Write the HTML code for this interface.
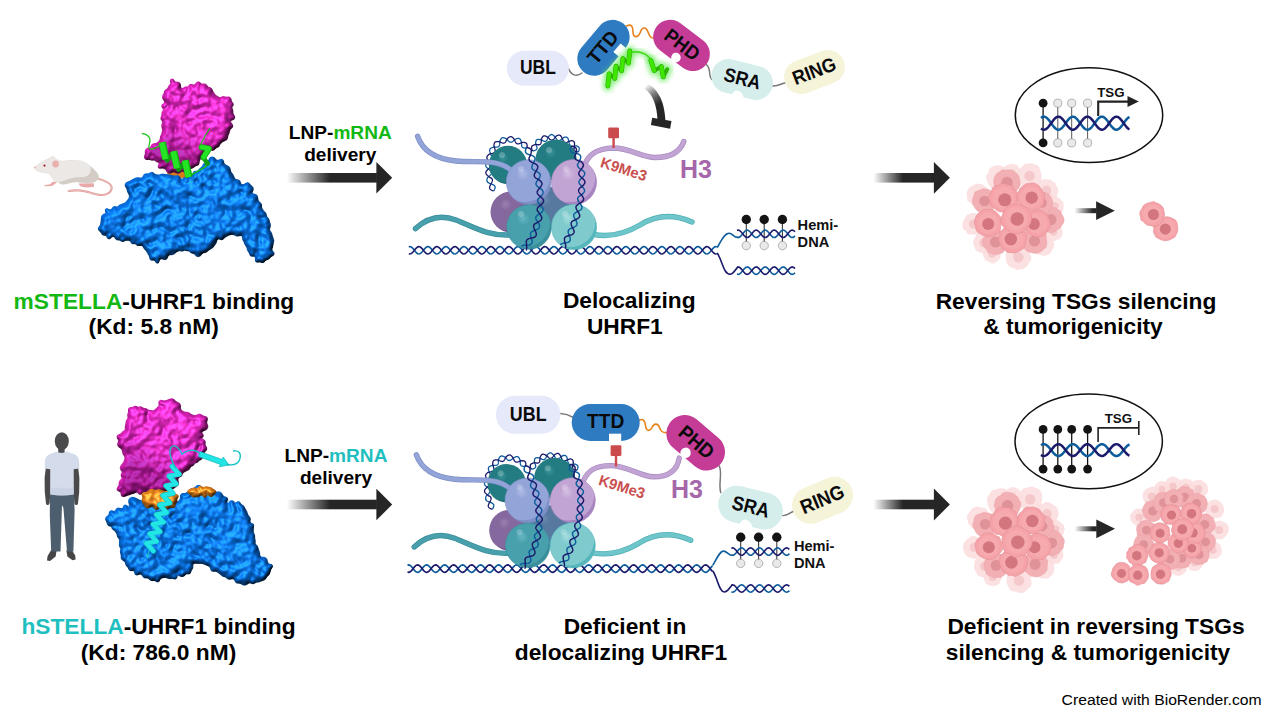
<!DOCTYPE html>
<html lang="en"><head><meta charset="utf-8"><title>STELLA-UHRF1 graphical abstract</title>
<style>
html,body{margin:0;padding:0;background:#fff;}
body{width:1269px;height:714px;overflow:hidden;}
svg{display:block;font-family:'Liberation Sans', Arial, sans-serif;}
</style></head><body>
<svg width="1269" height="714" viewBox="0 0 1269 714">
<defs>
<linearGradient id="ga1" gradientUnits="userSpaceOnUse" x1="286.8" y1="0" x2="330" y2="0"><stop offset="0" stop-color="#262626" stop-opacity="0"/><stop offset="0.35" stop-color="#262626" stop-opacity="0.35"/><stop offset="1" stop-color="#262626" stop-opacity="1"/></linearGradient>
<linearGradient id="ga2" gradientUnits="userSpaceOnUse" x1="873.4" y1="0" x2="903" y2="0"><stop offset="0" stop-color="#262626" stop-opacity="0"/><stop offset="0.35" stop-color="#262626" stop-opacity="0.35"/><stop offset="1" stop-color="#262626" stop-opacity="1"/></linearGradient>
<linearGradient id="ga3" gradientUnits="userSpaceOnUse" x1="286.8" y1="0" x2="330" y2="0"><stop offset="0" stop-color="#262626" stop-opacity="0"/><stop offset="0.35" stop-color="#262626" stop-opacity="0.35"/><stop offset="1" stop-color="#262626" stop-opacity="1"/></linearGradient>
<linearGradient id="ga4" gradientUnits="userSpaceOnUse" x1="873.4" y1="0" x2="903" y2="0"><stop offset="0" stop-color="#262626" stop-opacity="0"/><stop offset="0.35" stop-color="#262626" stop-opacity="0.35"/><stop offset="1" stop-color="#262626" stop-opacity="1"/></linearGradient>
<radialGradient id="sDT" cx="0.42" cy="0.4" r="0.66" fx="0.36" fy="0.3"><stop offset="0" stop-color="#3a9499"/><stop offset="0.22" stop-color="#237c82"/><stop offset="0.84" stop-color="#237c82"/><stop offset="0.86" stop-color="#1d6b73"/><stop offset="1" stop-color="#1d6b73"/></radialGradient>
<radialGradient id="sPW" cx="0.42" cy="0.4" r="0.66" fx="0.36" fy="0.3"><stop offset="0" stop-color="#aebbe6"/><stop offset="0.22" stop-color="#93a4d8"/><stop offset="0.84" stop-color="#93a4d8"/><stop offset="0.86" stop-color="#7f90c8"/><stop offset="1" stop-color="#7f90c8"/></radialGradient>
<radialGradient id="sLI" cx="0.42" cy="0.4" r="0.66" fx="0.36" fy="0.3"><stop offset="0" stop-color="#d6c0e3"/><stop offset="0.22" stop-color="#c1a4d3"/><stop offset="0.84" stop-color="#c1a4d3"/><stop offset="0.86" stop-color="#a884c0"/><stop offset="1" stop-color="#a884c0"/></radialGradient>
<radialGradient id="sPU" cx="0.42" cy="0.4" r="0.66" fx="0.36" fy="0.3"><stop offset="0" stop-color="#9a80b0"/><stop offset="0.22" stop-color="#85689e"/><stop offset="0.84" stop-color="#85689e"/><stop offset="0.86" stop-color="#75588f"/><stop offset="1" stop-color="#75588f"/></radialGradient>
<radialGradient id="sSL" cx="0.42" cy="0.4" r="0.66" fx="0.36" fy="0.3"><stop offset="0" stop-color="#6a8ab0"/><stop offset="0.22" stop-color="#57789f"/><stop offset="0.84" stop-color="#57789f"/><stop offset="0.86" stop-color="#4a6a92"/><stop offset="1" stop-color="#4a6a92"/></radialGradient>
<radialGradient id="sTE" cx="0.42" cy="0.4" r="0.66" fx="0.36" fy="0.3"><stop offset="0" stop-color="#66b6c0"/><stop offset="0.22" stop-color="#48a0ad"/><stop offset="0.84" stop-color="#48a0ad"/><stop offset="0.86" stop-color="#3b8e9c"/><stop offset="1" stop-color="#3b8e9c"/></radialGradient>
<radialGradient id="sLT" cx="0.42" cy="0.4" r="0.66" fx="0.36" fy="0.3"><stop offset="0" stop-color="#a6dfe0"/><stop offset="0.22" stop-color="#7fcacd"/><stop offset="0.84" stop-color="#7fcacd"/><stop offset="0.86" stop-color="#55b6bc"/><stop offset="1" stop-color="#55b6bc"/></radialGradient>
<filter id="glow" x="-40%" y="-40%" width="180%" height="180%"><feGaussianBlur stdDeviation="2.4"/></filter>
<linearGradient id="inh" gradientUnits="userSpaceOnUse" x1="646" y1="85" x2="659" y2="104"><stop offset="0" stop-color="#262626" stop-opacity="0"/><stop offset="0.5" stop-color="#262626" stop-opacity="0.6"/><stop offset="1" stop-color="#262626"/></linearGradient>
<linearGradient id="sa1" gradientUnits="userSpaceOnUse" x1="1074.4" y1="0" x2="1093" y2="0"><stop offset="0" stop-color="#262626" stop-opacity="0"/><stop offset="0.35" stop-color="#262626" stop-opacity="0.35"/><stop offset="1" stop-color="#262626" stop-opacity="1"/></linearGradient>
<linearGradient id="sa2" gradientUnits="userSpaceOnUse" x1="1074.6" y1="0" x2="1093" y2="0"><stop offset="0" stop-color="#262626" stop-opacity="0"/><stop offset="0.35" stop-color="#262626" stop-opacity="0.35"/><stop offset="1" stop-color="#262626" stop-opacity="1"/></linearGradient>
<filter id="bBlue" x="-5%" y="-5%" width="110%" height="110%" color-interpolation-filters="sRGB"><feGaussianBlur in="SourceAlpha" stdDeviation="1.0" result="h"/><feDiffuseLighting in="h" surfaceScale="5.5" diffuseConstant="1.0" lighting-color="#0876ee" result="d"><feDistantLight azimuth="235" elevation="64"/></feDiffuseLighting><feSpecularLighting in="h" surfaceScale="5.5" specularConstant="0.36" specularExponent="26" lighting-color="#58b4ff" result="s"><feDistantLight azimuth="235" elevation="64"/></feSpecularLighting><feComposite in="d" in2="s" operator="arithmetic" k1="0" k2="1" k3="1" k4="0" result="lit"/><feComponentTransfer in="h" result="mask"><feFuncA type="linear" slope="9" intercept="-1.25"/></feComponentTransfer><feComposite in="lit" in2="mask" operator="in"/></filter>
<filter id="bMag" x="-5%" y="-5%" width="110%" height="110%" color-interpolation-filters="sRGB"><feGaussianBlur in="SourceAlpha" stdDeviation="1.0" result="h"/><feDiffuseLighting in="h" surfaceScale="5.5" diffuseConstant="1.0" lighting-color="#ee26c8" result="d"><feDistantLight azimuth="235" elevation="64"/></feDiffuseLighting><feSpecularLighting in="h" surfaceScale="5.5" specularConstant="0.36" specularExponent="26" lighting-color="#ff8ce8" result="s"><feDistantLight azimuth="235" elevation="64"/></feSpecularLighting><feComposite in="d" in2="s" operator="arithmetic" k1="0" k2="1" k3="1" k4="0" result="lit"/><feComponentTransfer in="h" result="mask"><feFuncA type="linear" slope="9" intercept="-1.25"/></feComponentTransfer><feComposite in="lit" in2="mask" operator="in"/></filter>
<filter id="bOr" x="-5%" y="-5%" width="110%" height="110%" color-interpolation-filters="sRGB"><feGaussianBlur in="SourceAlpha" stdDeviation="1.0" result="h"/><feDiffuseLighting in="h" surfaceScale="4.5" diffuseConstant="1.0" lighting-color="#f0881c" result="d"><feDistantLight azimuth="235" elevation="64"/></feDiffuseLighting><feSpecularLighting in="h" surfaceScale="4.5" specularConstant="0.5" specularExponent="26" lighting-color="#ffd08a" result="s"><feDistantLight azimuth="235" elevation="64"/></feSpecularLighting><feComposite in="d" in2="s" operator="arithmetic" k1="0" k2="1" k3="1" k4="0" result="lit"/><feComponentTransfer in="h" result="mask"><feFuncA type="linear" slope="9" intercept="-1.25"/></feComponentTransfer><feComposite in="lit" in2="mask" operator="in"/></filter>
<radialGradient id="hh"><stop offset="0" stop-color="#fff" stop-opacity="0.5"/><stop offset="0.55" stop-color="#fff" stop-opacity="0.32"/><stop offset="1" stop-color="#fff" stop-opacity="0"/></radialGradient>
<radialGradient id="hf"><stop offset="0" stop-color="#fff" stop-opacity="0.2"/><stop offset="0.6" stop-color="#fff" stop-opacity="0.15"/><stop offset="1" stop-color="#fff" stop-opacity="0"/></radialGradient>
<linearGradient id="bOrL" x1="0" y1="0" x2="0" y2="1"><stop offset="0" stop-color="#f09a38"/><stop offset="0.5" stop-color="#dd7f1c"/><stop offset="1" stop-color="#b86410"/></linearGradient>
<linearGradient id="shMag" x1="0.7" y1="0.25" x2="0.3" y2="1"><stop offset="0" stop-color="#4a0045" stop-opacity="0"/><stop offset="0.45" stop-color="#4a0045" stop-opacity="0.05"/><stop offset="0.75" stop-color="#4a0045" stop-opacity="0.36"/><stop offset="1" stop-color="#4a0045" stop-opacity="0.42"/></linearGradient>
<filter id="soft2" x="-10%" y="-10%" width="120%" height="120%"><feGaussianBlur stdDeviation="1.6"/></filter>
<filter id="soft" x="-3%" y="-3%" width="106%" height="106%"><feGaussianBlur stdDeviation="0.35"/></filter>
</defs>
<rect width="1269" height="714" fill="#fff"/>
<text x="153.9" y="308.5" font-size="22.75" font-weight="bold" text-anchor="middle" fill="#000" ><tspan fill="#14b814">mSTELLA</tspan>-UHRF1 binding</text>
<text x="153.7" y="334.2" font-size="22.75" font-weight="bold" text-anchor="middle" fill="#000" >(Kd: 5.8 nM)</text>
<text x="629.3" y="308.2" font-size="22.75" font-weight="bold" text-anchor="middle" fill="#000" >Delocalizing</text>
<text x="624.8" y="333.8" font-size="22.75" font-weight="bold" text-anchor="middle" fill="#000" >UHRF1</text>
<text x="1076" y="308.5" font-size="22.75" font-weight="bold" text-anchor="middle" fill="#000" >Reversing TSGs silencing</text>
<text x="1073" y="334.2" font-size="22.75" font-weight="bold" text-anchor="middle" fill="#000" >&amp; tumorigenicity</text>
<text x="158.5" y="633.5" font-size="22.75" font-weight="bold" text-anchor="middle" fill="#000" ><tspan fill="#1fbfbf">hSTELLA</tspan>-UHRF1 binding</text>
<text x="158.5" y="659.5" font-size="22.75" font-weight="bold" text-anchor="middle" fill="#000" >(Kd: 786.0 nM)</text>
<text x="625" y="633.5" font-size="22.75" font-weight="bold" text-anchor="middle" fill="#000" >Deficient in</text>
<text x="621" y="659.5" font-size="22.75" font-weight="bold" text-anchor="middle" fill="#000" >delocalizing UHRF1</text>
<text x="1096" y="633.5" font-size="22.75" font-weight="bold" text-anchor="middle" fill="#000" >Deficient in reversing TSGs</text>
<text x="1088" y="659.5" font-size="22.75" font-weight="bold" text-anchor="middle" fill="#000" >silencing &amp; tumorigenicity</text>
<text x="340.3" y="138.7" font-size="19.1" font-weight="bold" text-anchor="middle" fill="#000" >LNP-<tspan fill="#14b814">mRNA</tspan></text>
<text x="340.3" y="160.7" font-size="19.1" font-weight="bold" text-anchor="middle" fill="#000" >delivery</text>
<text x="336" y="461.5" font-size="19.1" font-weight="bold" text-anchor="middle" fill="#000" >LNP-<tspan fill="#1fbfbf">mRNA</tspan></text>
<text x="336" y="483.5" font-size="19.1" font-weight="bold" text-anchor="middle" fill="#000" >delivery</text>
<text x="1261.6" y="704.7" font-size="15.2" font-weight="normal" text-anchor="end" fill="#000" textLength="200" lengthAdjust="spacingAndGlyphs">Created with BioRender.com</text>
<rect x="286.8" y="173" width="90.1" height="9.6" fill="url(#ga1)"/>
<polygon points="376.4,162 392.2,177.8 376.4,193.6" fill="#262626"/>
<rect x="873.4" y="173" width="61" height="9.6" fill="url(#ga2)"/>
<polygon points="933.9,161.9 949.9,177.8 933.9,193.7" fill="#262626"/>
<rect x="286.8" y="499.7" width="90.1" height="9.6" fill="url(#ga3)"/>
<polygon points="376.4,488.7 392.2,504.5 376.4,520.3" fill="#262626"/>
<rect x="873.4" y="499.7" width="61" height="9.6" fill="url(#ga4)"/>
<polygon points="933.9,488.6 949.9,504.5 933.9,520.4" fill="#262626"/>
<path d="M408.8,246.87 L409.8,246.6 L410.8,246.78 L411.8,247.39 L412.8,248.34 L413.8,249.54 L414.8,250.82 L415.8,252.04 L416.8,253.05 L417.8,253.73 L418.8,254 L419.8,253.82 L420.8,253.21 L421.8,252.26 L422.8,251.06 L423.8,249.78 L424.8,248.56 L425.8,247.55 L426.8,246.87 L427.8,246.6 L428.8,246.78 L429.8,247.39 L430.8,248.34 L431.8,249.54 L432.8,250.82 L433.8,252.04 L434.8,253.05 L435.8,253.73 L436.8,254 L437.8,253.82 L438.8,253.21 L439.8,252.26 L440.8,251.06 L441.8,249.78 L442.8,248.56 L443.8,247.55 L444.8,246.87 L445.8,246.6 L446.8,246.78 L447.8,247.39 L448.8,248.34 L449.8,249.54 L450.8,250.82 L451.8,252.04 L452.8,253.05 L453.8,253.73 L454.8,254 L455.8,253.82 L456.8,253.21 L457.8,252.26 L458.8,251.06 L459.8,249.78 L460.8,248.56 L461.8,247.55 L462.8,246.87 L463.8,246.6 L464.8,246.78 L465.8,247.39 L466.8,248.34 L467.8,249.54 L468.8,250.82 L469.8,252.04 L470.8,253.05 L471.8,253.73 L472.8,254 L473.8,253.82 L474.8,253.21 L475.8,252.26 L476.8,251.06 L477.8,249.78 L478.8,248.56 L479.8,247.55 L480.8,246.87 L481.8,246.6 L482.8,246.78 L483.8,247.39 L484.8,248.34 L485.8,249.54 L486.8,250.82 L487.8,252.04 L488.8,253.05 L489.8,253.73 L490.8,254 L491.8,253.82 L492.8,253.21 L493.8,252.26 L494.8,251.06 L495.8,249.78 L496.8,248.56 L497.8,247.55 L498.8,246.87 L499.8,246.6 L500.8,246.78 L501.8,247.39 L502.8,248.34 L503.8,249.54 L504.8,250.82 L505.8,252.04 L506.8,253.05 L507.8,253.73 L508.8,254 L509.8,253.82 L510.8,253.21 L511.8,252.26 L512.8,251.06 L513.8,249.78 L514.8,248.56 L515.8,247.55 L516.8,246.87 L517.8,246.6 L518.8,246.78 L519.8,247.39 L520.8,248.34 L521.8,249.54 L522.8,250.82 L523.8,252.04 L524.8,253.05 L525.8,253.73 L526.8,254 L527.8,253.82 L528.8,253.21 L529.8,252.26 L530.8,251.06 L531.8,249.78 L532.8,248.56 L533.8,247.55 L534.8,246.87 L535.8,246.6 L536.8,246.78 L537.8,247.39 L538.8,248.34 L539.8,249.54 L540.8,250.82 L541.8,252.04 L542.8,253.05 L543.8,253.73 L544.8,254 L545.8,253.82 L546.8,253.21 L547.8,252.26 L548.8,251.06 L549.8,249.78 L550.8,248.56 L551.8,247.55 L552.8,246.87 L553.8,246.6 L554.8,246.78 L555.8,247.39 L556.8,248.34 L557.8,249.54 L558.8,250.82 L559.8,252.04 L560.8,253.05 L561.8,253.73 L562.8,254 L563.8,253.82 L564.8,253.21 L565.8,252.26 L566.8,251.06 L567.8,249.78 L568.8,248.56 L569.8,247.55 L570.8,246.87 L571.8,246.6 L572.8,246.78 L573.8,247.39 L574.8,248.34 L575.8,249.54 L576.8,250.82 L577.8,252.04 L578.8,253.05 L579.8,253.73 L580.8,254 L581.8,253.82 L582.8,253.21 L583.8,252.26 L584.8,251.06 L585.8,249.78 L586.8,248.56 L587.8,247.55 L588.8,246.87 L589.8,246.6 L590.8,246.78 L591.8,247.39 L592.8,248.34 L593.8,249.54 L594.8,250.82 L595.8,252.04 L596.8,253.05 L597.8,253.73 L598.8,254 L599.8,253.82 L600.8,253.21 L601.8,252.26 L602.8,251.06 L603.8,249.78 L604.8,248.56 L605.8,247.55 L606.8,246.87 L607.8,246.6 L608.8,246.78 L609.8,247.39 L610.8,248.34 L611.8,249.54 L612.8,250.82 L613.8,252.04 L614.8,253.05 L615.8,253.73 L616.8,254 L617.8,253.82 L618.8,253.21 L619.8,252.26 L620.8,251.06 L621.8,249.78 L622.8,248.56 L623.8,247.55 L624.8,246.87 L625.8,246.6 L626.8,246.78 L627.8,247.39 L628.8,248.34 L629.8,249.54 L630.8,250.82 L631.8,252.04 L632.8,253.05 L633.8,253.73 L634.8,254 L635.8,253.82 L636.8,253.21 L637.8,252.26 L638.8,251.06 L639.8,249.78 L640.8,248.56 L641.8,247.55 L642.8,246.87 L643.8,246.6 L644.8,246.78 L645.8,247.39 L646.8,248.34 L647.8,249.54 L648.8,250.82 L649.8,252.04 L650.8,253.05 L651.8,253.73 L652.8,254 L653.8,253.82 L654.8,253.21 L655.8,252.26 L656.8,251.06 L657.8,249.78 L658.8,248.56 L659.8,247.55 L660.8,246.87 L661.8,246.6 L662.8,246.78 L663.8,247.39 L664.8,248.34 L665.8,249.54 L666.8,250.82 L667.8,252.04 L668.8,253.05 L669.8,253.73 L670.8,254 L671.8,253.82 L672.8,253.21 L673.8,252.26 L674.8,251.06 L675.8,249.78 L676.8,248.56 L677.8,247.55 L678.8,246.87 L679.8,246.6 L680.8,246.78 L681.8,247.39 L682.8,248.34 L683.8,249.54 L684.8,250.82 L685.8,252.04 L686.8,253.05 L687.8,253.73 L688.8,254 L689.8,253.82 L690.8,253.21 L691.8,252.26 L692.8,251.06 L693.8,249.78 L694.8,248.56 L695.8,247.55 L696.8,246.87 L697.8,246.6 L698.8,246.78 L699.8,247.39 L700.8,248.34 L701.8,249.54 L702.8,250.82 L703.8,252.04 L704.8,253.05 L705.8,253.73 L706.8,254 L707.8,253.82 L708.8,253.21 L709.8,252.26 L710.8,251.06 L711.8,249.78 L712.8,248.56 L713.8,247.55 L714.8,246.87 L715.8,246.6 L716.8,246.78" fill="none" stroke="#0d5c9c" stroke-width="1.65"/>
<path d="M408.8,253.73 L409.8,254 L410.8,253.82 L411.8,253.21 L412.8,252.26 L413.8,251.06 L414.8,249.78 L415.8,248.56 L416.8,247.55 L417.8,246.87 L418.8,246.6 L419.8,246.78 L420.8,247.39 L421.8,248.34 L422.8,249.54 L423.8,250.82 L424.8,252.04 L425.8,253.05 L426.8,253.73 L427.8,254 L428.8,253.82 L429.8,253.21 L430.8,252.26 L431.8,251.06 L432.8,249.78 L433.8,248.56 L434.8,247.55 L435.8,246.87 L436.8,246.6 L437.8,246.78 L438.8,247.39 L439.8,248.34 L440.8,249.54 L441.8,250.82 L442.8,252.04 L443.8,253.05 L444.8,253.73 L445.8,254 L446.8,253.82 L447.8,253.21 L448.8,252.26 L449.8,251.06 L450.8,249.78 L451.8,248.56 L452.8,247.55 L453.8,246.87 L454.8,246.6 L455.8,246.78 L456.8,247.39 L457.8,248.34 L458.8,249.54 L459.8,250.82 L460.8,252.04 L461.8,253.05 L462.8,253.73 L463.8,254 L464.8,253.82 L465.8,253.21 L466.8,252.26 L467.8,251.06 L468.8,249.78 L469.8,248.56 L470.8,247.55 L471.8,246.87 L472.8,246.6 L473.8,246.78 L474.8,247.39 L475.8,248.34 L476.8,249.54 L477.8,250.82 L478.8,252.04 L479.8,253.05 L480.8,253.73 L481.8,254 L482.8,253.82 L483.8,253.21 L484.8,252.26 L485.8,251.06 L486.8,249.78 L487.8,248.56 L488.8,247.55 L489.8,246.87 L490.8,246.6 L491.8,246.78 L492.8,247.39 L493.8,248.34 L494.8,249.54 L495.8,250.82 L496.8,252.04 L497.8,253.05 L498.8,253.73 L499.8,254 L500.8,253.82 L501.8,253.21 L502.8,252.26 L503.8,251.06 L504.8,249.78 L505.8,248.56 L506.8,247.55 L507.8,246.87 L508.8,246.6 L509.8,246.78 L510.8,247.39 L511.8,248.34 L512.8,249.54 L513.8,250.82 L514.8,252.04 L515.8,253.05 L516.8,253.73 L517.8,254 L518.8,253.82 L519.8,253.21 L520.8,252.26 L521.8,251.06 L522.8,249.78 L523.8,248.56 L524.8,247.55 L525.8,246.87 L526.8,246.6 L527.8,246.78 L528.8,247.39 L529.8,248.34 L530.8,249.54 L531.8,250.82 L532.8,252.04 L533.8,253.05 L534.8,253.73 L535.8,254 L536.8,253.82 L537.8,253.21 L538.8,252.26 L539.8,251.06 L540.8,249.78 L541.8,248.56 L542.8,247.55 L543.8,246.87 L544.8,246.6 L545.8,246.78 L546.8,247.39 L547.8,248.34 L548.8,249.54 L549.8,250.82 L550.8,252.04 L551.8,253.05 L552.8,253.73 L553.8,254 L554.8,253.82 L555.8,253.21 L556.8,252.26 L557.8,251.06 L558.8,249.78 L559.8,248.56 L560.8,247.55 L561.8,246.87 L562.8,246.6 L563.8,246.78 L564.8,247.39 L565.8,248.34 L566.8,249.54 L567.8,250.82 L568.8,252.04 L569.8,253.05 L570.8,253.73 L571.8,254 L572.8,253.82 L573.8,253.21 L574.8,252.26 L575.8,251.06 L576.8,249.78 L577.8,248.56 L578.8,247.55 L579.8,246.87 L580.8,246.6 L581.8,246.78 L582.8,247.39 L583.8,248.34 L584.8,249.54 L585.8,250.82 L586.8,252.04 L587.8,253.05 L588.8,253.73 L589.8,254 L590.8,253.82 L591.8,253.21 L592.8,252.26 L593.8,251.06 L594.8,249.78 L595.8,248.56 L596.8,247.55 L597.8,246.87 L598.8,246.6 L599.8,246.78 L600.8,247.39 L601.8,248.34 L602.8,249.54 L603.8,250.82 L604.8,252.04 L605.8,253.05 L606.8,253.73 L607.8,254 L608.8,253.82 L609.8,253.21 L610.8,252.26 L611.8,251.06 L612.8,249.78 L613.8,248.56 L614.8,247.55 L615.8,246.87 L616.8,246.6 L617.8,246.78 L618.8,247.39 L619.8,248.34 L620.8,249.54 L621.8,250.82 L622.8,252.04 L623.8,253.05 L624.8,253.73 L625.8,254 L626.8,253.82 L627.8,253.21 L628.8,252.26 L629.8,251.06 L630.8,249.78 L631.8,248.56 L632.8,247.55 L633.8,246.87 L634.8,246.6 L635.8,246.78 L636.8,247.39 L637.8,248.34 L638.8,249.54 L639.8,250.82 L640.8,252.04 L641.8,253.05 L642.8,253.73 L643.8,254 L644.8,253.82 L645.8,253.21 L646.8,252.26 L647.8,251.06 L648.8,249.78 L649.8,248.56 L650.8,247.55 L651.8,246.87 L652.8,246.6 L653.8,246.78 L654.8,247.39 L655.8,248.34 L656.8,249.54 L657.8,250.82 L658.8,252.04 L659.8,253.05 L660.8,253.73 L661.8,254 L662.8,253.82 L663.8,253.21 L664.8,252.26 L665.8,251.06 L666.8,249.78 L667.8,248.56 L668.8,247.55 L669.8,246.87 L670.8,246.6 L671.8,246.78 L672.8,247.39 L673.8,248.34 L674.8,249.54 L675.8,250.82 L676.8,252.04 L677.8,253.05 L678.8,253.73 L679.8,254 L680.8,253.82 L681.8,253.21 L682.8,252.26 L683.8,251.06 L684.8,249.78 L685.8,248.56 L686.8,247.55 L687.8,246.87 L688.8,246.6 L689.8,246.78 L690.8,247.39 L691.8,248.34 L692.8,249.54 L693.8,250.82 L694.8,252.04 L695.8,253.05 L696.8,253.73 L697.8,254 L698.8,253.82 L699.8,253.21 L700.8,252.26 L701.8,251.06 L702.8,249.78 L703.8,248.56 L704.8,247.55 L705.8,246.87 L706.8,246.6 L707.8,246.78 L708.8,247.39 L709.8,248.34 L710.8,249.54 L711.8,250.82 L712.8,252.04 L713.8,253.05 L714.8,253.73 L715.8,254 L716.8,253.82" fill="none" stroke="#1b1a6b" stroke-width="1.65"/>
<g transform="translate(0,0)">
<path d="M493.7,191 L494,190.44 L494.29,189.88 L494.55,189.33 L494.78,188.79 L494.95,188.28 L495.06,187.78 L495.11,187.31 L495.08,186.87 L494.98,186.46 L494.8,186.08 L494.54,185.73 L494.21,185.4 L493.81,185.1 L493.35,184.82 L492.84,184.57 L492.29,184.32 L491.7,184.09 L491.11,183.87 L490.51,183.64 L489.92,183.42 L489.35,183.18 L488.82,182.93 L488.34,182.66 L487.92,182.37 L487.56,182.05 L487.28,181.71 L487.07,181.34 L486.94,180.93 L486.88,180.5 L486.9,180.05 L487,179.56 L487.15,179.05 L487.26,178.03 L487.67,177.6 L488.12,177.16 L488.58,176.72 L489.05,176.29 L489.51,175.85 L489.95,175.41 L490.35,174.98 L490.7,174.54 L490.99,174.11 L491.21,173.68 L491.36,173.26 L491.42,172.83 L491.4,172.41 L491.3,171.99 L491.12,171.58 L490.86,171.16 L490.54,170.75 L490.16,170.34 L489.72,169.94 L489.26,169.53 L488.77,169.12 L488.27,168.72 L487.78,168.31 L487.31,167.91 L486.88,167.5 L486.49,167.09 L486.16,166.68 L485.89,166.27 L485.77,165.38 L485.74,164.95 L485.79,164.53 L485.92,164.12 L486.13,163.73 L486.42,163.34 L486.78,162.97 L487.2,162.6 L487.66,162.24 L488.17,161.89 L488.69,161.54 L489.23,161.19 L489.77,160.85 L490.28,160.49 L490.77,160.14 L491.21,159.78 L491.59,159.41 L491.91,159.03 L492.16,158.64 L492.33,158.24 L492.42,157.82 L492.42,157.4 L492.35,156.96 L492.19,156.51 L491.97,156.05 L491.68,155.59 L491.23,155.56 L491.04,154.98 L490.82,154.39 L490.6,153.79 L490.37,153.19 L490.16,152.6 L489.98,152.02 L489.83,151.47 L489.73,150.93 L489.68,150.43 L489.7,149.97 L489.79,149.54 L489.96,149.14 L490.19,148.79 L490.5,148.48 L490.88,148.2 L491.32,147.96 L491.82,147.75 L492.36,147.56 L492.94,147.4 L493.55,147.24 L494.18,147.1 L494.8,146.95 L495.23,147.05 L495.84,147.1 L496.42,147.11 L496.97,147.09 L497.47,147.02 L497.93,146.89 L498.34,146.71 L498.69,146.47 L498.98,146.17 L499.22,145.8 L499.41,145.38 L499.54,144.9 L499.63,144.38 L499.69,143.81 L499.71,143.21 L499.71,142.58 L499.7,141.95 L499.69,141.31 L500.05,140.62 L500.31,140.06 L500.58,139.54 L500.87,139.06 L501.18,138.65 L501.51,138.3 L501.86,138.02 L502.24,137.82 L502.64,137.7 L503.07,137.66 L503.53,137.69 L504.01,137.8 L504.51,137.97 L505.02,138.19 L505.55,138.46 L506.1,138.76 L506.65,139.08 L507.2,139.41 L507.46,139.86 L507.84,140.35 L508.22,140.8 L508.61,141.21 L509,141.55 L509.4,141.83 L509.8,142.04 L510.21,142.16 L510.63,142.21 L511.06,142.17 L511.49,142.04 L511.94,141.85 L512.38,141.58 L512.84,141.26 L513.29,140.88 L513.75,140.47 L514.22,140.04 L514.68,139.59 L515.33,139.23 L515.9,138.97 L516.45,138.74 L516.99,138.56 L517.5,138.42 L517.99,138.35 L518.45,138.35 L518.87,138.42 L519.27,138.56 L519.63,138.78 L519.97,139.08 L520.27,139.45 L520.54,139.88 L520.8,140.37 L521.03,140.91 L521.24,141.49 L521.45,142.08 L521.65,142.69 L521.62,143.23 L521.58,143.85 L521.56,144.46 L521.57,145.03 L521.63,145.57 L521.72,146.06 L521.88,146.5 L522.08,146.88 L522.35,147.21 L522.68,147.48 L523.07,147.69 L523.51,147.85 L524,147.96 L524.54,148.02 L525.12,148.05 L525.73,148.05 L526.36,148.03 L527,148" fill="none" stroke="#0d5c9c" stroke-width="1.3" stroke-linejoin="round"/>
<path d="M493.7,191 L493.1,190.78 L492.52,190.55 L491.96,190.31 L491.44,190.05 L490.96,189.78 L490.55,189.48 L490.21,189.16 L489.94,188.81 L489.74,188.44 L489.63,188.03 L489.59,187.59 L489.62,187.13 L489.72,186.64 L489.89,186.13 L490.1,185.6 L490.36,185.05 L490.64,184.49 L490.94,183.93 L491.24,183.37 L491.54,182.81 L491.8,182.25 L492.03,181.72 L492.22,181.2 L492.34,180.7 L492.4,180.23 L492.39,179.78 L492.3,179.36 L492.14,178.97 L491.89,178.62 L491.57,178.29 L491.19,177.98 L490.74,177.7 L490.34,177.93 L489.9,177.52 L489.42,177.12 L488.93,176.71 L488.44,176.31 L487.95,175.9 L487.48,175.49 L487.06,175.09 L486.68,174.68 L486.36,174.27 L486.11,173.85 L485.93,173.44 L485.84,173.02 L485.83,172.6 L485.9,172.17 L486.06,171.74 L486.29,171.32 L486.58,170.88 L486.94,170.45 L487.34,170.01 L487.78,169.58 L488.24,169.14 L488.71,168.7 L489.17,168.27 L489.61,167.83 L490.02,167.39 L490.38,166.96 L490.68,166.53 L490.92,166.1 L491.1,166.15 L491.25,165.75 L491.32,165.33 L491.31,164.9 L491.22,164.47 L491.05,164.01 L490.82,163.55 L490.52,163.09 L490.18,162.61 L489.8,162.13 L489.39,161.64 L488.97,161.16 L488.56,160.67 L488.16,160.19 L487.8,159.71 L487.48,159.23 L487.22,158.77 L487.02,158.32 L486.89,157.87 L486.84,157.44 L486.88,157.02 L487,156.61 L487.19,156.21 L487.47,155.82 L487.81,155.45 L488.22,155.08 L488.85,154.29 L489.44,154.13 L490.05,153.98 L490.67,153.83 L491.3,153.69 L491.91,153.53 L492.49,153.37 L493.03,153.18 L493.53,152.97 L493.97,152.73 L494.35,152.45 L494.66,152.14 L494.89,151.79 L495.06,151.39 L495.15,150.96 L495.17,150.5 L495.12,150 L495.02,149.46 L494.88,148.91 L494.69,148.33 L494.48,147.74 L494.25,147.14 L494.03,146.54 L494.01,145.71 L494.03,145.1 L494.07,144.52 L494.15,143.98 L494.26,143.48 L494.43,143.04 L494.65,142.65 L494.92,142.33 L495.26,142.06 L495.64,141.86 L496.08,141.72 L496.57,141.63 L497.1,141.59 L497.67,141.59 L498.27,141.62 L498.89,141.68 L499.53,141.75 L500.16,141.83 L500.56,142.18 L501.11,142.47 L501.63,142.73 L502.15,142.94 L502.64,143.1 L503.11,143.18 L503.56,143.2 L503.98,143.13 L504.38,142.99 L504.75,142.77 L505.1,142.47 L505.42,142.1 L505.72,141.67 L506.01,141.18 L506.27,140.65 L506.53,140.09 L506.78,139.5 L507.03,138.91 L507.59,138.38 L508.05,137.97 L508.51,137.59 L508.97,137.26 L509.41,136.99 L509.86,136.79 L510.29,136.66 L510.72,136.61 L511.14,136.65 L511.55,136.76 L511.96,136.96 L512.35,137.23 L512.75,137.58 L513.13,137.98 L513.52,138.43 L513.9,138.92 L514.27,139.43 L514.65,139.94 L514.82,140.44 L515.04,141.02 L515.26,141.58 L515.5,142.09 L515.77,142.55 L516.05,142.95 L516.37,143.28 L516.72,143.54 L517.1,143.72 L517.52,143.82 L517.96,143.85 L518.44,143.81 L518.94,143.7 L519.47,143.54 L520.01,143.33 L520.57,143.08 L521.14,142.81 L521.72,142.53 L522.44,142.44 L523.07,142.42 L523.67,142.43 L524.24,142.46 L524.77,142.54 L525.26,142.65 L525.69,142.82 L526.07,143.04 L526.39,143.32 L526.64,143.66 L526.84,144.06 L526.98,144.51 L527.07,145 L527.12,145.55 L527.12,146.13 L527.1,146.73 L527.05,147.36 L527,148" fill="none" stroke="#1b1a6b" stroke-width="1.3" stroke-linejoin="round"/>
<path d="M532.8,151 L533.24,150.88 L533.67,150.77 L534.1,150.64 L534.51,150.51 L534.9,150.37 L535.26,150.22 L535.6,150.06 L535.91,149.89 L536.18,149.69 L536.42,149.49 L536.62,149.26 L536.78,149.02 L536.9,148.75 L536.98,148.47 L537.02,148.18 L537.02,147.86 L536.99,147.53 L536.92,147.18 L536.82,146.82 L536.69,146.44 L536.54,146.06 L536.37,145.66 L536.19,145.26 L536,144.85 L535.8,144.45 L535.6,144.04 L535.64,143.4 L535.66,142.96 L535.69,142.53 L535.74,142.12 L535.8,141.73 L535.88,141.36 L535.98,141.02 L536.1,140.71 L536.25,140.43 L536.42,140.18 L536.62,139.97 L536.85,139.79 L537.1,139.65 L537.38,139.54 L537.69,139.47 L538.02,139.42 L538.38,139.41 L538.75,139.42 L539.15,139.46 L539.56,139.52 L539.98,139.59 L540.41,139.68 L540.85,139.77 L541.3,139.87 L541.74,139.97 L542.18,140.07 L542.29,140.36 L542.65,140.58 L543.01,140.79 L543.37,140.97 L543.71,141.11 L544.05,141.23 L544.37,141.31 L544.68,141.35 L544.98,141.36 L545.27,141.32 L545.55,141.23 L545.81,141.11 L546.07,140.94 L546.31,140.74 L546.53,140.49 L546.75,140.21 L546.96,139.9 L547.16,139.56 L547.35,139.19 L547.54,138.81 L547.72,138.41 L547.9,137.99 L548.07,137.57 L548.25,137.16 L548.43,136.74 L548.61,136.34 L549.19,135.95 L549.48,135.65 L549.76,135.38 L550.05,135.14 L550.34,134.94 L550.63,134.77 L550.92,134.64 L551.21,134.55 L551.49,134.51 L551.78,134.51 L552.07,134.55 L552.36,134.64 L552.65,134.77 L552.93,134.94 L553.22,135.14 L553.51,135.38 L553.8,135.65 L554.09,135.95 L554.38,136.27 L554.66,136.6 L554.95,136.95 L555.24,137.3 L555.53,137.65 L555.82,138 L556.1,138.33 L556.39,138.65 L556.31,138.95 L556.53,139.27 L556.76,139.57 L557,139.84 L557.24,140.07 L557.49,140.26 L557.76,140.4 L558.03,140.51 L558.31,140.58 L558.6,140.6 L558.9,140.57 L559.21,140.51 L559.53,140.41 L559.85,140.27 L560.19,140.1 L560.53,139.9 L560.88,139.68 L561.23,139.43 L561.58,139.17 L561.94,138.89 L562.3,138.61 L562.66,138.34 L563.01,138.06 L563.37,137.8 L563.72,137.55 L564.07,137.33 L564.41,137.13 L565.25,137.22 L565.6,137.17 L565.94,137.16 L566.25,137.18 L566.55,137.23 L566.82,137.33 L567.08,137.47 L567.31,137.64 L567.52,137.85 L567.72,138.1 L567.89,138.38 L568.05,138.7 L568.2,139.05 L568.32,139.42 L568.44,139.82 L568.55,140.24 L568.64,140.67 L568.74,141.11 L568.83,141.55 L568.92,142 L569.01,142.44 L569.11,142.87 L569.22,143.28 L569.33,143.68 L569.46,144.05 L569.6,144.4 L569.76,144.72 L569.35,144.63 L569.47,144.92 L569.62,145.18 L569.79,145.41 L570,145.61 L570.24,145.78 L570.51,145.92 L570.81,146.02 L571.13,146.1 L571.48,146.15 L571.86,146.17 L572.25,146.18 L572.67,146.16 L573.1,146.13 L573.54,146.09 L573.98,146.04 L574.43,145.98 L574.88,145.93 L575.33,145.88 L575.77,145.83 L576.2,145.8 L576.61,145.79 L577.3,146.29 L577.65,146.42 L577.97,146.57 L578.26,146.74 L578.51,146.93 L578.73,147.14 L578.91,147.37 L579.05,147.62 L579.15,147.89 L579.22,148.18 L579.24,148.5 L579.24,148.83 L579.2,149.19 L579.13,149.55 L579.03,149.94 L578.91,150.34 L578.78,150.74 L578.63,151.16 L578.47,151.58 L578.3,152" fill="none" stroke="#0d5c9c" stroke-width="1.3" stroke-linejoin="round"/>
<path d="M532.8,151 L532.6,150.59 L532.41,150.19 L532.22,149.79 L532.05,149.39 L531.9,149.01 L531.78,148.63 L531.68,148.27 L531.61,147.92 L531.57,147.59 L531.58,147.27 L531.62,146.97 L531.7,146.69 L531.82,146.43 L531.98,146.19 L532.18,145.96 L532.41,145.75 L532.69,145.56 L532.99,145.38 L533.33,145.22 L533.7,145.07 L534.09,144.93 L534.5,144.8 L534.92,144.68 L535.36,144.56 L535.8,144.45 L536.23,144.33 L536.5,144.5 L536.93,144.58 L537.35,144.66 L537.76,144.71 L538.16,144.75 L538.53,144.76 L538.88,144.75 L539.22,144.71 L539.52,144.63 L539.8,144.52 L540.06,144.38 L540.29,144.2 L540.49,143.99 L540.66,143.74 L540.81,143.46 L540.93,143.15 L541.03,142.81 L541.11,142.45 L541.17,142.06 L541.22,141.64 L541.25,141.22 L541.27,140.78 L541.28,140.33 L541.3,139.87 L541.31,139.42 L541.32,138.97 L541.7,138.38 L541.89,138 L542.08,137.63 L542.28,137.29 L542.49,136.98 L542.71,136.7 L542.93,136.45 L543.17,136.25 L543.42,136.08 L543.69,135.96 L543.97,135.88 L544.25,135.84 L544.56,135.84 L544.87,135.88 L545.19,135.96 L545.53,136.08 L545.87,136.23 L546.23,136.4 L546.59,136.61 L546.95,136.83 L547.32,137.07 L547.7,137.32 L548.07,137.57 L548.45,137.83 L548.82,138.08 L549.2,138.32 L549.19,138.65 L549.48,138.95 L549.76,139.22 L550.05,139.46 L550.34,139.66 L550.63,139.83 L550.92,139.96 L551.21,140.05 L551.49,140.09 L551.78,140.09 L552.07,140.05 L552.36,139.96 L552.65,139.83 L552.93,139.66 L553.22,139.46 L553.51,139.22 L553.8,138.95 L554.09,138.65 L554.38,138.33 L554.66,138 L554.95,137.65 L555.24,137.3 L555.53,136.95 L555.82,136.6 L556.1,136.27 L556.39,135.95 L557.04,135.74 L557.38,135.53 L557.72,135.36 L558.04,135.23 L558.36,135.12 L558.67,135.06 L558.97,135.04 L559.26,135.06 L559.54,135.12 L559.81,135.23 L560.08,135.38 L560.33,135.57 L560.57,135.8 L560.81,136.06 L561.04,136.36 L561.26,136.69 L561.47,137.04 L561.68,137.42 L561.89,137.81 L562.1,138.21 L562.3,138.61 L562.5,139.02 L562.71,139.42 L562.91,139.81 L563.12,140.18 L563.34,140.54 L563.56,140.87 L563.23,141.04 L563.39,141.35 L563.57,141.64 L563.76,141.89 L563.98,142.1 L564.21,142.27 L564.46,142.41 L564.74,142.5 L565.04,142.56 L565.35,142.58 L565.68,142.56 L566.04,142.52 L566.4,142.44 L566.79,142.33 L567.18,142.21 L567.58,142.06 L567.99,141.9 L568.41,141.73 L568.83,141.55 L569.25,141.38 L569.66,141.21 L570.07,141.04 L570.48,140.9 L570.87,140.77 L571.25,140.67 L571.62,140.59 L571.97,140.54 L572.85,140.96 L573.15,141.07 L573.42,141.2 L573.66,141.37 L573.86,141.57 L574.04,141.8 L574.19,142.06 L574.31,142.36 L574.4,142.68 L574.47,143.03 L574.51,143.4 L574.53,143.8 L574.53,144.21 L574.52,144.64 L574.5,145.08 L574.47,145.53 L574.43,145.98 L574.4,146.43 L574.37,146.88 L574.35,147.32 L574.34,147.75 L574.34,148.17 L573.95,148.16 L573.88,148.53 L573.84,148.88 L573.84,149.21 L573.86,149.53 L573.93,149.82 L574.03,150.1 L574.17,150.35 L574.35,150.58 L574.57,150.79 L574.82,150.97 L575.11,151.14 L575.43,151.29 L575.78,151.43 L576.16,151.55 L576.56,151.65 L576.98,151.75 L577.41,151.84 L577.85,151.92 L578.3,152" fill="none" stroke="#1b1a6b" stroke-width="1.3" stroke-linejoin="round"/>
<circle cx="508" cy="165" r="19.2" fill="url(#sDT)"/>
<circle cx="556" cy="160" r="20.6" fill="url(#sDT)"/>
<circle cx="511" cy="212" r="20.5" fill="url(#sPU)"/>
<circle cx="551" cy="208" r="21" fill="url(#sSL)"/>
<path d="M417.6,136.4 C423,152 436,159 456,161 C478,163 498,158 512,171" fill="none" stroke="#7d8ec8" stroke-width="5.4" stroke-linecap="round"/>
<path d="M417.6,136.4 C423,152 436,159 456,161 C478,163 498,158 512,171" fill="none" stroke="#93a4d8" stroke-width="4.0" stroke-linecap="round"/>
<path d="M415.5,228.6 C426,219 440,214 456,220 C474,227 488,236 510,235" fill="none" stroke="#3a8c9a" stroke-width="5.4" stroke-linecap="round"/>
<path d="M415.5,228.6 C426,219 440,214 456,220 C474,227 488,236 510,235" fill="none" stroke="#48a0ad" stroke-width="4.0" stroke-linecap="round"/>
<path d="M594,234.5 C612,238 628,232 640,225 C656,215 674,214 692,222" fill="none" stroke="#4fb0b6" stroke-width="5.4" stroke-linecap="round"/>
<path d="M594,234.5 C612,238 628,232 640,225 C656,215 674,214 692,222" fill="none" stroke="#6fc6ca" stroke-width="4.0" stroke-linecap="round"/>
<path d="M585,164 C590,152 600,148.5 613,148 C630,148 642,157.5 655,157.5 C670,157.5 680,152 683.8,141.5" fill="none" stroke="#a98bc2" stroke-width="5.4" stroke-linecap="round"/>
<path d="M585,164 C590,152 600,148.5 613,148 C630,148 642,157.5 655,157.5 C670,157.5 680,152 683.8,141.5" fill="none" stroke="#c1a4d3" stroke-width="4.0" stroke-linecap="round"/>
<circle cx="528.6" cy="182" r="22.3" fill="url(#sPW)" stroke="#7f90c8" stroke-width="0.6"/>
<circle cx="574" cy="182" r="22.6" fill="url(#sLI)" stroke="#a884c0" stroke-width="0.6"/>
<circle cx="529" cy="227" r="22.3" fill="url(#sTE)" stroke="#3b8e9c" stroke-width="0.6"/>
<circle cx="574" cy="227" r="22.6" fill="url(#sLT)" stroke="#55b6bc" stroke-width="0.6"/>
<circle cx="521" cy="169" r="3" fill="#fff" opacity="0.22"/>
<circle cx="566" cy="169" r="3" fill="#fff" opacity="0.22"/>
<circle cx="521" cy="214" r="3" fill="#fff" opacity="0.22"/>
<circle cx="565" cy="214" r="3" fill="#fff" opacity="0.22"/>
<circle cx="502" cy="155" r="3" fill="#fff" opacity="0.22"/>
<circle cx="549" cy="150" r="3" fill="#fff" opacity="0.22"/>
<path d="M526.4,147.3 L526.13,148.05 L525.89,148.79 L525.68,149.51 L525.53,150.2 L525.45,150.85 L525.46,151.45 L525.56,152.01 L525.76,152.51 L526.06,152.96 L526.47,153.36 L526.96,153.7 L527.54,154 L528.2,154.27 L528.91,154.5 L529.66,154.71 L530.43,154.92 L531.2,155.12 L531.95,155.33 L532.7,155.82 L533.31,156.18 L533.84,156.57 L534.27,156.99 L534.61,157.44 L534.84,157.93 L534.96,158.46 L534.98,159.02 L534.89,159.62 L534.72,160.25 L534.46,160.91 L534.15,161.59 L533.79,162.28 L533.42,162.98 L533.04,163.68 L532.68,164.38 L532.37,165.05 L532.12,165.71 L531.94,166.34 L531.85,166.94 L531.82,167.37 L531.92,167.91 L532.12,168.41 L532.44,168.88 L532.86,169.32 L533.36,169.73 L533.95,170.12 L534.6,170.49 L535.29,170.85 L536.01,171.2 L536.72,171.55 L537.41,171.91 L538.06,172.28 L538.65,172.67 L539.16,173.08 L539.57,173.52 L539.89,173.99 L540.1,174.49 L540.19,175.02 L540.18,175.58 L540.07,176.18 L539.86,176.8 L539.57,177.45 L539.21,178.25 L538.74,178.88 L538.25,179.51 L537.76,180.13 L537.3,180.76 L536.87,181.37 L536.51,181.98 L536.23,182.57 L536.05,183.15 L535.97,183.71 L536,184.25 L536.15,184.77 L536.4,185.27 L536.76,185.76 L537.22,186.23 L537.76,186.68 L538.36,187.13 L539,187.57 L539.67,188 L540.33,188.44 L540.98,188.88 L541.58,189.32 L542.13,190.01 L542.53,190.53 L542.83,191.05 L543.03,191.58 L543.12,192.12 L543.09,192.66 L542.95,193.2 L542.7,193.76 L542.36,194.32 L541.94,194.88 L541.45,195.44 L540.91,196.01 L540.36,196.58 L539.8,197.15 L539.27,197.72 L538.78,198.28 L538.36,198.85 L538.01,199.41 L537.77,199.96 L537.63,200.51 L537.6,201.05 L537.64,201.26 L537.78,201.81 L538.03,202.36 L538.37,202.92 L538.8,203.48 L539.28,204.05 L539.82,204.61 L540.37,205.18 L540.93,205.75 L541.46,206.32 L541.95,206.89 L542.37,207.45 L542.72,208.01 L542.96,208.56 L543.1,209.11 L543.13,209.65 L543.05,210.18 L542.85,210.71 L542.54,211.23 L542.14,211.75 L541.6,212.51 L540.98,212.93 L540.32,213.34 L539.64,213.75 L538.95,214.16 L538.29,214.57 L537.67,214.99 L537.12,215.43 L536.64,215.88 L536.26,216.35 L535.99,216.84 L535.82,217.36 L535.77,217.9 L535.82,218.46 L535.99,219.04 L536.24,219.64 L536.58,220.26 L536.97,220.9 L537.41,221.54 L537.88,222.19 L538.34,222.83 L538.78,223.47 L539.18,224.11 L539.35,225.07 L539.5,225.71 L539.55,226.32 L539.51,226.88 L539.36,227.4 L539.1,227.88 L538.74,228.31 L538.28,228.71 L537.74,229.07 L537.11,229.4 L536.43,229.7 L535.71,229.99 L534.96,230.27 L534.22,230.55 L533.49,230.83 L532.81,231.14 L532.19,231.47 L531.64,231.83 L531.18,232.22 L530.82,232.66 L530.56,233.13 L530.41,233.65 L530.37,234.22 L530.56,234.49 L530.61,235.15 L530.73,235.84 L530.91,236.57 L531.13,237.31 L531.36,238.07 L531.6,238.83 L531.81,239.58 L531.99,240.31 L532.11,241 L532.17,241.65 L532.14,242.26 L532.01,242.81 L531.79,243.31 L531.47,243.74 L531.05,244.12 L530.21,244.83 L529.58,244.98 L528.88,245.08 L528.14,245.14 L527.36,245.17 L526.56,245.18 L525.77,245.19 L524.99,245.22 L524.24,245.28 L523.55,245.38 L522.91,245.54 L522.34,245.75 L521.86,246.04 L521.46,246.41" fill="none" stroke="#0d5c9c" stroke-width="1.45" stroke-linejoin="round"/>
<path d="M526.4,147.3 L527.17,147.5 L527.92,147.72 L528.63,147.95 L529.28,148.21 L529.86,148.51 L530.36,148.86 L530.76,149.26 L531.07,149.71 L531.27,150.21 L531.37,150.76 L531.37,151.37 L531.3,152.02 L531.15,152.71 L530.94,153.43 L530.69,154.17 L530.43,154.92 L530.16,155.67 L529.92,156.4 L529.55,156.91 L529.3,157.57 L529.12,158.2 L529.04,158.8 L529.05,159.37 L529.17,159.89 L529.4,160.38 L529.74,160.84 L530.18,161.25 L530.71,161.64 L531.31,162 L531.98,162.34 L532.69,162.67 L533.42,162.98 L534.15,163.3 L534.85,163.62 L535.52,163.96 L536.13,164.32 L536.65,164.71 L537.09,165.13 L537.47,165.72 L537.67,166.22 L537.77,166.75 L537.76,167.32 L537.64,167.91 L537.44,168.53 L537.15,169.18 L536.8,169.84 L536.42,170.52 L536.01,171.2 L535.6,171.88 L535.21,172.55 L534.86,173.22 L534.58,173.86 L534.37,174.48 L534.26,175.08 L534.24,175.64 L534.34,176.17 L534.55,176.68 L534.86,177.14 L535.28,177.58 L535.79,177.99 L536.38,178.38 L536.94,178.63 L537.59,179.07 L538.25,179.51 L538.92,179.94 L539.56,180.38 L540.16,180.82 L540.7,181.28 L541.15,181.75 L541.52,182.24 L541.77,182.74 L541.92,183.26 L541.95,183.8 L541.87,184.36 L541.69,184.94 L541.41,185.53 L541.05,186.14 L540.62,186.75 L540.16,187.38 L539.67,188 L539.18,188.63 L538.71,189.25 L538.29,189.87 L537.89,190.24 L537.55,190.8 L537.3,191.36 L537.16,191.9 L537.13,192.44 L537.22,192.98 L537.42,193.51 L537.72,194.03 L538.12,194.55 L538.61,195.06 L539.15,195.57 L539.75,196.08 L540.36,196.58 L540.97,197.09 L541.56,197.59 L542.11,198.1 L542.59,198.62 L543,199.13 L543.3,199.66 L543.5,200.18 L543.59,200.72 L543.52,201.58 L543.32,202.11 L543.01,202.63 L542.61,203.15 L542.12,203.66 L541.58,204.17 L540.99,204.68 L540.37,205.18 L539.76,205.69 L539.17,206.2 L538.62,206.71 L538.14,207.22 L537.73,207.74 L537.43,208.26 L537.23,208.79 L537.14,209.32 L537.17,209.86 L537.31,210.41 L537.56,210.96 L537.9,211.52 L538.33,211.83 L538.73,212.46 L539.17,213.1 L539.64,213.75 L540.1,214.4 L540.54,215.04 L540.94,215.67 L541.27,216.29 L541.53,216.9 L541.69,217.48 L541.75,218.04 L541.69,218.58 L541.53,219.1 L541.25,219.59 L540.87,220.06 L540.39,220.51 L539.84,220.94 L539.22,221.37 L538.56,221.78 L537.88,222.19 L537.2,222.59 L536.53,223.01 L535.92,223.43 L535.42,223.48 L534.87,223.84 L534.41,224.24 L534.05,224.67 L533.8,225.15 L533.65,225.67 L533.61,226.23 L533.66,226.83 L533.8,227.47 L534.02,228.14 L534.3,228.84 L534.62,229.55 L534.96,230.27 L535.3,230.99 L535.62,231.7 L535.9,232.39 L536.12,233.06 L536.26,233.7 L536.32,234.3 L536.27,234.86 L536.12,235.39 L535.87,235.86 L535.51,236.3 L534.87,237 L534.28,237.28 L533.62,237.51 L532.9,237.72 L532.14,237.9 L531.36,238.07 L530.59,238.24 L529.83,238.43 L529.11,238.63 L528.45,238.87 L527.85,239.15 L527.34,239.47 L526.92,239.85 L526.6,240.29 L526.38,240.79 L526.26,241.34 L526.49,241.51 L526.41,242.16 L526.39,242.87 L526.42,243.61 L526.48,244.39 L526.56,245.18 L526.64,245.97 L526.7,246.75 L526.73,247.5 L526.72,248.2 L526.64,248.85 L526.49,249.44 L526.26,249.95 L525.94,250.39" fill="none" stroke="#1b1a6b" stroke-width="1.45" stroke-linejoin="round"/>
<path d="M571,146.4 L570.84,147.17 L570.69,147.94 L570.59,148.67 L570.53,149.37 L570.54,150.02 L570.63,150.61 L570.8,151.14 L571.07,151.61 L571.42,152 L571.87,152.34 L572.41,152.6 L573.03,152.82 L573.71,152.98 L574.44,153.11 L575.21,153.21 L575.99,153.3 L576.78,153.39 L577.64,153.75 L578.32,154.04 L578.94,154.36 L579.49,154.72 L579.95,155.1 L580.31,155.53 L580.56,156 L580.71,156.52 L580.75,157.07 L580.7,157.67 L580.55,158.3 L580.33,158.97 L580.06,159.66 L579.74,160.36 L579.4,161.08 L579.06,161.79 L578.74,162.5 L578.46,163.19 L578.04,163.38 L577.75,163.97 L577.56,164.53 L577.47,165.09 L577.49,165.62 L577.63,166.14 L577.88,166.64 L578.23,167.12 L578.68,167.59 L579.21,168.05 L579.8,168.5 L580.44,168.94 L581.1,169.38 L581.76,169.82 L582.39,170.26 L582.99,170.71 L583.52,171.17 L583.96,171.64 L584.32,172.12 L584.57,172.62 L584.7,173.14 L584.74,174.06 L584.58,174.6 L584.32,175.13 L583.95,175.67 L583.51,176.21 L583,176.75 L582.45,177.3 L581.87,177.84 L581.3,178.38 L580.74,178.93 L580.24,179.47 L579.79,180.01 L579.43,180.55 L579.16,181.08 L579,181.62 L578.95,182.15 L579.02,182.68 L579.2,183.21 L579.49,183.74 L579.87,184.26 L580.33,184.64 L580.81,185.21 L581.33,185.78 L581.88,186.35 L582.42,186.92 L582.95,187.49 L583.43,188.06 L583.84,188.62 L584.18,189.18 L584.42,189.73 L584.55,190.27 L584.57,190.81 L584.48,191.33 L584.27,191.85 L583.96,192.36 L583.55,192.87 L583.06,193.37 L582.5,193.86 L581.9,194.35 L581.28,194.84 L580.66,195.33 L580.06,195.82 L579.48,196.12 L578.93,196.55 L578.47,197.01 L578.1,197.48 L577.83,197.97 L577.67,198.48 L577.63,199.01 L577.7,199.57 L577.87,200.14 L578.14,200.74 L578.49,201.34 L578.9,201.96 L579.35,202.59 L579.82,203.22 L580.3,203.86 L580.75,204.48 L581.16,205.1 L581.51,205.71 L581.78,206.3 L581.95,206.88 L581.94,207.65 L581.85,208.18 L581.66,208.68 L581.35,209.14 L580.95,209.59 L580.45,210 L579.87,210.4 L579.23,210.77 L578.54,211.14 L577.84,211.5 L577.14,211.86 L576.45,212.22 L575.81,212.6 L575.23,213 L574.74,213.41 L574.33,213.85 L574.02,214.32 L573.83,214.82 L573.74,215.35 L573.77,215.91 L573.9,216.49 L574.12,217.1 L574.42,217.74 L574.78,218.39 L575.18,218.99 L575.54,219.69 L575.91,220.4 L576.25,221.09 L576.55,221.77 L576.8,222.43 L576.96,223.05 L577.04,223.65 L577.01,224.21 L576.88,224.73 L576.64,225.21 L576.3,225.65 L575.86,226.05 L575.32,226.42 L574.71,226.76 L574.04,227.08 L573.33,227.39 L572.59,227.68 L571.86,227.98 L571.15,228.28 L570.48,228.6 L569.87,228.94 L569.33,229.31 L568.89,229.72 L568.54,230.16 L568.31,230.64 L568.28,230.85 L568.2,231.4 L568.21,232 L568.31,232.65 L568.47,233.33 L568.7,234.03 L568.97,234.76 L569.25,235.5 L569.54,236.24 L569.8,236.96 L570.03,237.67 L570.2,238.35 L570.29,238.99 L570.3,239.59 L570.22,240.15 L570.03,240.65 L569.74,241.1 L569.17,241.75 L568.65,242.04 L568.05,242.29 L567.38,242.49 L566.65,242.65 L565.89,242.79 L565.11,242.92 L564.33,243.05 L563.57,243.2 L562.84,243.36 L562.17,243.56 L561.57,243.81 L561.05,244.1 L560.62,244.46 L560.28,244.87" fill="none" stroke="#0d5c9c" stroke-width="1.45" stroke-linejoin="round"/>
<path d="M571,146.4 L571.79,146.49 L572.55,146.59 L573.29,146.72 L573.97,146.88 L574.58,147.09 L575.12,147.36 L575.57,147.69 L575.93,148.09 L576.19,148.55 L576.37,149.09 L576.45,149.68 L576.46,150.33 L576.41,151.03 L576.3,151.76 L576.15,152.52 L575.99,153.3 L575.83,154.07 L575.51,154.62 L575.23,155.31 L575.01,155.97 L574.87,156.6 L574.82,157.2 L574.86,157.76 L575.01,158.27 L575.26,158.74 L575.62,159.17 L576.08,159.56 L576.63,159.91 L577.25,160.23 L577.93,160.53 L578.65,160.81 L579.4,161.08 L580.14,161.35 L580.86,161.63 L581.54,161.92 L582.24,162.75 L582.69,163.22 L583.04,163.7 L583.29,164.2 L583.43,164.72 L583.45,165.25 L583.36,165.81 L583.17,166.37 L582.88,166.96 L582.51,167.55 L582.07,168.15 L581.6,168.76 L581.1,169.38 L580.6,169.99 L580.12,170.6 L579.69,171.21 L579.32,171.8 L579.03,172.38 L578.84,172.95 L578.75,173.5 L578.77,174.04 L578.86,174.17 L579.04,174.7 L579.33,175.23 L579.71,175.75 L580.18,176.28 L580.7,176.8 L581.28,177.32 L581.87,177.84 L582.47,178.36 L583.04,178.88 L583.57,179.4 L584.03,179.93 L584.42,180.45 L584.7,180.98 L584.88,181.51 L584.95,182.04 L584.9,182.57 L584.74,183.11 L584.48,183.65 L584.11,184.18 L583.65,184.87 L583.1,185.37 L582.5,185.86 L581.88,186.35 L581.26,186.84 L580.66,187.33 L580.1,187.82 L579.61,188.32 L579.2,188.83 L578.89,189.34 L578.68,189.86 L578.59,190.39 L578.61,190.92 L578.74,191.46 L578.98,192.01 L579.31,192.57 L579.73,193.13 L580.21,193.7 L580.73,194.27 L581.28,194.84 L581.83,195.41 L582.35,195.98 L582.76,196.74 L583.1,197.35 L583.37,197.94 L583.54,198.52 L583.61,199.07 L583.57,199.6 L583.41,200.12 L583.14,200.61 L582.77,201.08 L582.31,201.53 L581.76,201.97 L581.15,202.39 L580.5,202.81 L579.82,203.22 L579.15,203.64 L578.5,204.05 L577.89,204.48 L577.34,204.92 L576.88,205.37 L576.5,205.84 L576.26,206.1 L576.06,206.6 L575.98,207.13 L576,207.69 L576.13,208.28 L576.35,208.89 L576.65,209.52 L577.01,210.17 L577.42,210.83 L577.84,211.5 L578.27,212.17 L578.67,212.83 L579.03,213.48 L579.33,214.11 L579.55,214.72 L579.68,215.31 L579.7,215.87 L579.62,216.39 L579.42,216.89 L579.12,217.36 L578.71,217.8 L578.21,218.22 L577.63,218.61 L576.99,218.99 L576.28,219.4 L575.54,219.69 L574.81,219.99 L574.1,220.3 L573.43,220.61 L572.82,220.96 L572.28,221.33 L571.84,221.73 L571.49,222.17 L571.25,222.65 L571.12,223.17 L571.1,223.73 L571.18,224.32 L571.34,224.95 L571.58,225.61 L571.89,226.29 L572.23,226.98 L572.59,227.68 L572.96,228.38 L573.3,229.08 L573.6,229.76 L573.85,230.41 L574.01,231.04 L574.09,231.64 L574.06,232.2 L573.93,232.71 L573.55,233.48 L573.16,233.88 L572.67,234.23 L572.1,234.54 L571.46,234.82 L570.75,235.06 L570.01,235.28 L569.25,235.5 L568.49,235.71 L567.75,235.94 L567.05,236.18 L566.4,236.45 L565.83,236.76 L565.34,237.11 L564.95,237.51 L564.66,237.96 L564.48,238.47 L564.52,238.74 L564.46,239.34 L564.48,239.99 L564.58,240.68 L564.72,241.41 L564.91,242.16 L565.11,242.92 L565.31,243.69 L565.5,244.44 L565.64,245.17 L565.74,245.86 L565.76,246.51 L565.71,247.11 L565.56,247.65 L565.32,248.13" fill="none" stroke="#1b1a6b" stroke-width="1.45" stroke-linejoin="round"/>
</g>
<rect x="612.4" y="137.7" width="2.4" height="10.3" fill="#cb4a4c"/>
<rect x="608.2" y="127.4" width="10.8" height="10.8" rx="1.3" fill="#cb4a4c"/>
<text x="0" y="0" font-size="14.8" font-weight="bold" text-anchor="middle" fill="#c9504f" transform="translate(622.3,174) rotate(17.4)">K9Me3</text>
<text x="696" y="178.3" font-size="25" font-weight="bold" text-anchor="middle" fill="#a567a9" >H3</text>
<g transform="translate(0,0)">
<path d="M717.5,247.17 C721.5,240.17 724.5,233.2 729,233.3 C733,233.5 733.5,237.4 737.6,237.4" fill="none" stroke="#0d5c9c" stroke-width="1.6" stroke-linecap="round"/>
<path d="M717.5,253.43 C722.5,261.43 723.5,274 730,274.2 C733.5,274.2 734.5,270.5 737.6,267.4" fill="none" stroke="#1b1a6b" stroke-width="1.6" stroke-linecap="round"/>
<line x1="746.3" y1="221" x2="746.3" y2="243" stroke="#3a3a3a" stroke-width="1.1"/>
<line x1="764.2" y1="221" x2="764.2" y2="243" stroke="#3a3a3a" stroke-width="1.1"/>
<line x1="782.4" y1="221" x2="782.4" y2="243" stroke="#3a3a3a" stroke-width="1.1"/>
<path d="M737,237.18 L738,237.49 L739,237.36 L740,236.8 L741,235.87 L742,234.7 L743,233.42 L744,232.18 L745,231.14 L746,230.42 L747,230.11 L748,230.24 L749,230.8 L750,231.73 L751,232.9 L752,234.18 L753,235.42 L754,236.46 L755,237.18 L756,237.49 L757,237.36 L758,236.8 L759,235.87 L760,234.7 L761,233.42 L762,232.18 L763,231.14 L764,230.42 L765,230.11 L766,230.24 L767,230.8 L768,231.73 L769,232.9 L770,234.18 L771,235.42 L772,236.46 L773,237.18 L774,237.49 L775,237.36 L776,236.8 L777,235.87 L778,234.7 L779,233.42 L780,232.18 L781,231.14 L782,230.42 L783,230.11 L784,230.24 L785,230.8 L786,231.73 L787,232.9 L788,234.18 L789,235.42 L790,236.46 L791,237.18 L792,237.49 L793,237.36 L794,236.8 L795,235.87" fill="none" stroke="#0d5c9c" stroke-width="1.6"/>
<path d="M737,230.42 L738,230.11 L739,230.24 L740,230.8 L741,231.73 L742,232.9 L743,234.18 L744,235.42 L745,236.46 L746,237.18 L747,237.49 L748,237.36 L749,236.8 L750,235.87 L751,234.7 L752,233.42 L753,232.18 L754,231.14 L755,230.42 L756,230.11 L757,230.24 L758,230.8 L759,231.73 L760,232.9 L761,234.18 L762,235.42 L763,236.46 L764,237.18 L765,237.49 L766,237.36 L767,236.8 L768,235.87 L769,234.7 L770,233.42 L771,232.18 L772,231.14 L773,230.42 L774,230.11 L775,230.24 L776,230.8 L777,231.73 L778,232.9 L779,234.18 L780,235.42 L781,236.46 L782,237.18 L783,237.49 L784,237.36 L785,236.8 L786,235.87 L787,234.7 L788,233.42 L789,232.18 L790,231.14 L791,230.42 L792,230.11 L793,230.24 L794,230.8 L795,231.73" fill="none" stroke="#1b1a6b" stroke-width="1.6"/>
<path d="M737,274.08 L738,274.39 L739,274.26 L740,273.7 L741,272.77 L742,271.6 L743,270.32 L744,269.08 L745,268.04 L746,267.32 L747,267.01 L748,267.14 L749,267.7 L750,268.63 L751,269.8 L752,271.08 L753,272.32 L754,273.36 L755,274.08 L756,274.39 L757,274.26 L758,273.7 L759,272.77 L760,271.6 L761,270.32 L762,269.08 L763,268.04 L764,267.32 L765,267.01 L766,267.14 L767,267.7 L768,268.63 L769,269.8 L770,271.08 L771,272.32 L772,273.36 L773,274.08 L774,274.39 L775,274.26 L776,273.7 L777,272.77 L778,271.6 L779,270.32 L780,269.08 L781,268.04 L782,267.32 L783,267.01 L784,267.14 L785,267.7 L786,268.63 L787,269.8 L788,271.08 L789,272.32 L790,273.36 L791,274.08 L792,274.39 L793,274.26 L794,273.7 L795,272.77" fill="none" stroke="#0d5c9c" stroke-width="1.6"/>
<path d="M737,267.32 L738,267.01 L739,267.14 L740,267.7 L741,268.63 L742,269.8 L743,271.08 L744,272.32 L745,273.36 L746,274.08 L747,274.39 L748,274.26 L749,273.7 L750,272.77 L751,271.6 L752,270.32 L753,269.08 L754,268.04 L755,267.32 L756,267.01 L757,267.14 L758,267.7 L759,268.63 L760,269.8 L761,271.08 L762,272.32 L763,273.36 L764,274.08 L765,274.39 L766,274.26 L767,273.7 L768,272.77 L769,271.6 L770,270.32 L771,269.08 L772,268.04 L773,267.32 L774,267.01 L775,267.14 L776,267.7 L777,268.63 L778,269.8 L779,271.08 L780,272.32 L781,273.36 L782,274.08 L783,274.39 L784,274.26 L785,273.7 L786,272.77 L787,271.6 L788,270.32 L789,269.08 L790,268.04 L791,267.32 L792,267.01 L793,267.14 L794,267.7 L795,268.63" fill="none" stroke="#1b1a6b" stroke-width="1.6"/>
<circle cx="746.3" cy="219.5" r="4.7" fill="#141414"/>
<circle cx="746.3" cy="245.6" r="4.2" fill="#e9e9e9" stroke="#8a8a8a" stroke-width="0.6"/>
<circle cx="764.2" cy="219.5" r="4.7" fill="#141414"/>
<circle cx="764.2" cy="245.6" r="4.2" fill="#e9e9e9" stroke="#8a8a8a" stroke-width="0.6"/>
<circle cx="782.4" cy="219.5" r="4.7" fill="#141414"/>
<circle cx="782.4" cy="245.6" r="4.2" fill="#e9e9e9" stroke="#8a8a8a" stroke-width="0.6"/>
<text x="797.6" y="229.7" font-size="14.6" font-weight="bold" text-anchor="start" fill="#111" >Hemi-</text>
<text x="797.6" y="246.7" font-size="14.6" font-weight="bold" text-anchor="start" fill="#111" >DNA</text>
</g>
<path d="M407.5,565.17 L408.5,564.9 L409.5,565.08 L410.5,565.69 L411.5,566.64 L412.5,567.84 L413.5,569.12 L414.5,570.34 L415.5,571.35 L416.5,572.03 L417.5,572.3 L418.5,572.12 L419.5,571.51 L420.5,570.56 L421.5,569.36 L422.5,568.08 L423.5,566.86 L424.5,565.85 L425.5,565.17 L426.5,564.9 L427.5,565.08 L428.5,565.69 L429.5,566.64 L430.5,567.84 L431.5,569.12 L432.5,570.34 L433.5,571.35 L434.5,572.03 L435.5,572.3 L436.5,572.12 L437.5,571.51 L438.5,570.56 L439.5,569.36 L440.5,568.08 L441.5,566.86 L442.5,565.85 L443.5,565.17 L444.5,564.9 L445.5,565.08 L446.5,565.69 L447.5,566.64 L448.5,567.84 L449.5,569.12 L450.5,570.34 L451.5,571.35 L452.5,572.03 L453.5,572.3 L454.5,572.12 L455.5,571.51 L456.5,570.56 L457.5,569.36 L458.5,568.08 L459.5,566.86 L460.5,565.85 L461.5,565.17 L462.5,564.9 L463.5,565.08 L464.5,565.69 L465.5,566.64 L466.5,567.84 L467.5,569.12 L468.5,570.34 L469.5,571.35 L470.5,572.03 L471.5,572.3 L472.5,572.12 L473.5,571.51 L474.5,570.56 L475.5,569.36 L476.5,568.08 L477.5,566.86 L478.5,565.85 L479.5,565.17 L480.5,564.9 L481.5,565.08 L482.5,565.69 L483.5,566.64 L484.5,567.84 L485.5,569.12 L486.5,570.34 L487.5,571.35 L488.5,572.03 L489.5,572.3 L490.5,572.12 L491.5,571.51 L492.5,570.56 L493.5,569.36 L494.5,568.08 L495.5,566.86 L496.5,565.85 L497.5,565.17 L498.5,564.9 L499.5,565.08 L500.5,565.69 L501.5,566.64 L502.5,567.84 L503.5,569.12 L504.5,570.34 L505.5,571.35 L506.5,572.03 L507.5,572.3 L508.5,572.12 L509.5,571.51 L510.5,570.56 L511.5,569.36 L512.5,568.08 L513.5,566.86 L514.5,565.85 L515.5,565.17 L516.5,564.9 L517.5,565.08 L518.5,565.69 L519.5,566.64 L520.5,567.84 L521.5,569.12 L522.5,570.34 L523.5,571.35 L524.5,572.03 L525.5,572.3 L526.5,572.12 L527.5,571.51 L528.5,570.56 L529.5,569.36 L530.5,568.08 L531.5,566.86 L532.5,565.85 L533.5,565.17 L534.5,564.9 L535.5,565.08 L536.5,565.69 L537.5,566.64 L538.5,567.84 L539.5,569.12 L540.5,570.34 L541.5,571.35 L542.5,572.03 L543.5,572.3 L544.5,572.12 L545.5,571.51 L546.5,570.56 L547.5,569.36 L548.5,568.08 L549.5,566.86 L550.5,565.85 L551.5,565.17 L552.5,564.9 L553.5,565.08 L554.5,565.69 L555.5,566.64 L556.5,567.84 L557.5,569.12 L558.5,570.34 L559.5,571.35 L560.5,572.03 L561.5,572.3 L562.5,572.12 L563.5,571.51 L564.5,570.56 L565.5,569.36 L566.5,568.08 L567.5,566.86 L568.5,565.85 L569.5,565.17 L570.5,564.9 L571.5,565.08 L572.5,565.69 L573.5,566.64 L574.5,567.84 L575.5,569.12 L576.5,570.34 L577.5,571.35 L578.5,572.03 L579.5,572.3 L580.5,572.12 L581.5,571.51 L582.5,570.56 L583.5,569.36 L584.5,568.08 L585.5,566.86 L586.5,565.85 L587.5,565.17 L588.5,564.9 L589.5,565.08 L590.5,565.69 L591.5,566.64 L592.5,567.84 L593.5,569.12 L594.5,570.34 L595.5,571.35 L596.5,572.03 L597.5,572.3 L598.5,572.12 L599.5,571.51 L600.5,570.56 L601.5,569.36 L602.5,568.08 L603.5,566.86 L604.5,565.85 L605.5,565.17 L606.5,564.9 L607.5,565.08 L608.5,565.69 L609.5,566.64 L610.5,567.84 L611.5,569.12 L612.5,570.34 L613.5,571.35 L614.5,572.03 L615.5,572.3 L616.5,572.12 L617.5,571.51 L618.5,570.56 L619.5,569.36 L620.5,568.08 L621.5,566.86 L622.5,565.85 L623.5,565.17 L624.5,564.9 L625.5,565.08 L626.5,565.69 L627.5,566.64 L628.5,567.84 L629.5,569.12 L630.5,570.34 L631.5,571.35 L632.5,572.03 L633.5,572.3 L634.5,572.12 L635.5,571.51 L636.5,570.56 L637.5,569.36 L638.5,568.08 L639.5,566.86 L640.5,565.85 L641.5,565.17 L642.5,564.9 L643.5,565.08 L644.5,565.69 L645.5,566.64 L646.5,567.84 L647.5,569.12 L648.5,570.34 L649.5,571.35 L650.5,572.03 L651.5,572.3 L652.5,572.12 L653.5,571.51 L654.5,570.56 L655.5,569.36 L656.5,568.08 L657.5,566.86 L658.5,565.85 L659.5,565.17 L660.5,564.9 L661.5,565.08 L662.5,565.69 L663.5,566.64 L664.5,567.84 L665.5,569.12 L666.5,570.34 L667.5,571.35 L668.5,572.03 L669.5,572.3 L670.5,572.12 L671.5,571.51 L672.5,570.56 L673.5,569.36 L674.5,568.08 L675.5,566.86 L676.5,565.85 L677.5,565.17 L678.5,564.9 L679.5,565.08 L680.5,565.69 L681.5,566.64 L682.5,567.84 L683.5,569.12 L684.5,570.34 L685.5,571.35 L686.5,572.03 L687.5,572.3 L688.5,572.12 L689.5,571.51 L690.5,570.56 L691.5,569.36 L692.5,568.08 L693.5,566.86 L694.5,565.85 L695.5,565.17 L696.5,564.9 L697.5,565.08 L698.5,565.69 L699.5,566.64 L700.5,567.84 L701.5,569.12 L702.5,570.34 L703.5,571.35 L704.5,572.03 L705.5,572.3 L706.5,572.12 L707.5,571.51 L708.5,570.56 L709.5,569.36 L710.5,568.08 L711.5,566.86 L712.5,565.85" fill="none" stroke="#0d5c9c" stroke-width="1.65"/>
<path d="M407.5,572.03 L408.5,572.3 L409.5,572.12 L410.5,571.51 L411.5,570.56 L412.5,569.36 L413.5,568.08 L414.5,566.86 L415.5,565.85 L416.5,565.17 L417.5,564.9 L418.5,565.08 L419.5,565.69 L420.5,566.64 L421.5,567.84 L422.5,569.12 L423.5,570.34 L424.5,571.35 L425.5,572.03 L426.5,572.3 L427.5,572.12 L428.5,571.51 L429.5,570.56 L430.5,569.36 L431.5,568.08 L432.5,566.86 L433.5,565.85 L434.5,565.17 L435.5,564.9 L436.5,565.08 L437.5,565.69 L438.5,566.64 L439.5,567.84 L440.5,569.12 L441.5,570.34 L442.5,571.35 L443.5,572.03 L444.5,572.3 L445.5,572.12 L446.5,571.51 L447.5,570.56 L448.5,569.36 L449.5,568.08 L450.5,566.86 L451.5,565.85 L452.5,565.17 L453.5,564.9 L454.5,565.08 L455.5,565.69 L456.5,566.64 L457.5,567.84 L458.5,569.12 L459.5,570.34 L460.5,571.35 L461.5,572.03 L462.5,572.3 L463.5,572.12 L464.5,571.51 L465.5,570.56 L466.5,569.36 L467.5,568.08 L468.5,566.86 L469.5,565.85 L470.5,565.17 L471.5,564.9 L472.5,565.08 L473.5,565.69 L474.5,566.64 L475.5,567.84 L476.5,569.12 L477.5,570.34 L478.5,571.35 L479.5,572.03 L480.5,572.3 L481.5,572.12 L482.5,571.51 L483.5,570.56 L484.5,569.36 L485.5,568.08 L486.5,566.86 L487.5,565.85 L488.5,565.17 L489.5,564.9 L490.5,565.08 L491.5,565.69 L492.5,566.64 L493.5,567.84 L494.5,569.12 L495.5,570.34 L496.5,571.35 L497.5,572.03 L498.5,572.3 L499.5,572.12 L500.5,571.51 L501.5,570.56 L502.5,569.36 L503.5,568.08 L504.5,566.86 L505.5,565.85 L506.5,565.17 L507.5,564.9 L508.5,565.08 L509.5,565.69 L510.5,566.64 L511.5,567.84 L512.5,569.12 L513.5,570.34 L514.5,571.35 L515.5,572.03 L516.5,572.3 L517.5,572.12 L518.5,571.51 L519.5,570.56 L520.5,569.36 L521.5,568.08 L522.5,566.86 L523.5,565.85 L524.5,565.17 L525.5,564.9 L526.5,565.08 L527.5,565.69 L528.5,566.64 L529.5,567.84 L530.5,569.12 L531.5,570.34 L532.5,571.35 L533.5,572.03 L534.5,572.3 L535.5,572.12 L536.5,571.51 L537.5,570.56 L538.5,569.36 L539.5,568.08 L540.5,566.86 L541.5,565.85 L542.5,565.17 L543.5,564.9 L544.5,565.08 L545.5,565.69 L546.5,566.64 L547.5,567.84 L548.5,569.12 L549.5,570.34 L550.5,571.35 L551.5,572.03 L552.5,572.3 L553.5,572.12 L554.5,571.51 L555.5,570.56 L556.5,569.36 L557.5,568.08 L558.5,566.86 L559.5,565.85 L560.5,565.17 L561.5,564.9 L562.5,565.08 L563.5,565.69 L564.5,566.64 L565.5,567.84 L566.5,569.12 L567.5,570.34 L568.5,571.35 L569.5,572.03 L570.5,572.3 L571.5,572.12 L572.5,571.51 L573.5,570.56 L574.5,569.36 L575.5,568.08 L576.5,566.86 L577.5,565.85 L578.5,565.17 L579.5,564.9 L580.5,565.08 L581.5,565.69 L582.5,566.64 L583.5,567.84 L584.5,569.12 L585.5,570.34 L586.5,571.35 L587.5,572.03 L588.5,572.3 L589.5,572.12 L590.5,571.51 L591.5,570.56 L592.5,569.36 L593.5,568.08 L594.5,566.86 L595.5,565.85 L596.5,565.17 L597.5,564.9 L598.5,565.08 L599.5,565.69 L600.5,566.64 L601.5,567.84 L602.5,569.12 L603.5,570.34 L604.5,571.35 L605.5,572.03 L606.5,572.3 L607.5,572.12 L608.5,571.51 L609.5,570.56 L610.5,569.36 L611.5,568.08 L612.5,566.86 L613.5,565.85 L614.5,565.17 L615.5,564.9 L616.5,565.08 L617.5,565.69 L618.5,566.64 L619.5,567.84 L620.5,569.12 L621.5,570.34 L622.5,571.35 L623.5,572.03 L624.5,572.3 L625.5,572.12 L626.5,571.51 L627.5,570.56 L628.5,569.36 L629.5,568.08 L630.5,566.86 L631.5,565.85 L632.5,565.17 L633.5,564.9 L634.5,565.08 L635.5,565.69 L636.5,566.64 L637.5,567.84 L638.5,569.12 L639.5,570.34 L640.5,571.35 L641.5,572.03 L642.5,572.3 L643.5,572.12 L644.5,571.51 L645.5,570.56 L646.5,569.36 L647.5,568.08 L648.5,566.86 L649.5,565.85 L650.5,565.17 L651.5,564.9 L652.5,565.08 L653.5,565.69 L654.5,566.64 L655.5,567.84 L656.5,569.12 L657.5,570.34 L658.5,571.35 L659.5,572.03 L660.5,572.3 L661.5,572.12 L662.5,571.51 L663.5,570.56 L664.5,569.36 L665.5,568.08 L666.5,566.86 L667.5,565.85 L668.5,565.17 L669.5,564.9 L670.5,565.08 L671.5,565.69 L672.5,566.64 L673.5,567.84 L674.5,569.12 L675.5,570.34 L676.5,571.35 L677.5,572.03 L678.5,572.3 L679.5,572.12 L680.5,571.51 L681.5,570.56 L682.5,569.36 L683.5,568.08 L684.5,566.86 L685.5,565.85 L686.5,565.17 L687.5,564.9 L688.5,565.08 L689.5,565.69 L690.5,566.64 L691.5,567.84 L692.5,569.12 L693.5,570.34 L694.5,571.35 L695.5,572.03 L696.5,572.3 L697.5,572.12 L698.5,571.51 L699.5,570.56 L700.5,569.36 L701.5,568.08 L702.5,566.86 L703.5,565.85 L704.5,565.17 L705.5,564.9 L706.5,565.08 L707.5,565.69 L708.5,566.64 L709.5,567.84 L710.5,569.12 L711.5,570.34 L712.5,571.35" fill="none" stroke="#1b1a6b" stroke-width="1.65"/>
<g transform="translate(-1.3,318.3)">
<path d="M493.7,191 L494,190.44 L494.29,189.88 L494.55,189.33 L494.78,188.79 L494.95,188.28 L495.06,187.78 L495.11,187.31 L495.08,186.87 L494.98,186.46 L494.8,186.08 L494.54,185.73 L494.21,185.4 L493.81,185.1 L493.35,184.82 L492.84,184.57 L492.29,184.32 L491.7,184.09 L491.11,183.87 L490.51,183.64 L489.92,183.42 L489.35,183.18 L488.82,182.93 L488.34,182.66 L487.92,182.37 L487.56,182.05 L487.28,181.71 L487.07,181.34 L486.94,180.93 L486.88,180.5 L486.9,180.05 L487,179.56 L487.15,179.05 L487.26,178.03 L487.67,177.6 L488.12,177.16 L488.58,176.72 L489.05,176.29 L489.51,175.85 L489.95,175.41 L490.35,174.98 L490.7,174.54 L490.99,174.11 L491.21,173.68 L491.36,173.26 L491.42,172.83 L491.4,172.41 L491.3,171.99 L491.12,171.58 L490.86,171.16 L490.54,170.75 L490.16,170.34 L489.72,169.94 L489.26,169.53 L488.77,169.12 L488.27,168.72 L487.78,168.31 L487.31,167.91 L486.88,167.5 L486.49,167.09 L486.16,166.68 L485.89,166.27 L485.77,165.38 L485.74,164.95 L485.79,164.53 L485.92,164.12 L486.13,163.73 L486.42,163.34 L486.78,162.97 L487.2,162.6 L487.66,162.24 L488.17,161.89 L488.69,161.54 L489.23,161.19 L489.77,160.85 L490.28,160.49 L490.77,160.14 L491.21,159.78 L491.59,159.41 L491.91,159.03 L492.16,158.64 L492.33,158.24 L492.42,157.82 L492.42,157.4 L492.35,156.96 L492.19,156.51 L491.97,156.05 L491.68,155.59 L491.23,155.56 L491.04,154.98 L490.82,154.39 L490.6,153.79 L490.37,153.19 L490.16,152.6 L489.98,152.02 L489.83,151.47 L489.73,150.93 L489.68,150.43 L489.7,149.97 L489.79,149.54 L489.96,149.14 L490.19,148.79 L490.5,148.48 L490.88,148.2 L491.32,147.96 L491.82,147.75 L492.36,147.56 L492.94,147.4 L493.55,147.24 L494.18,147.1 L494.8,146.95 L495.23,147.05 L495.84,147.1 L496.42,147.11 L496.97,147.09 L497.47,147.02 L497.93,146.89 L498.34,146.71 L498.69,146.47 L498.98,146.17 L499.22,145.8 L499.41,145.38 L499.54,144.9 L499.63,144.38 L499.69,143.81 L499.71,143.21 L499.71,142.58 L499.7,141.95 L499.69,141.31 L500.05,140.62 L500.31,140.06 L500.58,139.54 L500.87,139.06 L501.18,138.65 L501.51,138.3 L501.86,138.02 L502.24,137.82 L502.64,137.7 L503.07,137.66 L503.53,137.69 L504.01,137.8 L504.51,137.97 L505.02,138.19 L505.55,138.46 L506.1,138.76 L506.65,139.08 L507.2,139.41 L507.46,139.86 L507.84,140.35 L508.22,140.8 L508.61,141.21 L509,141.55 L509.4,141.83 L509.8,142.04 L510.21,142.16 L510.63,142.21 L511.06,142.17 L511.49,142.04 L511.94,141.85 L512.38,141.58 L512.84,141.26 L513.29,140.88 L513.75,140.47 L514.22,140.04 L514.68,139.59 L515.33,139.23 L515.9,138.97 L516.45,138.74 L516.99,138.56 L517.5,138.42 L517.99,138.35 L518.45,138.35 L518.87,138.42 L519.27,138.56 L519.63,138.78 L519.97,139.08 L520.27,139.45 L520.54,139.88 L520.8,140.37 L521.03,140.91 L521.24,141.49 L521.45,142.08 L521.65,142.69 L521.62,143.23 L521.58,143.85 L521.56,144.46 L521.57,145.03 L521.63,145.57 L521.72,146.06 L521.88,146.5 L522.08,146.88 L522.35,147.21 L522.68,147.48 L523.07,147.69 L523.51,147.85 L524,147.96 L524.54,148.02 L525.12,148.05 L525.73,148.05 L526.36,148.03 L527,148" fill="none" stroke="#0d5c9c" stroke-width="1.3" stroke-linejoin="round"/>
<path d="M493.7,191 L493.1,190.78 L492.52,190.55 L491.96,190.31 L491.44,190.05 L490.96,189.78 L490.55,189.48 L490.21,189.16 L489.94,188.81 L489.74,188.44 L489.63,188.03 L489.59,187.59 L489.62,187.13 L489.72,186.64 L489.89,186.13 L490.1,185.6 L490.36,185.05 L490.64,184.49 L490.94,183.93 L491.24,183.37 L491.54,182.81 L491.8,182.25 L492.03,181.72 L492.22,181.2 L492.34,180.7 L492.4,180.23 L492.39,179.78 L492.3,179.36 L492.14,178.97 L491.89,178.62 L491.57,178.29 L491.19,177.98 L490.74,177.7 L490.34,177.93 L489.9,177.52 L489.42,177.12 L488.93,176.71 L488.44,176.31 L487.95,175.9 L487.48,175.49 L487.06,175.09 L486.68,174.68 L486.36,174.27 L486.11,173.85 L485.93,173.44 L485.84,173.02 L485.83,172.6 L485.9,172.17 L486.06,171.74 L486.29,171.32 L486.58,170.88 L486.94,170.45 L487.34,170.01 L487.78,169.58 L488.24,169.14 L488.71,168.7 L489.17,168.27 L489.61,167.83 L490.02,167.39 L490.38,166.96 L490.68,166.53 L490.92,166.1 L491.1,166.15 L491.25,165.75 L491.32,165.33 L491.31,164.9 L491.22,164.47 L491.05,164.01 L490.82,163.55 L490.52,163.09 L490.18,162.61 L489.8,162.13 L489.39,161.64 L488.97,161.16 L488.56,160.67 L488.16,160.19 L487.8,159.71 L487.48,159.23 L487.22,158.77 L487.02,158.32 L486.89,157.87 L486.84,157.44 L486.88,157.02 L487,156.61 L487.19,156.21 L487.47,155.82 L487.81,155.45 L488.22,155.08 L488.85,154.29 L489.44,154.13 L490.05,153.98 L490.67,153.83 L491.3,153.69 L491.91,153.53 L492.49,153.37 L493.03,153.18 L493.53,152.97 L493.97,152.73 L494.35,152.45 L494.66,152.14 L494.89,151.79 L495.06,151.39 L495.15,150.96 L495.17,150.5 L495.12,150 L495.02,149.46 L494.88,148.91 L494.69,148.33 L494.48,147.74 L494.25,147.14 L494.03,146.54 L494.01,145.71 L494.03,145.1 L494.07,144.52 L494.15,143.98 L494.26,143.48 L494.43,143.04 L494.65,142.65 L494.92,142.33 L495.26,142.06 L495.64,141.86 L496.08,141.72 L496.57,141.63 L497.1,141.59 L497.67,141.59 L498.27,141.62 L498.89,141.68 L499.53,141.75 L500.16,141.83 L500.56,142.18 L501.11,142.47 L501.63,142.73 L502.15,142.94 L502.64,143.1 L503.11,143.18 L503.56,143.2 L503.98,143.13 L504.38,142.99 L504.75,142.77 L505.1,142.47 L505.42,142.1 L505.72,141.67 L506.01,141.18 L506.27,140.65 L506.53,140.09 L506.78,139.5 L507.03,138.91 L507.59,138.38 L508.05,137.97 L508.51,137.59 L508.97,137.26 L509.41,136.99 L509.86,136.79 L510.29,136.66 L510.72,136.61 L511.14,136.65 L511.55,136.76 L511.96,136.96 L512.35,137.23 L512.75,137.58 L513.13,137.98 L513.52,138.43 L513.9,138.92 L514.27,139.43 L514.65,139.94 L514.82,140.44 L515.04,141.02 L515.26,141.58 L515.5,142.09 L515.77,142.55 L516.05,142.95 L516.37,143.28 L516.72,143.54 L517.1,143.72 L517.52,143.82 L517.96,143.85 L518.44,143.81 L518.94,143.7 L519.47,143.54 L520.01,143.33 L520.57,143.08 L521.14,142.81 L521.72,142.53 L522.44,142.44 L523.07,142.42 L523.67,142.43 L524.24,142.46 L524.77,142.54 L525.26,142.65 L525.69,142.82 L526.07,143.04 L526.39,143.32 L526.64,143.66 L526.84,144.06 L526.98,144.51 L527.07,145 L527.12,145.55 L527.12,146.13 L527.1,146.73 L527.05,147.36 L527,148" fill="none" stroke="#1b1a6b" stroke-width="1.3" stroke-linejoin="round"/>
<path d="M532.8,151 L533.24,150.88 L533.67,150.77 L534.1,150.64 L534.51,150.51 L534.9,150.37 L535.26,150.22 L535.6,150.06 L535.91,149.89 L536.18,149.69 L536.42,149.49 L536.62,149.26 L536.78,149.02 L536.9,148.75 L536.98,148.47 L537.02,148.18 L537.02,147.86 L536.99,147.53 L536.92,147.18 L536.82,146.82 L536.69,146.44 L536.54,146.06 L536.37,145.66 L536.19,145.26 L536,144.85 L535.8,144.45 L535.6,144.04 L535.64,143.4 L535.66,142.96 L535.69,142.53 L535.74,142.12 L535.8,141.73 L535.88,141.36 L535.98,141.02 L536.1,140.71 L536.25,140.43 L536.42,140.18 L536.62,139.97 L536.85,139.79 L537.1,139.65 L537.38,139.54 L537.69,139.47 L538.02,139.42 L538.38,139.41 L538.75,139.42 L539.15,139.46 L539.56,139.52 L539.98,139.59 L540.41,139.68 L540.85,139.77 L541.3,139.87 L541.74,139.97 L542.18,140.07 L542.29,140.36 L542.65,140.58 L543.01,140.79 L543.37,140.97 L543.71,141.11 L544.05,141.23 L544.37,141.31 L544.68,141.35 L544.98,141.36 L545.27,141.32 L545.55,141.23 L545.81,141.11 L546.07,140.94 L546.31,140.74 L546.53,140.49 L546.75,140.21 L546.96,139.9 L547.16,139.56 L547.35,139.19 L547.54,138.81 L547.72,138.41 L547.9,137.99 L548.07,137.57 L548.25,137.16 L548.43,136.74 L548.61,136.34 L549.19,135.95 L549.48,135.65 L549.76,135.38 L550.05,135.14 L550.34,134.94 L550.63,134.77 L550.92,134.64 L551.21,134.55 L551.49,134.51 L551.78,134.51 L552.07,134.55 L552.36,134.64 L552.65,134.77 L552.93,134.94 L553.22,135.14 L553.51,135.38 L553.8,135.65 L554.09,135.95 L554.38,136.27 L554.66,136.6 L554.95,136.95 L555.24,137.3 L555.53,137.65 L555.82,138 L556.1,138.33 L556.39,138.65 L556.31,138.95 L556.53,139.27 L556.76,139.57 L557,139.84 L557.24,140.07 L557.49,140.26 L557.76,140.4 L558.03,140.51 L558.31,140.58 L558.6,140.6 L558.9,140.57 L559.21,140.51 L559.53,140.41 L559.85,140.27 L560.19,140.1 L560.53,139.9 L560.88,139.68 L561.23,139.43 L561.58,139.17 L561.94,138.89 L562.3,138.61 L562.66,138.34 L563.01,138.06 L563.37,137.8 L563.72,137.55 L564.07,137.33 L564.41,137.13 L565.25,137.22 L565.6,137.17 L565.94,137.16 L566.25,137.18 L566.55,137.23 L566.82,137.33 L567.08,137.47 L567.31,137.64 L567.52,137.85 L567.72,138.1 L567.89,138.38 L568.05,138.7 L568.2,139.05 L568.32,139.42 L568.44,139.82 L568.55,140.24 L568.64,140.67 L568.74,141.11 L568.83,141.55 L568.92,142 L569.01,142.44 L569.11,142.87 L569.22,143.28 L569.33,143.68 L569.46,144.05 L569.6,144.4 L569.76,144.72 L569.35,144.63 L569.47,144.92 L569.62,145.18 L569.79,145.41 L570,145.61 L570.24,145.78 L570.51,145.92 L570.81,146.02 L571.13,146.1 L571.48,146.15 L571.86,146.17 L572.25,146.18 L572.67,146.16 L573.1,146.13 L573.54,146.09 L573.98,146.04 L574.43,145.98 L574.88,145.93 L575.33,145.88 L575.77,145.83 L576.2,145.8 L576.61,145.79 L577.3,146.29 L577.65,146.42 L577.97,146.57 L578.26,146.74 L578.51,146.93 L578.73,147.14 L578.91,147.37 L579.05,147.62 L579.15,147.89 L579.22,148.18 L579.24,148.5 L579.24,148.83 L579.2,149.19 L579.13,149.55 L579.03,149.94 L578.91,150.34 L578.78,150.74 L578.63,151.16 L578.47,151.58 L578.3,152" fill="none" stroke="#0d5c9c" stroke-width="1.3" stroke-linejoin="round"/>
<path d="M532.8,151 L532.6,150.59 L532.41,150.19 L532.22,149.79 L532.05,149.39 L531.9,149.01 L531.78,148.63 L531.68,148.27 L531.61,147.92 L531.57,147.59 L531.58,147.27 L531.62,146.97 L531.7,146.69 L531.82,146.43 L531.98,146.19 L532.18,145.96 L532.41,145.75 L532.69,145.56 L532.99,145.38 L533.33,145.22 L533.7,145.07 L534.09,144.93 L534.5,144.8 L534.92,144.68 L535.36,144.56 L535.8,144.45 L536.23,144.33 L536.5,144.5 L536.93,144.58 L537.35,144.66 L537.76,144.71 L538.16,144.75 L538.53,144.76 L538.88,144.75 L539.22,144.71 L539.52,144.63 L539.8,144.52 L540.06,144.38 L540.29,144.2 L540.49,143.99 L540.66,143.74 L540.81,143.46 L540.93,143.15 L541.03,142.81 L541.11,142.45 L541.17,142.06 L541.22,141.64 L541.25,141.22 L541.27,140.78 L541.28,140.33 L541.3,139.87 L541.31,139.42 L541.32,138.97 L541.7,138.38 L541.89,138 L542.08,137.63 L542.28,137.29 L542.49,136.98 L542.71,136.7 L542.93,136.45 L543.17,136.25 L543.42,136.08 L543.69,135.96 L543.97,135.88 L544.25,135.84 L544.56,135.84 L544.87,135.88 L545.19,135.96 L545.53,136.08 L545.87,136.23 L546.23,136.4 L546.59,136.61 L546.95,136.83 L547.32,137.07 L547.7,137.32 L548.07,137.57 L548.45,137.83 L548.82,138.08 L549.2,138.32 L549.19,138.65 L549.48,138.95 L549.76,139.22 L550.05,139.46 L550.34,139.66 L550.63,139.83 L550.92,139.96 L551.21,140.05 L551.49,140.09 L551.78,140.09 L552.07,140.05 L552.36,139.96 L552.65,139.83 L552.93,139.66 L553.22,139.46 L553.51,139.22 L553.8,138.95 L554.09,138.65 L554.38,138.33 L554.66,138 L554.95,137.65 L555.24,137.3 L555.53,136.95 L555.82,136.6 L556.1,136.27 L556.39,135.95 L557.04,135.74 L557.38,135.53 L557.72,135.36 L558.04,135.23 L558.36,135.12 L558.67,135.06 L558.97,135.04 L559.26,135.06 L559.54,135.12 L559.81,135.23 L560.08,135.38 L560.33,135.57 L560.57,135.8 L560.81,136.06 L561.04,136.36 L561.26,136.69 L561.47,137.04 L561.68,137.42 L561.89,137.81 L562.1,138.21 L562.3,138.61 L562.5,139.02 L562.71,139.42 L562.91,139.81 L563.12,140.18 L563.34,140.54 L563.56,140.87 L563.23,141.04 L563.39,141.35 L563.57,141.64 L563.76,141.89 L563.98,142.1 L564.21,142.27 L564.46,142.41 L564.74,142.5 L565.04,142.56 L565.35,142.58 L565.68,142.56 L566.04,142.52 L566.4,142.44 L566.79,142.33 L567.18,142.21 L567.58,142.06 L567.99,141.9 L568.41,141.73 L568.83,141.55 L569.25,141.38 L569.66,141.21 L570.07,141.04 L570.48,140.9 L570.87,140.77 L571.25,140.67 L571.62,140.59 L571.97,140.54 L572.85,140.96 L573.15,141.07 L573.42,141.2 L573.66,141.37 L573.86,141.57 L574.04,141.8 L574.19,142.06 L574.31,142.36 L574.4,142.68 L574.47,143.03 L574.51,143.4 L574.53,143.8 L574.53,144.21 L574.52,144.64 L574.5,145.08 L574.47,145.53 L574.43,145.98 L574.4,146.43 L574.37,146.88 L574.35,147.32 L574.34,147.75 L574.34,148.17 L573.95,148.16 L573.88,148.53 L573.84,148.88 L573.84,149.21 L573.86,149.53 L573.93,149.82 L574.03,150.1 L574.17,150.35 L574.35,150.58 L574.57,150.79 L574.82,150.97 L575.11,151.14 L575.43,151.29 L575.78,151.43 L576.16,151.55 L576.56,151.65 L576.98,151.75 L577.41,151.84 L577.85,151.92 L578.3,152" fill="none" stroke="#1b1a6b" stroke-width="1.3" stroke-linejoin="round"/>
<circle cx="508" cy="165" r="19.2" fill="url(#sDT)"/>
<circle cx="556" cy="160" r="20.6" fill="url(#sDT)"/>
<circle cx="511" cy="212" r="20.5" fill="url(#sPU)"/>
<circle cx="551" cy="208" r="21" fill="url(#sSL)"/>
<path d="M417.6,136.4 C423,152 436,159 456,161 C478,163 498,158 512,171" fill="none" stroke="#7d8ec8" stroke-width="5.4" stroke-linecap="round"/>
<path d="M417.6,136.4 C423,152 436,159 456,161 C478,163 498,158 512,171" fill="none" stroke="#93a4d8" stroke-width="4.0" stroke-linecap="round"/>
<path d="M415.5,228.6 C426,219 440,214 456,220 C474,227 488,236 510,235" fill="none" stroke="#3a8c9a" stroke-width="5.4" stroke-linecap="round"/>
<path d="M415.5,228.6 C426,219 440,214 456,220 C474,227 488,236 510,235" fill="none" stroke="#48a0ad" stroke-width="4.0" stroke-linecap="round"/>
<path d="M594,234.5 C612,238 628,232 640,225 C656,215 674,214 692,222" fill="none" stroke="#4fb0b6" stroke-width="5.4" stroke-linecap="round"/>
<path d="M594,234.5 C612,238 628,232 640,225 C656,215 674,214 692,222" fill="none" stroke="#6fc6ca" stroke-width="4.0" stroke-linecap="round"/>
<path d="M585,162 C590,150 600,147 613,147.3 C630,148 642,158.5 655,158.5 C670,158.5 678.5,152 680.5,139.8" fill="none" stroke="#a98bc2" stroke-width="5.4" stroke-linecap="round"/>
<path d="M585,162 C590,150 600,147 613,147.3 C630,148 642,158.5 655,158.5 C670,158.5 678.5,152 680.5,139.8" fill="none" stroke="#c1a4d3" stroke-width="4.0" stroke-linecap="round"/>
<circle cx="528.6" cy="182" r="22.3" fill="url(#sPW)" stroke="#7f90c8" stroke-width="0.6"/>
<circle cx="574" cy="182" r="22.6" fill="url(#sLI)" stroke="#a884c0" stroke-width="0.6"/>
<circle cx="529" cy="227" r="22.3" fill="url(#sTE)" stroke="#3b8e9c" stroke-width="0.6"/>
<circle cx="574" cy="227" r="22.6" fill="url(#sLT)" stroke="#55b6bc" stroke-width="0.6"/>
<circle cx="521" cy="169" r="3" fill="#fff" opacity="0.22"/>
<circle cx="566" cy="169" r="3" fill="#fff" opacity="0.22"/>
<circle cx="521" cy="214" r="3" fill="#fff" opacity="0.22"/>
<circle cx="565" cy="214" r="3" fill="#fff" opacity="0.22"/>
<circle cx="502" cy="155" r="3" fill="#fff" opacity="0.22"/>
<circle cx="549" cy="150" r="3" fill="#fff" opacity="0.22"/>
<path d="M526.4,147.3 L526.13,148.05 L525.89,148.79 L525.68,149.51 L525.53,150.2 L525.45,150.85 L525.46,151.45 L525.56,152.01 L525.76,152.51 L526.06,152.96 L526.47,153.36 L526.96,153.7 L527.54,154 L528.2,154.27 L528.91,154.5 L529.66,154.71 L530.43,154.92 L531.2,155.12 L531.95,155.33 L532.7,155.82 L533.31,156.18 L533.84,156.57 L534.27,156.99 L534.61,157.44 L534.84,157.93 L534.96,158.46 L534.98,159.02 L534.89,159.62 L534.72,160.25 L534.46,160.91 L534.15,161.59 L533.79,162.28 L533.42,162.98 L533.04,163.68 L532.68,164.38 L532.37,165.05 L532.12,165.71 L531.94,166.34 L531.85,166.94 L531.82,167.37 L531.92,167.91 L532.12,168.41 L532.44,168.88 L532.86,169.32 L533.36,169.73 L533.95,170.12 L534.6,170.49 L535.29,170.85 L536.01,171.2 L536.72,171.55 L537.41,171.91 L538.06,172.28 L538.65,172.67 L539.16,173.08 L539.57,173.52 L539.89,173.99 L540.1,174.49 L540.19,175.02 L540.18,175.58 L540.07,176.18 L539.86,176.8 L539.57,177.45 L539.21,178.25 L538.74,178.88 L538.25,179.51 L537.76,180.13 L537.3,180.76 L536.87,181.37 L536.51,181.98 L536.23,182.57 L536.05,183.15 L535.97,183.71 L536,184.25 L536.15,184.77 L536.4,185.27 L536.76,185.76 L537.22,186.23 L537.76,186.68 L538.36,187.13 L539,187.57 L539.67,188 L540.33,188.44 L540.98,188.88 L541.58,189.32 L542.13,190.01 L542.53,190.53 L542.83,191.05 L543.03,191.58 L543.12,192.12 L543.09,192.66 L542.95,193.2 L542.7,193.76 L542.36,194.32 L541.94,194.88 L541.45,195.44 L540.91,196.01 L540.36,196.58 L539.8,197.15 L539.27,197.72 L538.78,198.28 L538.36,198.85 L538.01,199.41 L537.77,199.96 L537.63,200.51 L537.6,201.05 L537.64,201.26 L537.78,201.81 L538.03,202.36 L538.37,202.92 L538.8,203.48 L539.28,204.05 L539.82,204.61 L540.37,205.18 L540.93,205.75 L541.46,206.32 L541.95,206.89 L542.37,207.45 L542.72,208.01 L542.96,208.56 L543.1,209.11 L543.13,209.65 L543.05,210.18 L542.85,210.71 L542.54,211.23 L542.14,211.75 L541.6,212.51 L540.98,212.93 L540.32,213.34 L539.64,213.75 L538.95,214.16 L538.29,214.57 L537.67,214.99 L537.12,215.43 L536.64,215.88 L536.26,216.35 L535.99,216.84 L535.82,217.36 L535.77,217.9 L535.82,218.46 L535.99,219.04 L536.24,219.64 L536.58,220.26 L536.97,220.9 L537.41,221.54 L537.88,222.19 L538.34,222.83 L538.78,223.47 L539.18,224.11 L539.35,225.07 L539.5,225.71 L539.55,226.32 L539.51,226.88 L539.36,227.4 L539.1,227.88 L538.74,228.31 L538.28,228.71 L537.74,229.07 L537.11,229.4 L536.43,229.7 L535.71,229.99 L534.96,230.27 L534.22,230.55 L533.49,230.83 L532.81,231.14 L532.19,231.47 L531.64,231.83 L531.18,232.22 L530.82,232.66 L530.56,233.13 L530.41,233.65 L530.37,234.22 L530.56,234.49 L530.61,235.15 L530.73,235.84 L530.91,236.57 L531.13,237.31 L531.36,238.07 L531.6,238.83 L531.81,239.58 L531.99,240.31 L532.11,241 L532.17,241.65 L532.14,242.26 L532.01,242.81 L531.79,243.31 L531.47,243.74 L531.05,244.12 L530.21,244.83 L529.58,244.98 L528.88,245.08 L528.14,245.14 L527.36,245.17 L526.56,245.18 L525.77,245.19 L524.99,245.22 L524.24,245.28 L523.55,245.38 L522.91,245.54 L522.34,245.75 L521.86,246.04 L521.46,246.41" fill="none" stroke="#0d5c9c" stroke-width="1.45" stroke-linejoin="round"/>
<path d="M526.4,147.3 L527.17,147.5 L527.92,147.72 L528.63,147.95 L529.28,148.21 L529.86,148.51 L530.36,148.86 L530.76,149.26 L531.07,149.71 L531.27,150.21 L531.37,150.76 L531.37,151.37 L531.3,152.02 L531.15,152.71 L530.94,153.43 L530.69,154.17 L530.43,154.92 L530.16,155.67 L529.92,156.4 L529.55,156.91 L529.3,157.57 L529.12,158.2 L529.04,158.8 L529.05,159.37 L529.17,159.89 L529.4,160.38 L529.74,160.84 L530.18,161.25 L530.71,161.64 L531.31,162 L531.98,162.34 L532.69,162.67 L533.42,162.98 L534.15,163.3 L534.85,163.62 L535.52,163.96 L536.13,164.32 L536.65,164.71 L537.09,165.13 L537.47,165.72 L537.67,166.22 L537.77,166.75 L537.76,167.32 L537.64,167.91 L537.44,168.53 L537.15,169.18 L536.8,169.84 L536.42,170.52 L536.01,171.2 L535.6,171.88 L535.21,172.55 L534.86,173.22 L534.58,173.86 L534.37,174.48 L534.26,175.08 L534.24,175.64 L534.34,176.17 L534.55,176.68 L534.86,177.14 L535.28,177.58 L535.79,177.99 L536.38,178.38 L536.94,178.63 L537.59,179.07 L538.25,179.51 L538.92,179.94 L539.56,180.38 L540.16,180.82 L540.7,181.28 L541.15,181.75 L541.52,182.24 L541.77,182.74 L541.92,183.26 L541.95,183.8 L541.87,184.36 L541.69,184.94 L541.41,185.53 L541.05,186.14 L540.62,186.75 L540.16,187.38 L539.67,188 L539.18,188.63 L538.71,189.25 L538.29,189.87 L537.89,190.24 L537.55,190.8 L537.3,191.36 L537.16,191.9 L537.13,192.44 L537.22,192.98 L537.42,193.51 L537.72,194.03 L538.12,194.55 L538.61,195.06 L539.15,195.57 L539.75,196.08 L540.36,196.58 L540.97,197.09 L541.56,197.59 L542.11,198.1 L542.59,198.62 L543,199.13 L543.3,199.66 L543.5,200.18 L543.59,200.72 L543.52,201.58 L543.32,202.11 L543.01,202.63 L542.61,203.15 L542.12,203.66 L541.58,204.17 L540.99,204.68 L540.37,205.18 L539.76,205.69 L539.17,206.2 L538.62,206.71 L538.14,207.22 L537.73,207.74 L537.43,208.26 L537.23,208.79 L537.14,209.32 L537.17,209.86 L537.31,210.41 L537.56,210.96 L537.9,211.52 L538.33,211.83 L538.73,212.46 L539.17,213.1 L539.64,213.75 L540.1,214.4 L540.54,215.04 L540.94,215.67 L541.27,216.29 L541.53,216.9 L541.69,217.48 L541.75,218.04 L541.69,218.58 L541.53,219.1 L541.25,219.59 L540.87,220.06 L540.39,220.51 L539.84,220.94 L539.22,221.37 L538.56,221.78 L537.88,222.19 L537.2,222.59 L536.53,223.01 L535.92,223.43 L535.42,223.48 L534.87,223.84 L534.41,224.24 L534.05,224.67 L533.8,225.15 L533.65,225.67 L533.61,226.23 L533.66,226.83 L533.8,227.47 L534.02,228.14 L534.3,228.84 L534.62,229.55 L534.96,230.27 L535.3,230.99 L535.62,231.7 L535.9,232.39 L536.12,233.06 L536.26,233.7 L536.32,234.3 L536.27,234.86 L536.12,235.39 L535.87,235.86 L535.51,236.3 L534.87,237 L534.28,237.28 L533.62,237.51 L532.9,237.72 L532.14,237.9 L531.36,238.07 L530.59,238.24 L529.83,238.43 L529.11,238.63 L528.45,238.87 L527.85,239.15 L527.34,239.47 L526.92,239.85 L526.6,240.29 L526.38,240.79 L526.26,241.34 L526.49,241.51 L526.41,242.16 L526.39,242.87 L526.42,243.61 L526.48,244.39 L526.56,245.18 L526.64,245.97 L526.7,246.75 L526.73,247.5 L526.72,248.2 L526.64,248.85 L526.49,249.44 L526.26,249.95 L525.94,250.39" fill="none" stroke="#1b1a6b" stroke-width="1.45" stroke-linejoin="round"/>
<path d="M571,146.4 L570.84,147.17 L570.69,147.94 L570.59,148.67 L570.53,149.37 L570.54,150.02 L570.63,150.61 L570.8,151.14 L571.07,151.61 L571.42,152 L571.87,152.34 L572.41,152.6 L573.03,152.82 L573.71,152.98 L574.44,153.11 L575.21,153.21 L575.99,153.3 L576.78,153.39 L577.64,153.75 L578.32,154.04 L578.94,154.36 L579.49,154.72 L579.95,155.1 L580.31,155.53 L580.56,156 L580.71,156.52 L580.75,157.07 L580.7,157.67 L580.55,158.3 L580.33,158.97 L580.06,159.66 L579.74,160.36 L579.4,161.08 L579.06,161.79 L578.74,162.5 L578.46,163.19 L578.04,163.38 L577.75,163.97 L577.56,164.53 L577.47,165.09 L577.49,165.62 L577.63,166.14 L577.88,166.64 L578.23,167.12 L578.68,167.59 L579.21,168.05 L579.8,168.5 L580.44,168.94 L581.1,169.38 L581.76,169.82 L582.39,170.26 L582.99,170.71 L583.52,171.17 L583.96,171.64 L584.32,172.12 L584.57,172.62 L584.7,173.14 L584.74,174.06 L584.58,174.6 L584.32,175.13 L583.95,175.67 L583.51,176.21 L583,176.75 L582.45,177.3 L581.87,177.84 L581.3,178.38 L580.74,178.93 L580.24,179.47 L579.79,180.01 L579.43,180.55 L579.16,181.08 L579,181.62 L578.95,182.15 L579.02,182.68 L579.2,183.21 L579.49,183.74 L579.87,184.26 L580.33,184.64 L580.81,185.21 L581.33,185.78 L581.88,186.35 L582.42,186.92 L582.95,187.49 L583.43,188.06 L583.84,188.62 L584.18,189.18 L584.42,189.73 L584.55,190.27 L584.57,190.81 L584.48,191.33 L584.27,191.85 L583.96,192.36 L583.55,192.87 L583.06,193.37 L582.5,193.86 L581.9,194.35 L581.28,194.84 L580.66,195.33 L580.06,195.82 L579.48,196.12 L578.93,196.55 L578.47,197.01 L578.1,197.48 L577.83,197.97 L577.67,198.48 L577.63,199.01 L577.7,199.57 L577.87,200.14 L578.14,200.74 L578.49,201.34 L578.9,201.96 L579.35,202.59 L579.82,203.22 L580.3,203.86 L580.75,204.48 L581.16,205.1 L581.51,205.71 L581.78,206.3 L581.95,206.88 L581.94,207.65 L581.85,208.18 L581.66,208.68 L581.35,209.14 L580.95,209.59 L580.45,210 L579.87,210.4 L579.23,210.77 L578.54,211.14 L577.84,211.5 L577.14,211.86 L576.45,212.22 L575.81,212.6 L575.23,213 L574.74,213.41 L574.33,213.85 L574.02,214.32 L573.83,214.82 L573.74,215.35 L573.77,215.91 L573.9,216.49 L574.12,217.1 L574.42,217.74 L574.78,218.39 L575.18,218.99 L575.54,219.69 L575.91,220.4 L576.25,221.09 L576.55,221.77 L576.8,222.43 L576.96,223.05 L577.04,223.65 L577.01,224.21 L576.88,224.73 L576.64,225.21 L576.3,225.65 L575.86,226.05 L575.32,226.42 L574.71,226.76 L574.04,227.08 L573.33,227.39 L572.59,227.68 L571.86,227.98 L571.15,228.28 L570.48,228.6 L569.87,228.94 L569.33,229.31 L568.89,229.72 L568.54,230.16 L568.31,230.64 L568.28,230.85 L568.2,231.4 L568.21,232 L568.31,232.65 L568.47,233.33 L568.7,234.03 L568.97,234.76 L569.25,235.5 L569.54,236.24 L569.8,236.96 L570.03,237.67 L570.2,238.35 L570.29,238.99 L570.3,239.59 L570.22,240.15 L570.03,240.65 L569.74,241.1 L569.17,241.75 L568.65,242.04 L568.05,242.29 L567.38,242.49 L566.65,242.65 L565.89,242.79 L565.11,242.92 L564.33,243.05 L563.57,243.2 L562.84,243.36 L562.17,243.56 L561.57,243.81 L561.05,244.1 L560.62,244.46 L560.28,244.87" fill="none" stroke="#0d5c9c" stroke-width="1.45" stroke-linejoin="round"/>
<path d="M571,146.4 L571.79,146.49 L572.55,146.59 L573.29,146.72 L573.97,146.88 L574.58,147.09 L575.12,147.36 L575.57,147.69 L575.93,148.09 L576.19,148.55 L576.37,149.09 L576.45,149.68 L576.46,150.33 L576.41,151.03 L576.3,151.76 L576.15,152.52 L575.99,153.3 L575.83,154.07 L575.51,154.62 L575.23,155.31 L575.01,155.97 L574.87,156.6 L574.82,157.2 L574.86,157.76 L575.01,158.27 L575.26,158.74 L575.62,159.17 L576.08,159.56 L576.63,159.91 L577.25,160.23 L577.93,160.53 L578.65,160.81 L579.4,161.08 L580.14,161.35 L580.86,161.63 L581.54,161.92 L582.24,162.75 L582.69,163.22 L583.04,163.7 L583.29,164.2 L583.43,164.72 L583.45,165.25 L583.36,165.81 L583.17,166.37 L582.88,166.96 L582.51,167.55 L582.07,168.15 L581.6,168.76 L581.1,169.38 L580.6,169.99 L580.12,170.6 L579.69,171.21 L579.32,171.8 L579.03,172.38 L578.84,172.95 L578.75,173.5 L578.77,174.04 L578.86,174.17 L579.04,174.7 L579.33,175.23 L579.71,175.75 L580.18,176.28 L580.7,176.8 L581.28,177.32 L581.87,177.84 L582.47,178.36 L583.04,178.88 L583.57,179.4 L584.03,179.93 L584.42,180.45 L584.7,180.98 L584.88,181.51 L584.95,182.04 L584.9,182.57 L584.74,183.11 L584.48,183.65 L584.11,184.18 L583.65,184.87 L583.1,185.37 L582.5,185.86 L581.88,186.35 L581.26,186.84 L580.66,187.33 L580.1,187.82 L579.61,188.32 L579.2,188.83 L578.89,189.34 L578.68,189.86 L578.59,190.39 L578.61,190.92 L578.74,191.46 L578.98,192.01 L579.31,192.57 L579.73,193.13 L580.21,193.7 L580.73,194.27 L581.28,194.84 L581.83,195.41 L582.35,195.98 L582.76,196.74 L583.1,197.35 L583.37,197.94 L583.54,198.52 L583.61,199.07 L583.57,199.6 L583.41,200.12 L583.14,200.61 L582.77,201.08 L582.31,201.53 L581.76,201.97 L581.15,202.39 L580.5,202.81 L579.82,203.22 L579.15,203.64 L578.5,204.05 L577.89,204.48 L577.34,204.92 L576.88,205.37 L576.5,205.84 L576.26,206.1 L576.06,206.6 L575.98,207.13 L576,207.69 L576.13,208.28 L576.35,208.89 L576.65,209.52 L577.01,210.17 L577.42,210.83 L577.84,211.5 L578.27,212.17 L578.67,212.83 L579.03,213.48 L579.33,214.11 L579.55,214.72 L579.68,215.31 L579.7,215.87 L579.62,216.39 L579.42,216.89 L579.12,217.36 L578.71,217.8 L578.21,218.22 L577.63,218.61 L576.99,218.99 L576.28,219.4 L575.54,219.69 L574.81,219.99 L574.1,220.3 L573.43,220.61 L572.82,220.96 L572.28,221.33 L571.84,221.73 L571.49,222.17 L571.25,222.65 L571.12,223.17 L571.1,223.73 L571.18,224.32 L571.34,224.95 L571.58,225.61 L571.89,226.29 L572.23,226.98 L572.59,227.68 L572.96,228.38 L573.3,229.08 L573.6,229.76 L573.85,230.41 L574.01,231.04 L574.09,231.64 L574.06,232.2 L573.93,232.71 L573.55,233.48 L573.16,233.88 L572.67,234.23 L572.1,234.54 L571.46,234.82 L570.75,235.06 L570.01,235.28 L569.25,235.5 L568.49,235.71 L567.75,235.94 L567.05,236.18 L566.4,236.45 L565.83,236.76 L565.34,237.11 L564.95,237.51 L564.66,237.96 L564.48,238.47 L564.52,238.74 L564.46,239.34 L564.48,239.99 L564.58,240.68 L564.72,241.41 L564.91,242.16 L565.11,242.92 L565.31,243.69 L565.5,244.44 L565.64,245.17 L565.74,245.86 L565.76,246.51 L565.71,247.11 L565.56,247.65 L565.32,248.13" fill="none" stroke="#1b1a6b" stroke-width="1.45" stroke-linejoin="round"/>
</g>
<rect x="614.8" y="455.5" width="2.4" height="11" fill="#cb4a4c"/>
<rect x="610.6" y="445.2" width="10.8" height="10.8" rx="1.3" fill="#cb4a4c"/>
<text x="0" y="0" font-size="14.8" font-weight="bold" text-anchor="middle" fill="#c9504f" transform="translate(620.4,491.7) rotate(17.4)">K9Me3</text>
<text x="687" y="498" font-size="25" font-weight="bold" text-anchor="middle" fill="#a567a9" >H3</text>
<g transform="translate(-5.6,317.8)">
<path d="M718.6,247.16 C722.6,240.16 725.6,233.2 729,233.3 C733,233.5 733.5,237.4 737.6,237.4" fill="none" stroke="#0d5c9c" stroke-width="1.6" stroke-linecap="round"/>
<path d="M718.6,253.44 C723.6,261.44 724.6,274 730,274.2 C733.5,274.2 734.5,270.5 737.6,267.4" fill="none" stroke="#1b1a6b" stroke-width="1.6" stroke-linecap="round"/>
<line x1="746.3" y1="221" x2="746.3" y2="243" stroke="#3a3a3a" stroke-width="1.1"/>
<line x1="764.2" y1="221" x2="764.2" y2="243" stroke="#3a3a3a" stroke-width="1.1"/>
<line x1="782.4" y1="221" x2="782.4" y2="243" stroke="#3a3a3a" stroke-width="1.1"/>
<path d="M737,237.18 L738,237.49 L739,237.36 L740,236.8 L741,235.87 L742,234.7 L743,233.42 L744,232.18 L745,231.14 L746,230.42 L747,230.11 L748,230.24 L749,230.8 L750,231.73 L751,232.9 L752,234.18 L753,235.42 L754,236.46 L755,237.18 L756,237.49 L757,237.36 L758,236.8 L759,235.87 L760,234.7 L761,233.42 L762,232.18 L763,231.14 L764,230.42 L765,230.11 L766,230.24 L767,230.8 L768,231.73 L769,232.9 L770,234.18 L771,235.42 L772,236.46 L773,237.18 L774,237.49 L775,237.36 L776,236.8 L777,235.87 L778,234.7 L779,233.42 L780,232.18 L781,231.14 L782,230.42 L783,230.11 L784,230.24 L785,230.8 L786,231.73 L787,232.9 L788,234.18 L789,235.42 L790,236.46 L791,237.18 L792,237.49 L793,237.36 L794,236.8 L795,235.87" fill="none" stroke="#0d5c9c" stroke-width="1.6"/>
<path d="M737,230.42 L738,230.11 L739,230.24 L740,230.8 L741,231.73 L742,232.9 L743,234.18 L744,235.42 L745,236.46 L746,237.18 L747,237.49 L748,237.36 L749,236.8 L750,235.87 L751,234.7 L752,233.42 L753,232.18 L754,231.14 L755,230.42 L756,230.11 L757,230.24 L758,230.8 L759,231.73 L760,232.9 L761,234.18 L762,235.42 L763,236.46 L764,237.18 L765,237.49 L766,237.36 L767,236.8 L768,235.87 L769,234.7 L770,233.42 L771,232.18 L772,231.14 L773,230.42 L774,230.11 L775,230.24 L776,230.8 L777,231.73 L778,232.9 L779,234.18 L780,235.42 L781,236.46 L782,237.18 L783,237.49 L784,237.36 L785,236.8 L786,235.87 L787,234.7 L788,233.42 L789,232.18 L790,231.14 L791,230.42 L792,230.11 L793,230.24 L794,230.8 L795,231.73" fill="none" stroke="#1b1a6b" stroke-width="1.6"/>
<path d="M737,274.08 L738,274.39 L739,274.26 L740,273.7 L741,272.77 L742,271.6 L743,270.32 L744,269.08 L745,268.04 L746,267.32 L747,267.01 L748,267.14 L749,267.7 L750,268.63 L751,269.8 L752,271.08 L753,272.32 L754,273.36 L755,274.08 L756,274.39 L757,274.26 L758,273.7 L759,272.77 L760,271.6 L761,270.32 L762,269.08 L763,268.04 L764,267.32 L765,267.01 L766,267.14 L767,267.7 L768,268.63 L769,269.8 L770,271.08 L771,272.32 L772,273.36 L773,274.08 L774,274.39 L775,274.26 L776,273.7 L777,272.77 L778,271.6 L779,270.32 L780,269.08 L781,268.04 L782,267.32 L783,267.01 L784,267.14 L785,267.7 L786,268.63 L787,269.8 L788,271.08 L789,272.32 L790,273.36 L791,274.08 L792,274.39 L793,274.26 L794,273.7 L795,272.77" fill="none" stroke="#0d5c9c" stroke-width="1.6"/>
<path d="M737,267.32 L738,267.01 L739,267.14 L740,267.7 L741,268.63 L742,269.8 L743,271.08 L744,272.32 L745,273.36 L746,274.08 L747,274.39 L748,274.26 L749,273.7 L750,272.77 L751,271.6 L752,270.32 L753,269.08 L754,268.04 L755,267.32 L756,267.01 L757,267.14 L758,267.7 L759,268.63 L760,269.8 L761,271.08 L762,272.32 L763,273.36 L764,274.08 L765,274.39 L766,274.26 L767,273.7 L768,272.77 L769,271.6 L770,270.32 L771,269.08 L772,268.04 L773,267.32 L774,267.01 L775,267.14 L776,267.7 L777,268.63 L778,269.8 L779,271.08 L780,272.32 L781,273.36 L782,274.08 L783,274.39 L784,274.26 L785,273.7 L786,272.77 L787,271.6 L788,270.32 L789,269.08 L790,268.04 L791,267.32 L792,267.01 L793,267.14 L794,267.7 L795,268.63" fill="none" stroke="#1b1a6b" stroke-width="1.6"/>
<circle cx="746.3" cy="219.5" r="4.7" fill="#141414"/>
<circle cx="746.3" cy="245.6" r="4.2" fill="#e9e9e9" stroke="#8a8a8a" stroke-width="0.6"/>
<circle cx="764.2" cy="219.5" r="4.7" fill="#141414"/>
<circle cx="764.2" cy="245.6" r="4.2" fill="#e9e9e9" stroke="#8a8a8a" stroke-width="0.6"/>
<circle cx="782.4" cy="219.5" r="4.7" fill="#141414"/>
<circle cx="782.4" cy="245.6" r="4.2" fill="#e9e9e9" stroke="#8a8a8a" stroke-width="0.6"/>
<text x="799.5" y="233.7" font-size="14.6" font-weight="bold" text-anchor="start" fill="#111" >Hemi-</text>
<text x="799.5" y="250.7" font-size="14.6" font-weight="bold" text-anchor="start" fill="#111" >DNA</text>
</g>
<path d="M568.5,68.5 C571,75 576,77.5 582,73" fill="none" stroke="#787878" stroke-width="1.5" stroke-linecap="round"/>
<path d="M706.3,64.7 C711.5,68 708,76 711.8,79.5" fill="none" stroke="#787878" stroke-width="1.5" stroke-linecap="round"/>
<path d="M771.2,85.5 C776,87.5 781,83.5 785.7,82.7" fill="none" stroke="#787878" stroke-width="1.5" stroke-linecap="round"/>
<path d="M626.5,26 C632,23.5 633,27 633,32 C633,38 638,38 640,33 C642,27 646,26 648,32 C650,38 652,38.5 655.5,38" fill="none" stroke="#e8821c" stroke-width="1.6" stroke-linecap="round"/>
<g transform="translate(537.9,68.3) rotate(0) scale(1)">
<rect x="-31" y="-17.5" width="62" height="35" rx="17.5" fill="#e5e9fa"/>
<text x="0" y="5.6" font-size="19.7" font-weight="bold" text-anchor="middle" fill="#0a0a0a" transform="scale(0.885,1)">UBL</text>
</g>
<g transform="translate(603.5,47.8) rotate(-50) scale(0.92)">
<rect x="-34" y="-18.5" width="68" height="37" rx="18.5" fill="#2f7bc1"/>
<rect x="3.3" y="11.2" width="12.2" height="8.5" fill="#fff"/>
<text x="0" y="6.2" font-size="21.3" font-weight="bold" text-anchor="middle" fill="#0a0a0a" transform="scale(0.958,1)">TTD</text>
</g>
<g transform="translate(681.5,45.4) rotate(37.3) scale(0.92)">
<rect x="-34" y="-18.5" width="68" height="37" rx="18.5" fill="#c43c96"/>
<circle cx="3.2" cy="14.2" r="5.2" fill="#fff"/>
<rect x="0.1" y="14.2" width="6.2" height="5.5" fill="#fff"/>
<text x="0" y="6.2" font-size="21.3" font-weight="bold" text-anchor="middle" fill="#0a0a0a" transform="scale(0.936,1)">PHD</text>
</g>
<g transform="translate(742.2,79.5) rotate(14.1) scale(0.92)">
<rect x="-34" y="-18.5" width="68" height="37" rx="18.5" fill="#d5eeec"/>
<path d="M-7,19.5 C-6,13.5 -2.5,12 0.5,13.2 C3.5,14.2 5.5,16 6.5,19.5 Z" fill="#fff"/>
<text x="0" y="6.2" font-size="21.3" font-weight="bold" text-anchor="middle" fill="#0a0a0a" transform="scale(0.899,1)">SRA</text>
</g>
<g transform="translate(814.5,72) rotate(-20.8) scale(0.92)">
<rect x="-34" y="-18.5" width="68" height="37" rx="18.5" fill="#f5f3d8"/>
<text x="0" y="6.2" font-size="21.3" font-weight="bold" text-anchor="middle" fill="#0a0a0a" transform="scale(0.914,1)">RING</text>
</g>
<path d="M560.5,413.6 C565,413.8 569,415 573.5,417.5" fill="none" stroke="#787878" stroke-width="1.5" stroke-linecap="round"/>
<path d="M719,465.5 C723,472 718,484 720.8,492.6" fill="none" stroke="#787878" stroke-width="1.5" stroke-linecap="round"/>
<path d="M782.7,515.6 C787,516 790,513 793.8,511" fill="none" stroke="#787878" stroke-width="1.5" stroke-linecap="round"/>
<path d="M639.2,420.3 C643,418 645,421 645.5,425.5 C646,431 650,432 652,427.5 C654,423 658,423 659.5,427.5 C661,432 663,433 667,432.6" fill="none" stroke="#e8821c" stroke-width="1.6" stroke-linecap="round"/>
<g transform="translate(528.2,414.7) rotate(0) scale(1)">
<rect x="-32.3" y="-19" width="64.6" height="38" rx="19" fill="#e5e9fa"/>
<text x="0" y="6.2" font-size="20.2" font-weight="bold" text-anchor="middle" fill="#0a0a0a" transform="scale(0.885,1)">UBL</text>
</g>
<g transform="translate(605.7,422.5) rotate(0) scale(1)">
<rect x="-34" y="-18.5" width="68" height="37" rx="18.5" fill="#2f7bc1"/>
<rect x="3.3" y="11.2" width="12.2" height="8.5" fill="#fff"/>
<text x="0" y="5.8" font-size="20" font-weight="bold" text-anchor="middle" fill="#0a0a0a" transform="scale(0.958,1)">TTD</text>
</g>
<g transform="translate(695.7,442.8) rotate(40.5) scale(1)">
<rect x="-32.75" y="-18.5" width="65.5" height="37" rx="18.5" fill="#c43c96"/>
<circle cx="-1.2" cy="14.2" r="5.2" fill="#fff"/>
<rect x="-4.3" y="14.2" width="6.2" height="5.5" fill="#fff"/>
<text x="0" y="5.8" font-size="20" font-weight="bold" text-anchor="middle" fill="#0a0a0a" transform="scale(0.936,1)">PHD</text>
</g>
<g transform="translate(750.6,507.6) rotate(14) scale(1)">
<rect x="-32.75" y="-18.5" width="65.5" height="37" rx="18.5" fill="#d5eeec"/>
<path d="M-7,19.5 C-6,13.5 -2.5,12 0.5,13.2 C3.5,14.2 5.5,16 6.5,19.5 Z" fill="#fff"/>
<text x="0" y="5.8" font-size="20" font-weight="bold" text-anchor="middle" fill="#0a0a0a" transform="scale(0.899,1)">SRA</text>
</g>
<g transform="translate(822.6,500.3) rotate(-22.6) scale(1)">
<rect x="-31.5" y="-18.5" width="63" height="37" rx="18.5" fill="#f5f3d8"/>
<text x="0" y="5.8" font-size="20" font-weight="bold" text-anchor="middle" fill="#0a0a0a" transform="scale(0.914,1)">RING</text>
</g>
<path d="M607.8,86 L609.1,73.8 L614.7,78.4 L616,66.2 L621.6,70.8 L622.9,58.6 L628.5,63.2 L629.8,51" fill="none" stroke="#62ea52" stroke-width="10" stroke-linecap="round" stroke-linejoin="round" filter="url(#glow)" opacity="0.7"/>
<path d="M650.9,60.6 L654.2,70.6 L661.4,66.6 L663.2,76.8 L667.2,69.2" fill="none" stroke="#62ea52" stroke-width="10" stroke-linecap="round" stroke-linejoin="round" filter="url(#glow)" opacity="0.7"/>
<path d="M630.2,52.6 C634,51.6 639,51.8 643,53.2 C647.5,55 650,57.5 651,61" fill="none" stroke="#62ea52" stroke-width="5" stroke-linecap="round" filter="url(#glow)" opacity="0.7"/>
<path d="M630.2,52.6 C634,51.6 639,51.8 643,53.2 C647.5,55 650,57.5 651,61" fill="none" stroke="#46dc1e" stroke-width="1.7" stroke-linecap="round"/>
<line x1="609.1" y1="73.8" x2="614.7" y2="78.4" stroke="#2bb400" stroke-width="3.9" stroke-linecap="round"/>
<line x1="616" y1="66.2" x2="621.6" y2="70.8" stroke="#2bb400" stroke-width="3.9" stroke-linecap="round"/>
<line x1="622.9" y1="58.6" x2="628.5" y2="63.2" stroke="#2bb400" stroke-width="3.9" stroke-linecap="round"/>
<line x1="607.8" y1="86" x2="609.1" y2="73.8" stroke="#27a800" stroke-width="4.8" stroke-linecap="round"/>
<line x1="607.8" y1="86" x2="609.1" y2="73.8" stroke="#3fe600" stroke-width="3.9" stroke-linecap="round"/>
<line x1="614.7" y1="78.4" x2="616" y2="66.2" stroke="#27a800" stroke-width="4.8" stroke-linecap="round"/>
<line x1="614.7" y1="78.4" x2="616" y2="66.2" stroke="#3fe600" stroke-width="3.9" stroke-linecap="round"/>
<line x1="621.6" y1="70.8" x2="622.9" y2="58.6" stroke="#27a800" stroke-width="4.8" stroke-linecap="round"/>
<line x1="621.6" y1="70.8" x2="622.9" y2="58.6" stroke="#3fe600" stroke-width="3.9" stroke-linecap="round"/>
<line x1="628.5" y1="63.2" x2="629.8" y2="51" stroke="#27a800" stroke-width="4.8" stroke-linecap="round"/>
<line x1="628.5" y1="63.2" x2="629.8" y2="51" stroke="#3fe600" stroke-width="3.9" stroke-linecap="round"/>
<line x1="654.2" y1="70.6" x2="661.4" y2="66.6" stroke="#2bb400" stroke-width="3.9" stroke-linecap="round"/>
<line x1="663.2" y1="76.8" x2="667.2" y2="69.2" stroke="#2bb400" stroke-width="3.9" stroke-linecap="round"/>
<line x1="650.9" y1="60.6" x2="654.2" y2="70.6" stroke="#27a800" stroke-width="4.8" stroke-linecap="round"/>
<line x1="650.9" y1="60.6" x2="654.2" y2="70.6" stroke="#3fe600" stroke-width="3.9" stroke-linecap="round"/>
<line x1="661.4" y1="66.6" x2="663.2" y2="76.8" stroke="#27a800" stroke-width="4.8" stroke-linecap="round"/>
<line x1="661.4" y1="66.6" x2="663.2" y2="76.8" stroke="#3fe600" stroke-width="3.9" stroke-linecap="round"/>
<path d="M647.8,83.6 C657.5,89.5 664.5,100 665.5,121 L657.6,121 C657,104 652.5,94.5 644.6,88.4 Z" fill="url(#inh)"/>
<polygon points="652.2,117.8 671.5,121.1 670.1,128.8 650.9,125.1" fill="#262626"/>
<ellipse cx="1089" cy="115.1" rx="73.7" ry="47.4" fill="#fff" stroke="#111" stroke-width="1.5"/>
<g transform="translate(0,0)">
<line x1="1043.1" y1="104" x2="1043.1" y2="142" stroke="#141414" stroke-width="1.3"/>
<line x1="1057.8" y1="104" x2="1057.8" y2="142" stroke="#555" stroke-width="1.0"/>
<line x1="1071.7" y1="104" x2="1071.7" y2="142" stroke="#555" stroke-width="1.0"/>
<line x1="1087.6" y1="104" x2="1087.6" y2="142" stroke="#555" stroke-width="1.0"/>
<path d="M1041,117.94 L1041.75,117.39 L1042.5,117 L1043.25,116.76 L1044,116.7 L1044.75,116.81 L1045.5,117.09 L1046.25,117.52 L1047,118.11 L1047.75,118.83 L1048.5,119.67 L1049.25,120.6 L1050,121.6 L1050.75,122.64 L1051.5,123.69 L1052.25,124.73 L1053,125.74 L1053.75,126.67 L1054.5,127.51 L1055.25,128.24 L1056,128.84 L1056.75,129.29 L1057.5,129.58 L1058.25,129.7 L1059,129.65 L1059.75,129.42 L1060.5,129.04 L1061.25,128.5 L1062,127.82 L1062.75,127.02 L1063.5,126.12 L1064.25,125.14 L1065,124.11 L1065.75,123.06 L1066.5,122.01 L1067.25,120.99 L1068,120.03 L1068.75,119.16 L1069.5,118.39 L1070.25,117.74 L1071,117.24 L1071.75,116.9 L1072.5,116.72 L1073.25,116.72 L1074,116.88 L1074.75,117.22 L1075.5,117.7 L1076.25,118.34 L1077,119.1 L1077.75,119.97 L1078.5,120.93 L1079.25,121.94 L1080,122.99 L1080.75,124.04 L1081.5,125.07 L1082.25,126.06 L1083,126.96 L1083.75,127.77 L1084.5,128.46 L1085.25,129.01 L1086,129.4 L1086.75,129.64 L1087.5,129.7 L1088.25,129.59 L1089,129.31 L1089.75,128.88 L1090.5,128.29 L1091.25,127.57 L1092,126.73 L1092.75,125.8 L1093.5,124.8 L1094.25,123.76 L1095,122.71 L1095.75,121.67 L1096.5,120.66 L1097.25,119.73 L1098,118.89 L1098.75,118.16 L1099.5,117.56 L1100.25,117.11 L1101,116.82 L1101.75,116.7 L1102.5,116.75 L1103.25,116.98 L1104,117.36 L1104.75,117.9 L1105.5,118.58 L1106.25,119.38 L1107,120.28 L1107.75,121.26 L1108.5,122.29 L1109.25,123.34 L1110,124.39 L1110.75,125.41 L1111.5,126.37 L1112.25,127.24 L1113,128.01 L1113.75,128.66 L1114.5,129.16 L1115.25,129.5 L1116,129.68 L1116.75,129.68 L1117.5,129.52 L1118.25,129.18 L1119,128.7 L1119.75,128.06 L1120.5,127.3 L1121.25,126.43 L1122,125.47 L1122.75,124.46 L1123.5,123.41 L1124.25,122.36 L1125,121.33 L1125.75,120.34 L1126.5,119.44 L1127.25,118.63 L1128,117.94 L1128.75,117.39 L1129.5,117" fill="none" stroke="#0d5c9c" stroke-width="2.5"/>
<path d="M1041,128.46 L1041.75,129.01 L1042.5,129.4 L1043.25,129.64 L1044,129.7 L1044.75,129.59 L1045.5,129.31 L1046.25,128.88 L1047,128.29 L1047.75,127.57 L1048.5,126.73 L1049.25,125.8 L1050,124.8 L1050.75,123.76 L1051.5,122.71 L1052.25,121.67 L1053,120.66 L1053.75,119.73 L1054.5,118.89 L1055.25,118.16 L1056,117.56 L1056.75,117.11 L1057.5,116.82 L1058.25,116.7 L1059,116.75 L1059.75,116.98 L1060.5,117.36 L1061.25,117.9 L1062,118.58 L1062.75,119.38 L1063.5,120.28 L1064.25,121.26 L1065,122.29 L1065.75,123.34 L1066.5,124.39 L1067.25,125.41 L1068,126.37 L1068.75,127.24 L1069.5,128.01 L1070.25,128.66 L1071,129.16 L1071.75,129.5 L1072.5,129.68 L1073.25,129.68 L1074,129.52 L1074.75,129.18 L1075.5,128.7 L1076.25,128.06 L1077,127.3 L1077.75,126.43 L1078.5,125.47 L1079.25,124.46 L1080,123.41 L1080.75,122.36 L1081.5,121.33 L1082.25,120.34 L1083,119.44 L1083.75,118.63 L1084.5,117.94 L1085.25,117.39 L1086,117 L1086.75,116.76 L1087.5,116.7 L1088.25,116.81 L1089,117.09 L1089.75,117.52 L1090.5,118.11 L1091.25,118.83 L1092,119.67 L1092.75,120.6 L1093.5,121.6 L1094.25,122.64 L1095,123.69 L1095.75,124.73 L1096.5,125.74 L1097.25,126.67 L1098,127.51 L1098.75,128.24 L1099.5,128.84 L1100.25,129.29 L1101,129.58 L1101.75,129.7 L1102.5,129.65 L1103.25,129.42 L1104,129.04 L1104.75,128.5 L1105.5,127.82 L1106.25,127.02 L1107,126.12 L1107.75,125.14 L1108.5,124.11 L1109.25,123.06 L1110,122.01 L1110.75,120.99 L1111.5,120.03 L1112.25,119.16 L1113,118.39 L1113.75,117.74 L1114.5,117.24 L1115.25,116.9 L1116,116.72 L1116.75,116.72 L1117.5,116.88 L1118.25,117.22 L1119,117.7 L1119.75,118.34 L1120.5,119.1 L1121.25,119.97 L1122,120.93 L1122.75,121.94 L1123.5,122.99 L1124.25,124.04 L1125,125.07 L1125.75,126.06 L1126.5,126.96 L1127.25,127.77 L1128,128.46 L1128.75,129.01 L1129.5,129.4" fill="none" stroke="#1b1a6b" stroke-width="2.5"/>
<circle cx="1043.1" cy="103.2" r="4.4" fill="#141414"/>
<circle cx="1043.1" cy="142.9" r="4.4" fill="#141414"/>
<circle cx="1057.8" cy="103.2" r="4.1" fill="#e9e9e9" stroke="#8a8a8a" stroke-width="0.6"/>
<circle cx="1057.8" cy="142.9" r="4.1" fill="#e9e9e9" stroke="#8a8a8a" stroke-width="0.6"/>
<circle cx="1071.7" cy="103.2" r="4.1" fill="#e9e9e9" stroke="#8a8a8a" stroke-width="0.6"/>
<circle cx="1071.7" cy="142.9" r="4.1" fill="#e9e9e9" stroke="#8a8a8a" stroke-width="0.6"/>
<circle cx="1087.6" cy="103.2" r="4.1" fill="#e9e9e9" stroke="#8a8a8a" stroke-width="0.6"/>
<circle cx="1087.6" cy="142.9" r="4.1" fill="#e9e9e9" stroke="#8a8a8a" stroke-width="0.6"/>
</g>
<path d="M1098.2,116 V101.6 H1129" fill="none" stroke="#222" stroke-width="2.1"/>
<polygon points="1127.5,96.1 1138.8,101.6 1127.5,107.1" fill="#222"/>
<text x="1097.2" y="96.6" font-size="13.3" font-weight="bold" text-anchor="start" fill="#111" >TSG</text>
<ellipse cx="1088.7" cy="441.3" rx="73.7" ry="47.4" fill="#fff" stroke="#111" stroke-width="1.5"/>
<g transform="translate(0,326.2)">
<line x1="1043.1" y1="104" x2="1043.1" y2="142" stroke="#141414" stroke-width="1.3"/>
<line x1="1057.8" y1="104" x2="1057.8" y2="142" stroke="#141414" stroke-width="1.3"/>
<line x1="1071.7" y1="104" x2="1071.7" y2="142" stroke="#141414" stroke-width="1.3"/>
<line x1="1087.6" y1="104" x2="1087.6" y2="142" stroke="#141414" stroke-width="1.3"/>
<path d="M1041,119.13 L1041.75,118.63 L1042.5,118.27 L1043.25,118.06 L1044,118 L1044.75,118.1 L1045.5,118.35 L1046.25,118.75 L1047,119.28 L1047.75,119.94 L1048.5,120.7 L1049.25,121.54 L1050,122.45 L1050.75,123.39 L1051.5,124.35 L1052.25,125.29 L1053,126.2 L1053.75,127.05 L1054.5,127.82 L1055.25,128.48 L1056,129.02 L1056.75,129.43 L1057.5,129.69 L1058.25,129.8 L1059,129.75 L1059.75,129.55 L1060.5,129.2 L1061.25,128.71 L1062,128.09 L1062.75,127.37 L1063.5,126.55 L1064.25,125.66 L1065,124.73 L1065.75,123.77 L1066.5,122.82 L1067.25,121.9 L1068,121.02 L1068.75,120.23 L1069.5,119.53 L1070.25,118.95 L1071,118.49 L1071.75,118.18 L1072.5,118.02 L1073.25,118.02 L1074,118.17 L1074.75,118.47 L1075.5,118.91 L1076.25,119.49 L1077,120.18 L1077.75,120.97 L1078.5,121.84 L1079.25,122.76 L1080,123.71 L1080.75,124.66 L1081.5,125.6 L1082.25,126.49 L1083,127.32 L1083.75,128.05 L1084.5,128.67 L1085.25,129.17 L1086,129.53 L1086.75,129.74 L1087.5,129.8 L1088.25,129.7 L1089,129.45 L1089.75,129.05 L1090.5,128.52 L1091.25,127.86 L1092,127.1 L1092.75,126.26 L1093.5,125.35 L1094.25,124.41 L1095,123.45 L1095.75,122.51 L1096.5,121.6 L1097.25,120.75 L1098,119.98 L1098.75,119.32 L1099.5,118.78 L1100.25,118.37 L1101,118.11 L1101.75,118 L1102.5,118.05 L1103.25,118.25 L1104,118.6 L1104.75,119.09 L1105.5,119.71 L1106.25,120.43 L1107,121.25 L1107.75,122.14 L1108.5,123.07 L1109.25,124.03 L1110,124.98 L1110.75,125.9 L1111.5,126.78 L1112.25,127.57 L1113,128.27 L1113.75,128.85 L1114.5,129.31 L1115.25,129.62 L1116,129.78 L1116.75,129.78 L1117.5,129.63 L1118.25,129.33 L1119,128.89 L1119.75,128.31 L1120.5,127.62 L1121.25,126.83 L1122,125.96 L1122.75,125.04 L1123.5,124.09 L1124.25,123.14 L1125,122.2 L1125.75,121.31 L1126.5,120.48 L1127.25,119.75 L1128,119.13 L1128.75,118.63 L1129.5,118.27" fill="none" stroke="#0d5c9c" stroke-width="2.5"/>
<path d="M1041,128.67 L1041.75,129.17 L1042.5,129.53 L1043.25,129.74 L1044,129.8 L1044.75,129.7 L1045.5,129.45 L1046.25,129.05 L1047,128.52 L1047.75,127.86 L1048.5,127.1 L1049.25,126.26 L1050,125.35 L1050.75,124.41 L1051.5,123.45 L1052.25,122.51 L1053,121.6 L1053.75,120.75 L1054.5,119.98 L1055.25,119.32 L1056,118.78 L1056.75,118.37 L1057.5,118.11 L1058.25,118 L1059,118.05 L1059.75,118.25 L1060.5,118.6 L1061.25,119.09 L1062,119.71 L1062.75,120.43 L1063.5,121.25 L1064.25,122.14 L1065,123.07 L1065.75,124.03 L1066.5,124.98 L1067.25,125.9 L1068,126.78 L1068.75,127.57 L1069.5,128.27 L1070.25,128.85 L1071,129.31 L1071.75,129.62 L1072.5,129.78 L1073.25,129.78 L1074,129.63 L1074.75,129.33 L1075.5,128.89 L1076.25,128.31 L1077,127.62 L1077.75,126.83 L1078.5,125.96 L1079.25,125.04 L1080,124.09 L1080.75,123.14 L1081.5,122.2 L1082.25,121.31 L1083,120.48 L1083.75,119.75 L1084.5,119.13 L1085.25,118.63 L1086,118.27 L1086.75,118.06 L1087.5,118 L1088.25,118.1 L1089,118.35 L1089.75,118.75 L1090.5,119.28 L1091.25,119.94 L1092,120.7 L1092.75,121.54 L1093.5,122.45 L1094.25,123.39 L1095,124.35 L1095.75,125.29 L1096.5,126.2 L1097.25,127.05 L1098,127.82 L1098.75,128.48 L1099.5,129.02 L1100.25,129.43 L1101,129.69 L1101.75,129.8 L1102.5,129.75 L1103.25,129.55 L1104,129.2 L1104.75,128.71 L1105.5,128.09 L1106.25,127.37 L1107,126.55 L1107.75,125.66 L1108.5,124.73 L1109.25,123.77 L1110,122.82 L1110.75,121.9 L1111.5,121.02 L1112.25,120.23 L1113,119.53 L1113.75,118.95 L1114.5,118.49 L1115.25,118.18 L1116,118.02 L1116.75,118.02 L1117.5,118.17 L1118.25,118.47 L1119,118.91 L1119.75,119.49 L1120.5,120.18 L1121.25,120.97 L1122,121.84 L1122.75,122.76 L1123.5,123.71 L1124.25,124.66 L1125,125.6 L1125.75,126.49 L1126.5,127.32 L1127.25,128.05 L1128,128.67 L1128.75,129.17 L1129.5,129.53" fill="none" stroke="#1b1a6b" stroke-width="2.5"/>
<circle cx="1043.1" cy="103.2" r="4.4" fill="#141414"/>
<circle cx="1043.1" cy="142.9" r="4.4" fill="#141414"/>
<circle cx="1057.8" cy="103.2" r="4.4" fill="#141414"/>
<circle cx="1057.8" cy="142.9" r="4.4" fill="#141414"/>
<circle cx="1071.7" cy="103.2" r="4.4" fill="#141414"/>
<circle cx="1071.7" cy="142.9" r="4.4" fill="#141414"/>
<circle cx="1087.6" cy="103.2" r="4.4" fill="#141414"/>
<circle cx="1087.6" cy="142.9" r="4.4" fill="#141414"/>
</g>
<path d="M1098.1,442 V427.9 H1138.8 M1138.8,421 V435" fill="none" stroke="#222" stroke-width="1.6"/>
<text x="1104.7" y="423.2" font-size="13.3" font-weight="bold" text-anchor="start" fill="#111" >TSG</text>
<rect x="1074.4" y="208.2" width="22.2" height="5" fill="url(#sa1)"/>
<polygon points="1096.1,201.3 1114.8,210.7 1096.1,220.1" fill="#262626"/>
<rect x="1074.6" y="526.3" width="22.2" height="5" fill="url(#sa2)"/>
<polygon points="1096.3,519.4 1115,528.8 1096.3,538.2" fill="#262626"/>
<g transform="translate(0,0)">
<polygon points="1012.33,178.2 1012.11,181.33 1011.45,184.52 1009.09,186.79 1006.79,188.91 1004.05,190.47 1000.91,190.66 997.83,191.12 994.72,190.53 991.78,189.24 990.1,186.44 988.14,184.11 987.35,181.17 985.96,178.2 986.51,175.02 988.47,172.46 989.15,169.12 991.64,166.95 994.71,165.84 997.81,165.13 1000.91,165.78 1003.76,166.69 1006.81,167.47 1008.66,170 1010.52,172.36 1011.66,175.18" fill="#fbdcdd" opacity="0.85"/>
<circle cx="999.4" cy="178.2" r="5.46" fill="#f3c3c6" opacity="0.8"/>
<polygon points="1041.45,175.9 1041.69,178.88 1040.6,181.67 1039.31,184.5 1036.72,186.21 1034.1,187.77 1031.11,188.31 1028.07,188.53 1025.19,187.53 1022.67,185.94 1019.73,184.64 1017.93,182.03 1017.01,179 1016.81,175.9 1017.71,172.97 1018.86,170.26 1020.46,167.8 1022.83,166.1 1025.04,163.87 1028.11,163.63 1031.16,163.02 1033.98,164.36 1037.06,165.09 1039.31,167.29 1040.06,170.41 1041.35,173" fill="#fbdcdd" opacity="0.85"/>
<circle cx="1029.6" cy="175.9" r="5.25" fill="#f3c3c6" opacity="0.8"/>
<polygon points="1058.42,190.5 1057.53,193.24 1057.12,196.13 1054.91,198.04 1052.63,199.52 1050.54,201.41 1047.83,202.27 1045.05,201.63 1042.51,200.76 1039.99,199.79 1037.35,198.52 1035.93,196 1035.7,193.14 1035.22,190.5 1035.72,187.87 1036.71,185.41 1037.51,182.62 1040.1,181.37 1042.3,179.68 1045.02,179.15 1047.74,179.47 1050.58,179.47 1052.67,181.42 1055.14,182.75 1056.15,185.38 1057.47,187.77" fill="#fbdcdd" opacity="0.85"/>
<circle cx="1046.4" cy="190.5" r="4.83" fill="#f3c3c6" opacity="0.8"/>
<polygon points="989.14,195 988.88,197.68 988.71,200.62 986.9,202.88 984.39,204.26 982.25,206.21 979.34,206.05 976.63,206.28 973.76,206.17 971.37,204.61 969.77,202.29 967.27,200.63 967.19,197.67 966.81,195 966.5,192.17 968.01,189.76 969.58,187.54 971.77,185.98 974.11,184.73 976.6,183.48 979.35,183.91 982.12,184.13 984.44,185.67 986.56,187.41 988.7,189.39 989.15,192.25" fill="#fbdcdd" opacity="0.85"/>
<circle cx="978" cy="195" r="4.83" fill="#f3c3c6" opacity="0.8"/>
<polygon points="984.69,224 984.71,226.74 983,228.93 981.52,231.02 980.13,233.46 977.64,234.64 974.89,234.62 972.32,234.55 969.6,234.56 967.05,233.49 965.64,231.05 963.38,229.37 962.47,226.74 962.47,224 963.01,221.39 964.28,219.11 965.78,217.08 967.03,214.49 969.81,214.01 972.24,212.83 974.89,213.37 977.64,213.35 979.92,214.85 981.65,216.87 982.99,219.07 984.54,221.3" fill="#fbdcdd" opacity="0.85"/>
<circle cx="973.6" cy="224" r="4.62" fill="#f3c3c6" opacity="0.8"/>
<polygon points="994.48,243 994.36,245.55 993.8,248.15 992.55,250.58 990.33,252.17 987.81,253.04 985.39,254.42 982.72,253.56 980.31,252.74 977.91,251.82 975.82,250.25 974.73,247.86 973.7,245.54 973.16,243 973.23,240.35 974.65,238.1 975.89,235.82 977.48,233.56 979.89,232.17 982.65,231.89 985.35,231.85 987.94,232.62 990,234.31 991.81,236.08 993.22,238.16 995.16,240.25" fill="#fbdcdd" opacity="0.85"/>
<circle cx="984" cy="243" r="4.62" fill="#f3c3c6" opacity="0.8"/>
<polygon points="1031.18,257.2 1031.15,260.34 1028.89,262.7 1027.9,265.61 1025.49,267.47 1022.94,269.18 1019.88,269.36 1016.81,270.29 1014.17,268.34 1011.26,267.54 1008.8,265.71 1006.84,263.26 1005.95,260.27 1005.62,257.2 1005.87,254.11 1006.83,251.13 1009.2,249.05 1011.15,246.7 1013.77,245 1016.83,244.28 1019.89,244.9 1022.97,245.14 1025.78,246.5 1027.83,248.84 1029.62,251.31 1030.38,254.25" fill="#fbdcdd" opacity="0.85"/>
<circle cx="1018.4" cy="257.2" r="5.25" fill="#f3c3c6" opacity="0.8"/>
<polygon points="1054.1,244.5 1053.81,247.16 1052.29,249.38 1051.36,251.91 1049.59,254.04 1047.06,255.21 1044.36,255.69 1041.69,255.29 1039,255.05 1036.7,253.63 1034.82,251.75 1032.9,249.8 1032.81,247.01 1031.7,244.5 1032.87,242 1033.15,239.33 1034.78,237.22 1036.94,235.72 1039.01,233.99 1041.67,233.58 1044.34,233.44 1047.08,233.74 1049.08,235.69 1050.79,237.6 1052.53,239.5 1053.89,241.82" fill="#fbdcdd" opacity="0.85"/>
<circle cx="1043" cy="244.5" r="4.62" fill="#f3c3c6" opacity="0.8"/>
<polygon points="1063.71,206 1063.42,208.08 1063.32,210.37 1061.86,212.07 1060.08,213.36 1058.33,214.78 1056.06,214.76 1053.9,215.1 1051.91,214.14 1049.93,213.35 1048.04,212.17 1046.67,210.37 1045.9,208.24 1046.11,206 1046.18,203.83 1047.19,201.9 1048.53,200.27 1049.89,198.6 1051.69,197.27 1053.87,196.72 1056.11,196.86 1058.35,197.17 1059.99,198.78 1061.49,200.25 1062.93,201.84 1063.52,203.9" fill="#fbdcdd" opacity="0.85"/>
<circle cx="1055" cy="206" r="3.78" fill="#f3c3c6" opacity="0.8"/>
<polygon points="1000.72,254 1000.66,256.13 1000.08,258.24 998.73,259.96 997.01,261.26 995.31,262.73 993.14,263.41 990.92,262.89 988.96,262.02 987.15,261.03 984.99,260.21 984.43,257.97 983.06,256.2 982.93,254 983.45,251.89 983.78,249.68 985.62,248.35 987.09,246.89 988.82,245.63 990.97,245.53 993.12,244.74 995.1,245.83 996.91,246.89 998.4,248.33 1000.08,249.76 1000.69,251.86" fill="#fbdcdd" opacity="0.85"/>
<circle cx="992" cy="254" r="3.78" fill="#f3c3c6" opacity="0.8"/>
<polygon points="1062.63,232 1062.39,234.19 1061.74,236.32 1060.58,238.27 1058.72,239.56 1056.59,240.14 1054.58,240.91 1052.45,240.62 1050.48,239.96 1048.4,239.38 1046.6,238.11 1045.81,236.03 1044.98,234.1 1044.65,232 1044.57,229.8 1045.51,227.81 1046.68,225.96 1048.24,224.38 1050.35,223.68 1052.38,222.78 1054.63,222.67 1056.55,223.97 1058.86,224.24 1060.4,225.89 1061.14,227.99 1062.19,229.86" fill="#fbdcdd" opacity="0.85"/>
<circle cx="1053.5" cy="232" r="3.78" fill="#f3c3c6" opacity="0.8"/>
<polygon points="1021.12,173 1021.13,175.25 1019.86,177.13 1018.79,179.01 1017.33,180.72 1015.3,181.69 1013.14,182.37 1010.92,181.9 1008.76,181.56 1007.05,180.17 1005.1,179.11 1003.75,177.33 1003.13,175.19 1002.78,173 1003.54,170.91 1003.68,168.63 1004.91,166.72 1006.62,165.2 1008.8,164.55 1010.88,163.78 1013.06,164.24 1015.34,164.21 1017.31,165.3 1018.62,167.13 1019.6,169.01 1020.68,170.86" fill="#fbdcdd" opacity="0.85"/>
<circle cx="1012" cy="173" r="3.78" fill="#f3c3c6" opacity="0.8"/>
<polygon points="1020.07,182.5 1019.99,185.7 1018.5,188.53 1016.23,190.67 1014.64,193.56 1011.39,194.07 1008.62,195.83 1005.49,194.94 1002.47,194.43 999.38,193.54 997.65,190.78 995.93,188.31 994.35,185.62 993.68,182.5 993.91,179.27 995.25,176.33 996.79,173.46 999.62,171.81 1002.16,169.74 1005.5,170.18 1008.52,169.99 1011.62,170.31 1014.21,172.05 1016.98,173.66 1018.69,176.37 1019.65,179.38" fill="#f3b0b4" stroke="#e99fa4" stroke-width="0.5"/>
<circle cx="1007" cy="182.5" r="5.72" fill="#df9298"/>
<polygon points="996.95,201 996.23,203.89 994.91,206.46 993.36,208.85 991.58,211.25 988.94,212.71 985.9,212.53 983,213.37 980.03,212.8 977.67,210.9 975.45,209.02 974.22,206.39 972.8,203.88 972.5,201 972.71,198.09 974.43,195.71 975.05,192.63 977.67,191.11 980.29,189.9 983.01,188.69 985.96,189.01 988.75,189.79 991.46,190.92 993.05,193.42 995.17,195.4 996.04,198.16" fill="#f3b0b4" stroke="#e99fa4" stroke-width="0.5"/>
<circle cx="984.5" cy="201" r="5.28" fill="#df9298"/>
<polygon points="1064.13,219.6 1063.7,222.73 1061.79,225.26 1060.33,227.86 1057.81,229.47 1055.4,231.2 1052.56,232.44 1049.43,232.56 1046.58,231.26 1044.04,229.68 1041.96,227.61 1039.79,225.48 1038.3,222.73 1039.01,219.6 1038.49,216.52 1040.51,214.1 1041.96,211.59 1044.11,209.62 1046.48,207.67 1049.52,207.43 1052.48,207.39 1055.49,207.76 1057.79,209.76 1060.59,211.1 1061.61,214.03 1063.15,216.61" fill="#f3b0b4" stroke="#e99fa4" stroke-width="0.5"/>
<circle cx="1051" cy="219.6" r="5.5" fill="#df9298"/>
<polygon points="1046.66,241 1046.23,243.89 1045.61,246.83 1043.79,249.23 1041.5,251.15 1038.89,252.58 1036.01,253.45 1033.05,252.94 1030.21,252.31 1027.3,251.44 1025,249.42 1023.4,246.83 1021.89,244.11 1021.85,241 1021.89,237.89 1023.76,235.36 1024.9,232.49 1027.16,230.36 1029.87,228.79 1033.02,228.84 1035.98,228.84 1039.14,228.77 1041.38,231.03 1044.37,232.26 1046.04,234.94 1046.15,238.13" fill="#f3b0b4" stroke="#e99fa4" stroke-width="0.5"/>
<circle cx="1034.5" cy="241" r="5.5" fill="#df9298"/>
<polygon points="1007.64,242 1007.94,245.07 1006.28,247.66 1004.44,249.92 1002.86,252.66 999.89,253.59 997.05,254.8 994.06,253.9 991.11,253.56 988.25,252.5 986.64,249.85 984.8,247.62 983.12,245.05 982.43,242 982.74,238.85 984.9,236.44 986.14,233.71 988.2,231.42 991.07,230.31 993.96,229.34 996.96,230.02 999.72,230.86 1002.29,232.16 1004.38,234.13 1006.63,236.16 1007.66,239" fill="#f3b0b4" stroke="#e99fa4" stroke-width="0.5"/>
<circle cx="995.5" cy="242" r="5.5" fill="#df9298"/>
<polygon points="1053.08,203 1052.27,205.53 1051.4,207.93 1049.97,210.06 1048.48,212.39 1046.11,213.84 1043.39,214.43 1040.73,213.43 1038.29,212.79 1035.44,212.5 1033.8,210.26 1031.98,208.26 1031.52,205.58 1031.04,203 1031.3,200.36 1032.33,197.93 1033.67,195.62 1036.09,194.43 1038.01,192.49 1040.62,191.67 1043.28,192.46 1045.88,192.77 1048.41,193.71 1050.15,195.78 1051.41,198.06 1052.29,200.46" fill="#f3b0b4" stroke="#e99fa4" stroke-width="0.5"/>
<circle cx="1042" cy="203" r="4.84" fill="#df9298"/>
<polygon points="1001.62,223 1000.52,226.04 1000.58,229.5 998.56,232.18 995.98,234.28 993.14,236.03 989.84,236.49 986.6,236.16 983.4,235.67 980.58,234.03 977.64,232.36 975.94,229.44 975.54,226.12 974.19,223 974.84,219.71 975.97,216.58 977.82,213.81 980.67,212.09 983.24,209.92 986.52,209.14 989.85,209.41 993.09,210.1 996.03,211.65 998.13,214.21 1000.36,216.62 1000.6,219.94" fill="#f5a3a9" stroke="#e38d94" stroke-width="0.6"/>
<circle cx="988.2" cy="223" r="10.45" fill="#f7acb1" opacity="0.7"/>
<circle cx="988.2" cy="224" r="6.03" fill="#d3767d"/>
<polygon points="1050.37,223.5 1050.17,226.65 1048.46,229.3 1047.12,232.11 1045.01,234.53 1042.14,236.01 1038.94,236.22 1035.73,237.24 1032.63,236.07 1030.04,234.17 1027.35,232.41 1025.62,229.68 1024.54,226.67 1024.36,223.5 1023.88,220.17 1025.53,217.27 1027.3,214.55 1029.69,212.32 1032.47,210.51 1035.89,211.08 1039.01,210.23 1042.2,210.83 1044.7,212.93 1047.17,214.84 1048.51,217.67 1049.79,220.45" fill="#f5a3a9" stroke="#e38d94" stroke-width="0.6"/>
<circle cx="1037.4" cy="223.5" r="10.3" fill="#f7acb1" opacity="0.7"/>
<circle cx="1033.9" cy="224" r="5.94" fill="#d3767d"/>
<polygon points="1026.61,238.6 1025.79,241.8 1024.86,244.93 1023.75,248.3 1020.8,250.19 1017.77,251.7 1014.57,253.21 1011.1,252.6 1007.57,252.4 1004.73,250.3 1001.96,248.2 1000.98,244.8 999.06,241.99 998.4,238.6 999.89,235.42 999.82,231.79 1002.71,229.66 1004.87,227.11 1008.02,225.99 1011.11,224.71 1014.51,224.53 1017.52,226.15 1021.14,226.51 1023.19,229.4 1025.23,232.07 1026.54,235.21" fill="#f5a3a9" stroke="#e38d94" stroke-width="0.6"/>
<circle cx="1012.8" cy="238.6" r="10.92" fill="#f7acb1" opacity="0.7"/>
<circle cx="1010.8" cy="239.1" r="6.3" fill="#d3767d"/>
<polygon points="1018.18,198.3 1017.64,201.71 1016.95,205.2 1014.8,208.05 1011.9,210.03 1009.1,212.28 1005.52,212.47 1002.13,212.02 998.77,211.57 995.92,209.71 993.28,207.62 990.51,205.28 989.8,201.75 988.56,198.3 989.24,194.71 991.51,191.85 992.28,188.1 995.1,185.7 998.87,185.29 1001.96,183.16 1005.55,183.92 1008.96,184.68 1012.53,185.66 1014.42,188.89 1016.76,191.5 1018.66,194.64" fill="#f5a3a9" stroke="#e38d94" stroke-width="0.6"/>
<circle cx="1003.8" cy="198.3" r="11.39" fill="#f7acb1" opacity="0.7"/>
<circle cx="1004.8" cy="199.8" r="6.57" fill="#d3767d"/>
<polygon points="1044.84,197.2 1044.05,200.49 1043.56,203.95 1041.39,206.67 1038.63,208.69 1035.39,209.56 1032.39,211.09 1029.04,210.83 1025.97,209.68 1023.25,208 1020.34,206.38 1018.99,203.35 1017.39,200.48 1016.65,197.2 1017.37,193.91 1018.8,190.95 1020.28,187.97 1022.93,185.94 1025.66,183.9 1029.03,183.45 1032.45,182.75 1035.84,183.65 1038.74,185.55 1040.73,188.31 1042.4,191.06 1044.68,193.75" fill="#f5a3a9" stroke="#e38d94" stroke-width="0.6"/>
<circle cx="1030.7" cy="197.2" r="10.76" fill="#f7acb1" opacity="0.7"/>
<circle cx="1031.7" cy="197.7" r="6.21" fill="#d3767d"/>
<polygon points="1031.67,218.5 1030.96,222.14 1029.28,225.36 1027.15,228.2 1024.89,231.1 1021.56,232.63 1018.03,233.54 1014.37,233.61 1010.73,232.92 1007.97,230.42 1005.28,228.17 1002.22,225.84 1000.97,222.25 1000.58,218.5 1002.37,215.09 1003.56,211.87 1005.26,208.8 1007.75,206.26 1010.81,204.28 1014.47,204.26 1018.02,203.54 1021.27,205.13 1024.33,206.72 1027.65,208.36 1029.56,211.49 1030.97,214.86" fill="#f5a3a9" stroke="#e38d94" stroke-width="0.6"/>
<circle cx="1016.2" cy="218.5" r="11.7" fill="#f7acb1" opacity="0.7"/>
<circle cx="1017.2" cy="219" r="6.75" fill="#d3767d"/>
</g>
<g transform="translate(0.6,323.3)">
<polygon points="1012.22,178.2 1011.99,181.3 1010.54,184.05 1008.96,186.67 1006.98,189.19 1004.18,190.81 1000.89,190.5 997.9,190.57 994.63,190.77 991.91,189.04 989.38,187.08 988.25,184.05 986.88,181.29 986.75,178.2 986.35,174.98 988.06,172.25 989.5,169.43 991.62,166.93 994.88,166.28 997.82,165.23 1001.01,164.95 1004.22,165.48 1006.73,167.59 1008.99,169.7 1010.4,172.43 1012.54,174.96" fill="#fbdcdd" opacity="0.85"/>
<circle cx="999.4" cy="178.2" r="5.46" fill="#f3c3c6" opacity="0.8"/>
<polygon points="1041.52,175.9 1041.18,178.75 1040.75,181.75 1038.94,184.18 1036.85,186.4 1033.93,187.33 1031.15,188.68 1028.16,187.73 1025.31,187.22 1022.37,186.37 1020.67,183.81 1018.77,181.58 1017.16,178.97 1016.83,175.9 1017.75,172.98 1018.97,170.32 1020.39,167.74 1022.32,165.36 1025.23,164.38 1028.16,164.01 1031.14,163.21 1034.07,164.12 1037.03,165.14 1039.41,167.21 1041.17,169.83 1041.65,172.93" fill="#fbdcdd" opacity="0.85"/>
<circle cx="1029.6" cy="175.9" r="5.25" fill="#f3c3c6" opacity="0.8"/>
<polygon points="1058.28,190.5 1057.33,193.19 1056.38,195.74 1054.91,198.04 1053.25,200.42 1050.66,201.72 1047.75,201.6 1045.03,201.74 1042.38,201.09 1039.97,199.82 1037.89,198.04 1036.34,195.78 1035.61,193.16 1034.82,190.5 1034.87,187.66 1036.17,185.13 1037.47,182.59 1039.82,180.97 1042.47,180.13 1044.97,178.76 1047.84,178.61 1050.38,180.01 1052.59,181.53 1055.02,182.86 1056.63,185.13 1057.65,187.73" fill="#fbdcdd" opacity="0.85"/>
<circle cx="1046.4" cy="190.5" r="4.83" fill="#f3c3c6" opacity="0.8"/>
<polygon points="990.09,195 989.35,197.8 988.52,200.52 986.2,202.26 984.57,204.51 982.21,206.09 979.32,205.89 976.68,205.89 973.82,206.03 971.18,204.88 969.79,202.28 967.67,200.42 967.27,197.64 966.19,195 966.65,192.2 968.1,189.81 969.66,187.61 971.28,185.26 973.91,184.22 976.57,183.25 979.37,183.72 982.01,184.44 984.87,185.05 986.77,187.23 988.18,189.66 989.21,192.24" fill="#fbdcdd" opacity="0.85"/>
<circle cx="978" cy="195" r="4.83" fill="#f3c3c6" opacity="0.8"/>
<polygon points="984.87,224 984.52,226.69 983.78,229.35 981.75,231.22 980.07,233.38 977.57,234.47 974.98,235.34 972.23,235.29 969.56,234.66 967.08,233.44 964.95,231.66 963.71,229.19 962.89,226.64 962.35,224 962.56,221.28 963.94,218.93 965.44,216.77 967.59,215.3 969.6,213.44 972.2,212.49 974.91,213.23 977.36,214.09 979.65,215.24 981.77,216.77 983.12,219 984.83,221.23" fill="#fbdcdd" opacity="0.85"/>
<circle cx="973.6" cy="224" r="4.62" fill="#f3c3c6" opacity="0.8"/>
<polygon points="994.47,243 994.46,245.58 993.33,247.9 992.37,250.41 990.44,252.33 987.76,252.92 985.26,253.39 982.68,253.87 980.06,253.38 977.47,252.46 976.19,249.92 974.68,247.89 973.69,245.54 973.34,243 973.63,240.44 974.03,237.77 975.68,235.63 977.94,234.22 980.23,233.07 982.71,232.34 985.28,232.47 988.01,232.42 990.12,234.13 992.28,235.67 994.08,237.71 994.66,240.37" fill="#fbdcdd" opacity="0.85"/>
<circle cx="984" cy="243" r="4.62" fill="#f3c3c6" opacity="0.8"/>
<polygon points="1030.57,257.2 1031.05,260.32 1029.97,263.27 1027.59,265.35 1025.54,267.54 1023.06,269.48 1019.9,269.59 1016.94,269.23 1014.19,268.31 1010.95,267.99 1008.73,265.76 1007.47,262.94 1006.23,260.2 1005.88,257.2 1006.56,254.28 1006.73,251.08 1008.88,248.77 1011.5,247.21 1014.21,246.14 1016.9,244.83 1019.89,244.97 1022.98,245.13 1025.67,246.67 1027.87,248.81 1029.05,251.61 1030.08,254.32" fill="#fbdcdd" opacity="0.85"/>
<circle cx="1018.4" cy="257.2" r="5.25" fill="#f3c3c6" opacity="0.8"/>
<polygon points="1053.78,244.5 1053.4,247.06 1053.14,249.82 1051.25,251.81 1049.34,253.69 1047.11,255.34 1044.29,255.14 1041.67,255.46 1039.25,254.39 1036.57,253.82 1035.22,251.39 1032.92,249.79 1031.91,247.23 1031.61,244.5 1032.81,241.99 1033.51,239.52 1034.57,237.03 1037.03,235.85 1039.11,234.24 1041.68,233.62 1044.39,233.03 1046.94,234.12 1049.49,235.09 1051.06,237.36 1053.05,239.23 1053.58,241.89" fill="#fbdcdd" opacity="0.85"/>
<circle cx="1043" cy="244.5" r="4.62" fill="#f3c3c6" opacity="0.8"/>
<polygon points="1064.41,206 1063.35,208.06 1063.26,210.33 1061.52,211.78 1060.14,213.44 1058.2,214.44 1056.04,214.6 1053.88,215.26 1051.87,214.24 1049.99,213.25 1048.58,211.69 1047.2,210.09 1046.29,208.15 1045.79,206 1046.4,203.88 1046.87,201.73 1048.56,200.29 1049.95,198.68 1051.82,197.62 1053.86,196.61 1056.12,196.74 1058.25,197.44 1059.84,198.99 1061.65,200.11 1063.15,201.72 1063.49,203.91" fill="#fbdcdd" opacity="0.85"/>
<circle cx="1055" cy="206" r="3.78" fill="#f3c3c6" opacity="0.8"/>
<polygon points="1001.06,254 1000.7,256.14 999.54,257.96 999.1,260.29 997.28,261.65 995.09,262.14 993.1,263.05 990.94,262.73 988.85,262.3 986.87,261.44 985.41,259.84 984.17,258.11 983.37,256.13 982.83,254 983.5,251.9 984.29,249.96 985.09,247.88 986.98,246.73 988.65,245.17 990.91,245 993.11,244.85 995.13,245.74 997.3,246.33 998.43,248.3 999.65,249.98 1000.35,251.94" fill="#fbdcdd" opacity="0.85"/>
<circle cx="992" cy="254" r="3.78" fill="#f3c3c6" opacity="0.8"/>
<polygon points="1062.68,232 1062.44,234.2 1061.19,236.04 1060.16,237.9 1058.8,239.68 1056.72,240.5 1054.54,240.53 1052.45,240.67 1050.43,240.1 1048.6,239.1 1046.83,237.91 1045.91,235.99 1044.36,234.25 1044.57,232 1044.75,229.84 1045.4,227.75 1046.57,225.86 1048.21,224.33 1050.35,223.69 1052.44,223.23 1054.57,223.15 1056.52,224.03 1058.56,224.67 1060.38,225.9 1061.89,227.6 1062.52,229.78" fill="#fbdcdd" opacity="0.85"/>
<circle cx="1053.5" cy="232" r="3.78" fill="#f3c3c6" opacity="0.8"/>
<polygon points="1021.16,173 1020.84,175.18 1019.55,176.96 1018.61,178.86 1017.02,180.28 1015.24,181.55 1013.04,181.55 1010.93,181.81 1008.81,181.42 1006.73,180.64 1005.02,179.18 1003.93,177.23 1003.59,175.07 1002.74,173 1002.87,170.75 1003.99,168.8 1005.37,167.13 1006.89,165.59 1008.93,164.92 1010.89,163.86 1013.14,163.59 1015.2,164.57 1017.23,165.42 1018.99,166.81 1019.7,168.96 1021.17,170.74" fill="#fbdcdd" opacity="0.85"/>
<circle cx="1012" cy="173" r="3.78" fill="#f3c3c6" opacity="0.8"/>
<polygon points="1020.18,182.5 1019.2,185.51 1017.98,188.26 1016.46,190.88 1014.45,193.29 1011.71,194.92 1008.54,195.16 1005.36,196.01 1002.46,194.47 999.65,193.16 997.67,190.76 994.89,188.86 994.88,185.49 993.42,182.5 994.32,179.37 995.41,176.42 997.2,173.82 999.81,172.08 1002.18,169.8 1005.35,168.9 1008.62,169.14 1011.66,170.21 1014.08,172.25 1017.08,173.57 1018.24,176.6 1020.17,179.25" fill="#f3b0b4" stroke="#e99fa4" stroke-width="0.5"/>
<circle cx="1007" cy="182.5" r="5.72" fill="#df9298"/>
<polygon points="996.16,201 996.25,203.9 995.51,206.78 993.17,208.68 991.35,210.93 988.56,211.7 985.87,212.3 983.1,212.49 980.02,212.82 977.35,211.35 975.36,209.1 974.1,206.46 972.63,203.93 972.19,201 973,198.17 973.77,195.37 975.22,192.78 978.05,191.65 980.39,190.15 983.06,189.13 985.89,189.56 988.7,189.92 991.37,191.05 993.16,193.33 995.15,195.41 995.85,198.2" fill="#f3b0b4" stroke="#e99fa4" stroke-width="0.5"/>
<circle cx="984.5" cy="201" r="5.28" fill="#df9298"/>
<polygon points="1063.59,219.6 1062.91,222.54 1062.24,225.5 1059.88,227.47 1058.23,230.08 1055.26,230.83 1052.58,232.64 1049.48,232.15 1046.58,231.25 1043.97,229.79 1041.52,228 1039.7,225.53 1038.52,222.68 1038.15,219.6 1038.88,216.61 1039.33,213.47 1041.3,211 1043.62,208.91 1046.61,208.03 1049.5,207.28 1052.52,207.1 1055.63,207.39 1058.12,209.28 1060.38,211.29 1061.99,213.83 1063.68,216.48" fill="#f3b0b4" stroke="#e99fa4" stroke-width="0.5"/>
<circle cx="1051" cy="219.6" r="5.5" fill="#df9298"/>
<polygon points="1046.75,241 1046.04,243.84 1045.84,246.95 1044.27,249.65 1041.78,251.55 1038.98,252.81 1036.05,253.75 1033.03,253.14 1030.02,252.81 1027.74,250.8 1025.53,248.95 1023.5,246.78 1022.36,243.99 1022.14,241 1022.96,238.16 1023.19,235.07 1025.12,232.69 1027.6,231.01 1030.16,229.56 1033.01,228.73 1035.96,228.95 1038.72,229.87 1041.92,230.25 1044.34,232.29 1045.77,235.09 1047.13,237.89" fill="#f3b0b4" stroke="#e99fa4" stroke-width="0.5"/>
<circle cx="1034.5" cy="241" r="5.5" fill="#df9298"/>
<polygon points="1007.89,242 1008.04,245.09 1006.23,247.63 1005.11,250.51 1002.65,252.36 1000.13,254.21 996.94,253.86 993.94,254.81 991.25,253.2 988.37,252.33 985.68,250.7 985.04,247.49 983.71,244.91 983.28,242 983.6,239.07 984.96,236.47 985.74,233.35 988.15,231.36 991.12,230.44 994.02,229.79 997.02,229.47 999.71,230.9 1002.23,232.24 1005.27,233.35 1006.33,236.31 1007.63,239.01" fill="#f3b0b4" stroke="#e99fa4" stroke-width="0.5"/>
<circle cx="995.5" cy="242" r="5.5" fill="#df9298"/>
<polygon points="1053.53,203 1053.24,205.77 1051.71,208.1 1049.97,210.06 1048.11,211.85 1046.08,213.76 1043.38,214.4 1040.72,213.55 1037.95,213.67 1035.85,211.91 1033.79,210.27 1032.61,207.93 1030.87,205.74 1030.4,203 1031.67,200.45 1032.12,197.81 1034.05,195.95 1035.49,193.57 1038.29,193.22 1040.73,192.55 1043.36,191.81 1045.82,192.93 1048.52,193.55 1050.57,195.41 1051.97,197.77 1052.25,200.47" fill="#f3b0b4" stroke="#e99fa4" stroke-width="0.5"/>
<circle cx="1042" cy="203" r="4.84" fill="#df9298"/>
<polygon points="1001.89,223 1001.84,226.36 999.99,229.19 997.77,231.47 995.58,233.69 992.85,235.26 989.85,236.61 986.64,235.86 983.62,235.09 980.81,233.71 977.99,232.05 975.96,229.43 975.37,226.16 974.56,223 974.64,219.66 976.22,216.71 978.47,214.38 980.75,212.21 983.23,209.88 986.56,209.45 989.78,210.02 993.02,210.28 995.47,212.47 998.76,213.64 999.99,216.81 1001.25,219.78" fill="#f5a3a9" stroke="#e38d94" stroke-width="0.6"/>
<circle cx="988.2" cy="223" r="10.45" fill="#f7acb1" opacity="0.7"/>
<circle cx="988.2" cy="224" r="6.03" fill="#d3767d"/>
<polygon points="1050.64,223.5 1049.58,226.5 1049.22,229.7 1047.05,232.05 1044.69,234.07 1042.24,236.25 1038.92,236.01 1035.85,236.29 1032.59,236.19 1030.11,234.06 1027.76,232.04 1025.65,229.67 1025.03,226.55 1023.62,223.5 1023.9,220.17 1026.31,217.68 1027.56,214.78 1029.69,212.34 1032.78,211.31 1035.73,209.78 1038.99,210.4 1041.92,211.59 1044.94,212.57 1047.44,214.61 1048.91,217.46 1050.44,220.29" fill="#f5a3a9" stroke="#e38d94" stroke-width="0.6"/>
<circle cx="1037.4" cy="223.5" r="10.3" fill="#f7acb1" opacity="0.7"/>
<circle cx="1033.9" cy="224" r="5.94" fill="#d3767d"/>
<polygon points="1027.24,238.6 1026.42,241.96 1025.2,245.11 1023.68,248.24 1020.91,250.36 1017.78,251.72 1014.57,253.19 1011.17,252 1007.68,252.09 1005.14,249.7 1002.2,247.99 1000.76,244.92 999.3,241.93 998.38,238.6 998.78,235.14 1000.01,231.89 1002.63,229.59 1004.86,227.09 1007.99,225.91 1011.1,224.58 1014.49,224.7 1017.51,226.18 1020.84,226.96 1023.53,229.1 1025.3,232.04 1026.95,235.11" fill="#f5a3a9" stroke="#e38d94" stroke-width="0.6"/>
<circle cx="1012.8" cy="238.6" r="10.92" fill="#f7acb1" opacity="0.7"/>
<circle cx="1010.8" cy="239.1" r="6.3" fill="#d3767d"/>
<polygon points="1017.89,198.3 1017.43,201.66 1016.04,204.73 1014.72,207.98 1012.03,210.23 1008.94,211.86 1005.51,212.42 1001.98,213.27 998.87,211.31 995.13,210.85 992.79,208.05 990.81,205.12 989.17,201.91 989.62,198.3 990.18,194.94 991.14,191.66 993.42,189.11 995.68,186.53 998.55,184.47 1002.04,183.77 1005.51,184.18 1009.03,184.52 1011.72,186.83 1015.11,188.28 1016.26,191.76 1017.59,194.9" fill="#f5a3a9" stroke="#e38d94" stroke-width="0.6"/>
<circle cx="1003.8" cy="198.3" r="11.39" fill="#f7acb1" opacity="0.7"/>
<circle cx="1004.8" cy="199.8" r="6.57" fill="#d3767d"/>
<polygon points="1043.98,197.2 1044.38,200.57 1043.36,203.85 1041.36,206.64 1038.16,208.01 1035.55,209.98 1032.34,210.7 1029.09,210.47 1025.55,210.77 1023.26,207.99 1020.38,206.34 1018.13,203.8 1016.58,200.68 1017.44,197.2 1017.37,193.91 1018.15,190.61 1020.89,188.51 1023.08,186.17 1025.6,183.74 1029.1,184.04 1032.34,183.66 1035.48,184.58 1038.47,185.94 1040.55,188.48 1042.29,191.12 1044.83,193.72" fill="#f5a3a9" stroke="#e38d94" stroke-width="0.6"/>
<circle cx="1030.7" cy="197.2" r="10.76" fill="#f7acb1" opacity="0.7"/>
<circle cx="1031.7" cy="197.7" r="6.21" fill="#d3767d"/>
<polygon points="1031.63,218.5 1031.14,222.18 1029.09,225.26 1027.12,228.18 1024.77,230.92 1021.37,232.13 1018,233.33 1014.31,234.1 1010.96,232.32 1007.83,230.62 1004.38,228.97 1002.76,225.56 1002.37,221.91 1001.36,218.5 1001.4,214.85 1003.56,211.87 1005.17,208.72 1007.5,205.89 1010.67,203.91 1014.37,203.46 1018.08,202.98 1021.5,204.53 1024.62,206.3 1027.85,208.18 1029.31,211.62 1031.21,214.8" fill="#f5a3a9" stroke="#e38d94" stroke-width="0.6"/>
<circle cx="1016.2" cy="218.5" r="11.7" fill="#f7acb1" opacity="0.7"/>
<circle cx="1017.2" cy="219" r="6.75" fill="#d3767d"/>
</g>
<polygon points="1177.81,228.6 1177.64,231.52 1176.4,234.16 1175.13,236.87 1172.58,238.43 1170.05,239.82 1167.25,240.52 1164.31,240.87 1161.5,239.95 1158.8,238.75 1156.01,237.27 1154.6,234.48 1153.28,231.69 1153.8,228.6 1153.92,225.67 1155.34,223.11 1156.32,220.2 1158.86,218.55 1161.51,217.29 1164.38,216.94 1167.24,216.72 1170.08,217.31 1172.76,218.52 1175.51,219.99 1177.04,222.7 1177.53,225.71" fill="#f5a3a9" stroke="#e38d94" stroke-width="0.6"/>
<circle cx="1165.8" cy="228.6" r="9.67" fill="#f7acb1" opacity="0.7"/>
<circle cx="1165.3" cy="229.1" r="5.58" fill="#d3767d"/>
<polygon points="1164.61,214 1163.98,216.85 1163.91,220.04 1161.54,222.1 1159.65,224.5 1156.91,225.88 1153.96,226.86 1150.98,225.66 1148.09,225.37 1145.45,224.08 1143.54,221.85 1140.96,220 1140.59,216.91 1139.63,214 1140.33,211.03 1141.96,208.52 1143.23,205.87 1145.56,204.09 1148.22,202.99 1150.96,202.16 1153.91,201.56 1156.57,203 1159.3,204.01 1161.6,205.85 1163.43,208.21 1163.96,211.15" fill="#f5a3a9" stroke="#e38d94" stroke-width="0.6"/>
<circle cx="1152.4" cy="214" r="9.67" fill="#f7acb1" opacity="0.7"/>
<circle cx="1153.4" cy="214.5" r="5.58" fill="#d3767d"/>
<polygon points="1182.52,486.4 1181.78,488.61 1181.42,490.92 1180.04,492.81 1177.99,493.91 1176.06,494.99 1173.92,495.6 1171.63,496.05 1169.47,495.19 1167.47,494.12 1165.4,492.95 1164.64,490.68 1163.79,488.62 1163.46,486.4 1163.86,484.2 1164.81,482.21 1166.06,480.43 1167.33,478.47 1169.41,477.45 1171.62,476.65 1174.01,476.48 1176.09,477.71 1178.3,478.44 1180.24,479.81 1180.95,482.12 1182.22,484.08" fill="#fbdcdd" opacity="0.85"/>
<circle cx="1172.8" cy="486.4" r="3.99" fill="#f3c3c6" opacity="0.8"/>
<polygon points="1207.97,489.1 1207.99,491.49 1207.05,493.69 1205.2,495.22 1203.78,497.03 1201.52,497.58 1199.44,498.46 1197.17,498.42 1195.09,497.55 1192.97,496.82 1191.32,495.28 1189.89,493.51 1189.3,491.32 1189.16,489.1 1189.18,486.85 1189.91,484.7 1191.45,483.03 1192.81,481.14 1195.03,480.47 1197.21,480.09 1199.43,479.83 1201.64,480.29 1203.49,481.58 1205.48,482.74 1206.9,484.59 1207.58,486.81" fill="#fbdcdd" opacity="0.85"/>
<circle cx="1198.3" cy="489.1" r="3.99" fill="#f3c3c6" opacity="0.8"/>
<polygon points="1161.61,496.4 1160.64,498.55 1160.21,500.76 1158.9,502.61 1157.04,503.84 1155.23,505.19 1152.99,505.37 1150.76,505.83 1148.5,505.37 1146.52,504.19 1144.93,502.58 1143.72,500.7 1143.16,498.55 1142.56,496.4 1142.28,494.03 1143.43,491.95 1144.98,490.27 1146.4,488.44 1148.65,487.82 1150.76,487 1153.06,486.85 1155.44,487.07 1157.22,488.7 1159.07,490.05 1160.72,491.77 1161.4,494.06" fill="#fbdcdd" opacity="0.85"/>
<circle cx="1151.9" cy="496.4" r="3.99" fill="#f3c3c6" opacity="0.8"/>
<polygon points="1148.23,517.3 1147.95,519.48 1146.99,521.44 1145.77,523.21 1144.09,524.52 1142.41,526.02 1140.23,526.61 1138.03,526.12 1135.76,526.09 1134.25,524.33 1132.63,523.03 1131.12,521.49 1130.55,519.41 1130.24,517.3 1129.9,515.03 1131.44,513.28 1132.59,511.53 1134.14,510.11 1135.85,508.72 1138.05,508.63 1140.13,508.86 1142.31,508.84 1144.15,509.98 1145.64,511.5 1147.06,513.12 1147.98,515.11" fill="#fbdcdd" opacity="0.85"/>
<circle cx="1139.1" cy="517.3" r="3.78" fill="#f3c3c6" opacity="0.8"/>
<polygon points="1224.25,509.1 1224.05,511.4 1223.17,513.54 1222.07,515.63 1220.37,517.32 1218.01,517.82 1215.83,518.37 1213.51,518.93 1211.4,517.8 1209.18,517.1 1207.44,515.54 1206.12,513.61 1205.01,511.49 1204.86,509.1 1205.82,506.91 1206.18,504.63 1207.6,502.81 1209.27,501.23 1211.38,500.34 1213.58,499.89 1215.88,499.41 1218.08,500.18 1219.94,501.51 1221.61,502.97 1222.95,504.77 1223.6,506.91" fill="#fbdcdd" opacity="0.85"/>
<circle cx="1214.7" cy="509.1" r="3.99" fill="#f3c3c6" opacity="0.8"/>
<polygon points="1228.71,530.1 1228.04,532.28 1227.21,534.3 1225.97,536.1 1224.36,537.58 1222.64,539.18 1220.3,539.13 1218.06,539.48 1215.73,539.25 1213.81,537.9 1212.35,536.17 1210.45,534.69 1209.6,532.47 1210.17,530.1 1210.23,527.89 1210.78,525.68 1211.86,523.59 1213.87,522.37 1215.75,521.01 1218.09,520.93 1220.37,520.45 1222.5,521.39 1224.5,522.42 1226.51,523.62 1227.93,525.52 1228.76,527.74" fill="#fbdcdd" opacity="0.85"/>
<circle cx="1219.2" cy="530.1" r="3.99" fill="#f3c3c6" opacity="0.8"/>
<polygon points="1221.97,550.1 1221.56,552.24 1221.05,554.38 1219.73,556.15 1218.2,557.78 1216.2,558.79 1213.94,558.67 1211.83,558.91 1209.65,558.67 1207.94,557.29 1206.4,555.86 1205.36,554.06 1204.08,552.27 1203.46,550.1 1203.71,547.83 1205.25,546.09 1206.02,544.01 1207.83,542.76 1209.66,541.56 1211.83,541.27 1214.04,540.74 1216.26,541.23 1217.76,543.06 1219.79,543.99 1220.53,546.09 1221.2,548.05" fill="#fbdcdd" opacity="0.85"/>
<circle cx="1212.9" cy="550.1" r="3.78" fill="#f3c3c6" opacity="0.8"/>
<polygon points="1186.6,567.4 1186.76,569.49 1186.24,571.56 1184.4,572.8 1183.04,574.26 1181.16,574.93 1179.33,575.88 1177.28,575.82 1175.33,575.24 1173.57,574.25 1171.73,573.22 1170.49,571.5 1170.24,569.39 1169.9,567.4 1169.94,565.34 1170.55,563.33 1171.6,561.47 1173.53,560.49 1175.22,559.28 1177.27,558.92 1179.36,558.68 1181.2,559.76 1182.96,560.65 1184.39,562.01 1186.19,563.26 1186.33,565.42" fill="#fbdcdd" opacity="0.85"/>
<circle cx="1178.3" cy="567.4" r="3.57" fill="#f3c3c6" opacity="0.8"/>
<polygon points="1203.19,562.8 1202.61,564.75 1202.08,566.67 1200.73,568.14 1199.56,569.85 1197.6,570.44 1195.74,571.35 1193.7,571.03 1191.78,570.51 1189.88,569.78 1188.43,568.35 1187.37,566.65 1186.85,564.73 1186.61,562.8 1186.09,560.68 1187.33,558.93 1188.63,557.42 1190.04,556.05 1191.69,554.87 1193.62,553.9 1195.69,554.64 1197.84,554.53 1199.52,555.82 1201,557.22 1202.48,558.72 1202.86,560.79" fill="#fbdcdd" opacity="0.85"/>
<circle cx="1194.7" cy="562.8" r="3.57" fill="#f3c3c6" opacity="0.8"/>
<polygon points="1194.09,487 1194.3,489.05 1193.66,491.02 1192.45,492.71 1190.71,493.82 1189.16,495.33 1187.07,495.78 1184.92,495.9 1183,494.9 1180.99,494.25 1179.48,492.78 1178.74,490.81 1178.18,488.93 1177.81,487 1178.09,485.05 1178.83,483.23 1179.74,481.45 1181.04,479.81 1183.05,479.22 1184.97,478.55 1186.97,479.02 1188.92,479.31 1191.07,479.65 1192.02,481.67 1193.55,483.04 1194.53,484.9" fill="#fbdcdd" opacity="0.85"/>
<circle cx="1186" cy="487" r="3.57" fill="#f3c3c6" opacity="0.8"/>
<polygon points="1170.26,489 1169.97,490.96 1169.01,492.68 1168.19,494.48 1166.71,495.82 1164.92,496.7 1163.02,497.37 1161.08,496.59 1159.02,496.85 1157.5,495.51 1155.88,494.42 1155.11,492.62 1153.88,491 1154.42,489 1154.17,487.07 1155.13,485.39 1156.09,483.76 1157.52,482.51 1159.11,481.39 1161,480.79 1162.95,481.18 1164.88,481.41 1166.47,482.52 1167.84,483.82 1169.4,485.12 1169.62,487.12" fill="#fbdcdd" opacity="0.85"/>
<circle cx="1162" cy="489" r="3.36" fill="#f3c3c6" opacity="0.8"/>
<polygon points="1162.83,511 1162.81,513.47 1162.34,516.01 1160.41,517.74 1158.92,519.87 1156.54,520.87 1154.09,521.63 1151.58,521.05 1149.24,520.39 1147.07,519.3 1145.07,517.85 1143.57,515.84 1143.16,513.38 1142.3,511 1142.71,508.51 1143.69,506.22 1144.91,504.01 1146.54,501.93 1149.2,501.5 1151.48,500.14 1154.04,500.78 1156.63,500.91 1158.51,502.73 1161.08,503.66 1162.03,506.16 1163.51,508.36" fill="#f3b0b4" stroke="#e99fa4" stroke-width="0.5"/>
<circle cx="1152.8" cy="511" r="4.62" fill="#df9298"/>
<polygon points="1173.88,502.8 1173.79,505.29 1173.21,507.79 1171.28,509.52 1169.52,511.23 1167.5,512.81 1165.03,513.74 1162.46,513.02 1160.11,512.28 1157.83,511.31 1155.42,510.14 1154.76,507.49 1153.35,505.35 1153.34,502.8 1153.34,500.25 1154.7,498.07 1155.74,495.75 1157.48,493.79 1159.83,492.6 1162.42,492.23 1164.97,492.37 1167.45,492.91 1169.41,494.53 1171.85,495.58 1173.19,497.82 1173.84,500.3" fill="#f3b0b4" stroke="#e99fa4" stroke-width="0.5"/>
<circle cx="1163.7" cy="502.8" r="4.62" fill="#df9298"/>
<polygon points="1195.39,497.3 1194.8,499.79 1193.88,502.12 1192.33,504.06 1190.73,506.04 1188.45,507.2 1185.97,507.74 1183.5,507.19 1180.92,507.26 1178.77,505.89 1176.76,504.33 1175.31,502.23 1174.02,499.93 1174.6,497.3 1174.54,494.8 1174.9,492.16 1176.63,490.15 1178.86,488.84 1180.88,487.23 1183.37,486.32 1185.95,486.99 1188.57,487.09 1190.42,489.01 1192.98,489.96 1193.99,492.43 1194.6,494.86" fill="#f3b0b4" stroke="#e99fa4" stroke-width="0.5"/>
<circle cx="1184.7" cy="497.3" r="4.62" fill="#df9298"/>
<polygon points="1207.39,503.7 1206.86,506.25 1206.24,508.81 1204.64,510.91 1202.66,512.62 1200.23,513.53 1197.83,514.69 1195.29,513.62 1192.63,513.92 1190.4,512.54 1188.86,510.47 1186.89,508.74 1186.36,506.2 1185.96,503.7 1185.9,501.09 1187.51,498.98 1188.83,496.91 1190.44,494.92 1192.95,494.34 1195.23,493.21 1197.81,492.95 1200.22,493.89 1202.3,495.3 1204.62,496.51 1206.16,498.63 1207,501.11" fill="#f3b0b4" stroke="#e99fa4" stroke-width="0.5"/>
<circle cx="1196.5" cy="503.7" r="4.62" fill="#df9298"/>
<polygon points="1215.26,524.6 1215.35,527.22 1214.3,529.64 1212.26,531.3 1210.58,533.11 1208.26,533.99 1205.9,534.49 1203.46,534.85 1200.83,534.81 1198.52,533.56 1197.17,531.27 1195.73,529.31 1194.63,527.08 1193.8,524.6 1194.37,522.05 1194.99,519.5 1197.21,517.97 1198.42,515.49 1201.1,515.1 1203.42,514.03 1206.02,513.74 1208.52,514.54 1210.47,516.25 1212.7,517.51 1213.93,519.76 1214.35,522.22" fill="#f3b0b4" stroke="#e99fa4" stroke-width="0.5"/>
<circle cx="1204.7" cy="524.6" r="4.62" fill="#df9298"/>
<polygon points="1215.42,541.9 1215.11,544.24 1214.58,546.61 1212.9,548.37 1211.35,550.22 1209.22,551.45 1206.76,551.48 1204.44,551.42 1201.98,551.45 1199.94,550.1 1198.42,548.26 1197.12,546.35 1195.42,544.41 1195.48,541.9 1196.04,539.54 1197.04,537.41 1197.71,534.91 1199.8,533.5 1201.96,532.31 1204.41,532.13 1206.78,532.18 1209.11,532.64 1211.06,533.99 1213.19,535.17 1214.38,537.29 1215.65,539.42" fill="#f3b0b4" stroke="#e99fa4" stroke-width="0.5"/>
<circle cx="1205.6" cy="541.9" r="4.4" fill="#df9298"/>
<polygon points="1209.1,554.7 1208.86,557.08 1208.06,559.35 1207.05,561.65 1204.78,562.79 1202.83,564.26 1200.37,564.34 1197.98,564.71 1195.74,563.83 1193.29,563.27 1191.89,561.18 1190,559.53 1189.3,557.14 1189.25,554.7 1189.03,552.19 1190.45,550.11 1191.51,547.89 1193.46,546.38 1195.67,545.4 1198.05,545.25 1200.39,544.86 1202.66,545.57 1204.84,546.52 1207.06,547.74 1207.85,550.16 1209.12,552.26" fill="#f3b0b4" stroke="#e99fa4" stroke-width="0.5"/>
<circle cx="1199.2" cy="554.7" r="4.4" fill="#df9298"/>
<polygon points="1192.09,558.3 1191.34,560.63 1190.67,562.9 1189.08,564.66 1187.83,566.89 1185.35,567.39 1183.09,568.14 1180.72,568.05 1178.23,567.98 1176,566.85 1174.34,565 1173,562.97 1172.62,560.59 1171.46,558.3 1172.63,556.02 1173.18,553.72 1174.52,551.76 1176.08,549.87 1178.29,548.78 1180.72,548.54 1183.16,547.94 1185.62,548.49 1187.28,550.5 1189.49,551.57 1190.72,553.67 1191.46,555.94" fill="#f3b0b4" stroke="#e99fa4" stroke-width="0.5"/>
<circle cx="1181.9" cy="558.3" r="4.4" fill="#df9298"/>
<polygon points="1179.96,559.2 1179.51,561.54 1179.02,563.93 1177.57,565.91 1175.97,567.86 1173.73,569.04 1171.27,569.67 1168.81,569.01 1166.33,568.89 1164.23,567.57 1162.35,565.98 1160.66,564.1 1160.75,561.48 1160.04,559.2 1160.4,556.83 1160.99,554.47 1162.75,552.77 1164.01,550.53 1166.57,550.15 1168.81,549.41 1171.16,549.66 1173.5,549.96 1175.83,550.75 1177.14,552.87 1178.53,554.72 1179.87,556.77" fill="#f3b0b4" stroke="#e99fa4" stroke-width="0.5"/>
<circle cx="1170" cy="559.2" r="4.4" fill="#df9298"/>
<polygon points="1156.54,530.1 1156.37,532.56 1155.01,534.62 1154.14,536.96 1152.22,538.54 1150.05,539.73 1147.55,539.61 1145.2,539.99 1143.04,538.95 1140.49,538.66 1138.55,537.06 1137.16,534.95 1137.2,532.37 1136.56,530.1 1136.65,527.7 1137.51,525.44 1139.23,523.75 1140.54,521.61 1142.93,520.95 1145.19,520.16 1147.56,520.58 1149.97,520.68 1151.85,522.21 1153.55,523.77 1155.27,525.45 1155.89,527.76" fill="#f3b0b4" stroke="#e99fa4" stroke-width="0.5"/>
<circle cx="1146.4" cy="530.1" r="4.4" fill="#df9298"/>
<polygon points="1154.01,544.6 1153.14,546.93 1152.47,549.2 1150.82,550.91 1149.2,552.57 1147.23,553.9 1144.91,554.59 1142.5,554.48 1140.02,554.31 1138.27,552.47 1135.93,551.49 1135.18,549.07 1133.49,547.12 1133.67,544.6 1134.09,542.23 1134.74,539.9 1135.92,537.7 1137.73,535.95 1140.19,535.34 1142.56,535.21 1144.86,535.05 1147.37,534.92 1149.53,536.16 1151.36,537.81 1152.22,540.13 1153.44,542.2" fill="#f3b0b4" stroke="#e99fa4" stroke-width="0.5"/>
<circle cx="1143.7" cy="544.6" r="4.4" fill="#df9298"/>
<polygon points="1183.01,499 1182.83,501.18 1182.23,503.32 1181.48,505.62 1179.48,506.94 1177.5,508.22 1175.09,507.96 1172.87,508.34 1170.79,507.47 1168.75,506.61 1167.19,505.03 1165.2,503.62 1164.95,501.23 1164.51,499 1164.62,496.69 1165.23,494.4 1166.54,492.39 1168.56,491.12 1170.63,490.12 1172.8,489.15 1175.13,489.68 1177.29,490.31 1179.54,490.98 1180.92,492.87 1182.29,494.65 1183.15,496.74" fill="#f3b0b4" stroke="#e99fa4" stroke-width="0.5"/>
<circle cx="1174" cy="499" r="4.18" fill="#df9298"/>
<polygon points="1201.48,548.3 1201.08,550.56 1200.34,552.73 1199.05,554.63 1197.08,555.81 1195.43,557.61 1193,557.37 1190.74,557.86 1188.48,557.32 1186.51,556.11 1184.93,554.47 1183.77,552.56 1182.71,550.57 1182.5,548.3 1182.6,546.01 1183.65,543.97 1184.52,541.76 1186.45,540.41 1188.68,539.81 1190.75,538.87 1193.12,538.28 1195.12,539.81 1197.41,540.32 1199.45,541.61 1200.27,543.9 1201.32,545.98" fill="#f5a3a9" stroke="#e38d94" stroke-width="0.6"/>
<circle cx="1191.9" cy="548.3" r="7.49" fill="#f7acb1" opacity="0.7"/>
<circle cx="1191.9" cy="548.3" r="4.32" fill="#d3767d"/>
<polygon points="1188.35,542.8 1187.99,545.19 1187.44,547.6 1186.01,549.63 1183.98,551.02 1181.92,552.33 1179.53,552.94 1177.04,553.21 1174.86,551.87 1172.77,550.82 1170.87,549.38 1169.5,547.42 1168.07,545.32 1168.18,542.8 1168,540.26 1169.37,538.11 1170.85,536.2 1172.39,534.24 1174.85,533.7 1177.01,532.14 1179.57,532.31 1181.85,533.44 1183.98,534.57 1186.2,535.8 1187.62,537.91 1188.36,540.32" fill="#f5a3a9" stroke="#e38d94" stroke-width="0.6"/>
<circle cx="1178.3" cy="542.8" r="7.96" fill="#f7acb1" opacity="0.7"/>
<circle cx="1178.3" cy="543.3" r="4.59" fill="#d3767d"/>
<polygon points="1204.78,532.8 1205.29,535.41 1203.62,537.48 1202.74,539.93 1200.76,541.57 1198.64,543.18 1196,543.48 1193.49,542.77 1190.76,543.18 1188.51,541.77 1186.7,539.89 1185.82,537.46 1184.14,535.4 1184.2,532.8 1184.2,530.21 1184.81,527.61 1186.4,525.45 1188.96,524.48 1190.82,522.58 1193.43,522.35 1196.01,521.99 1198.41,523.02 1200.69,524.13 1202.58,525.82 1203.69,528.08 1204.79,530.31" fill="#f5a3a9" stroke="#e38d94" stroke-width="0.6"/>
<circle cx="1194.7" cy="532.8" r="8.27" fill="#f7acb1" opacity="0.7"/>
<circle cx="1192.9" cy="532.8" r="4.77" fill="#d3767d"/>
<polygon points="1181.46,514.6 1180.44,516.93 1179.65,519.14 1178.92,521.61 1176.9,523.15 1174.64,524.19 1172.18,524.29 1169.82,524.3 1167.46,523.94 1164.92,523.41 1163.31,521.41 1161.55,519.56 1161.41,516.96 1160.9,514.6 1161.06,512.15 1161.63,509.68 1163.68,508.12 1164.97,505.86 1167.39,505.09 1169.83,505 1172.22,504.55 1174.57,505.19 1176.91,506.04 1178.99,507.52 1180.03,509.86 1181.11,512.11" fill="#f5a3a9" stroke="#e38d94" stroke-width="0.6"/>
<circle cx="1171" cy="514.6" r="7.96" fill="#f7acb1" opacity="0.7"/>
<circle cx="1171.5" cy="515.1" r="4.59" fill="#d3767d"/>
<polygon points="1201.47,513.7 1201.61,516.31 1199.98,518.41 1199.15,520.92 1196.8,522.1 1194.79,523.7 1192.24,523.88 1189.74,524.04 1187.38,523.24 1185.08,522.28 1182.99,520.8 1181.59,518.64 1180.83,516.21 1180.31,513.7 1180.32,511.07 1181.76,508.85 1182.99,506.61 1184.99,505 1187.04,503.26 1189.75,503.38 1192.31,502.95 1194.65,504.08 1196.86,505.21 1199.14,506.49 1200.46,508.73 1201.02,511.23" fill="#f5a3a9" stroke="#e38d94" stroke-width="0.6"/>
<circle cx="1191" cy="513.7" r="8.27" fill="#f7acb1" opacity="0.7"/>
<circle cx="1191.5" cy="513.7" r="4.77" fill="#d3767d"/>
<polygon points="1169.62,532.8 1170.16,535.28 1168.84,537.38 1167.76,539.59 1165.74,540.97 1163.69,542.27 1161.31,542.79 1158.83,543.25 1156.39,542.57 1154.45,540.99 1152.63,539.42 1151.51,537.31 1150.12,535.26 1150.54,532.8 1150.6,530.46 1150.91,527.98 1153,526.51 1154.3,524.39 1156.53,523.38 1158.89,522.82 1161.28,523.06 1163.51,523.81 1166.06,524.16 1167.8,525.98 1169.25,528 1169.38,530.51" fill="#f5a3a9" stroke="#e38d94" stroke-width="0.6"/>
<circle cx="1160.1" cy="532.8" r="7.8" fill="#f7acb1" opacity="0.7"/>
<circle cx="1160.1" cy="533.3" r="4.5" fill="#d3767d"/>
<polygon points="1194.14,529.2 1193.15,531.75 1192.22,534.14 1191.07,536.52 1189.12,538.36 1186.54,539.06 1184.16,540.44 1181.46,540.22 1178.73,539.94 1176.26,538.67 1174.39,536.65 1173.21,534.24 1171.59,531.96 1171.54,529.2 1172.37,526.63 1172.68,523.89 1174.36,521.72 1176.71,520.38 1179.01,519.2 1181.54,518.86 1184.13,518.24 1186.59,519.19 1188.91,520.35 1190.81,522.1 1192.15,524.3 1193.46,526.57" fill="#f5a3a9" stroke="#e38d94" stroke-width="0.6"/>
<circle cx="1182.8" cy="529.2" r="8.58" fill="#f7acb1" opacity="0.7"/>
<circle cx="1182.3" cy="529.2" r="4.95" fill="#d3767d"/>
<polygon points="1169.14,552.8 1168.87,555.18 1168.01,557.42 1166.84,559.57 1165.23,561.54 1162.68,561.98 1160.48,563.33 1157.92,563.32 1155.54,562.45 1153.38,561.23 1151.37,559.74 1150.13,557.56 1149.12,555.28 1148.53,552.8 1149,550.29 1150.41,548.19 1151.94,546.37 1153.13,544 1155.64,543.41 1157.93,542.35 1160.39,542.97 1162.8,543.31 1164.91,544.53 1167.03,545.87 1168.67,547.83 1169.11,550.36" fill="#f5a3a9" stroke="#e38d94" stroke-width="0.6"/>
<circle cx="1159.2" cy="552.8" r="7.96" fill="#f7acb1" opacity="0.7"/>
<circle cx="1159.2" cy="552.8" r="4.59" fill="#d3767d"/>
<polygon points="1147.98,555.2 1147.42,557.69 1146.41,559.98 1145.63,562.58 1143.06,563.55 1141.24,565.59 1138.6,565.9 1136.08,565.23 1133.38,565.55 1131.54,563.54 1129.31,562.28 1128.31,559.92 1126.45,557.87 1126.92,555.2 1126.59,552.56 1128.37,550.51 1129.22,548.04 1131.56,546.89 1133.74,545.8 1136.01,544.6 1138.65,544.12 1141.14,545.09 1143.56,546.14 1145.48,547.95 1146.71,550.26 1147.11,552.78" fill="#f5a3a9" stroke="#e38d94" stroke-width="0.6"/>
<circle cx="1137.3" cy="555.2" r="8.27" fill="#f7acb1" opacity="0.7"/>
<circle cx="1136.8" cy="555.7" r="4.77" fill="#d3767d"/>
<polygon points="1131.53,572.9 1130.87,575.21 1130.38,577.56 1128.87,579.42 1127.18,581.13 1124.93,581.94 1122.73,583.05 1120.31,582.74 1117.96,582.24 1116.08,580.75 1114.03,579.52 1112.59,577.58 1111.29,575.42 1111.43,572.9 1112.18,570.6 1112.84,568.35 1114.15,566.39 1115.69,564.49 1117.78,563.1 1120.23,562.45 1122.77,562.48 1125.21,563.11 1127.4,564.35 1129.34,565.95 1129.89,568.5 1131.2,570.51" fill="#f5a3a9" stroke="#e38d94" stroke-width="0.6"/>
<circle cx="1121.5" cy="572.9" r="7.8" fill="#f7acb1" opacity="0.7"/>
<circle cx="1121.5" cy="573.4" r="4.5" fill="#d3767d"/>
<polygon points="1148.5,574.7 1148.31,577.19 1147.34,579.5 1145.93,581.55 1144.27,583.49 1141.65,583.8 1139.43,584.85 1136.91,585.34 1134.77,583.75 1132.65,582.74 1130.26,581.74 1128.71,579.68 1128.81,577.01 1128.53,574.7 1127.94,572.17 1128.98,569.86 1130.55,567.92 1132.35,566.23 1134.48,564.89 1136.93,564.23 1139.36,565.13 1141.65,565.62 1144.18,566.03 1146.23,567.58 1147.56,569.79 1148,572.28" fill="#f5a3a9" stroke="#e38d94" stroke-width="0.6"/>
<circle cx="1138.2" cy="574.7" r="7.96" fill="#f7acb1" opacity="0.7"/>
<circle cx="1137.7" cy="575.2" r="4.59" fill="#d3767d"/>
<polygon points="1171.21,573.8 1170.93,576.25 1169.72,578.38 1169.02,580.9 1166.75,582.14 1164.72,583.62 1162.26,584.15 1159.77,583.94 1157.24,583.71 1155.12,582.32 1153.44,580.49 1151.4,578.84 1151.26,576.2 1151,573.8 1151.18,571.38 1151.81,568.98 1152.97,566.69 1155.2,565.4 1157.42,564.36 1159.73,563.3 1162.22,563.75 1164.7,564.05 1166.75,565.47 1169.11,566.62 1169.89,569.13 1170.8,571.38" fill="#f5a3a9" stroke="#e38d94" stroke-width="0.6"/>
<circle cx="1161" cy="573.8" r="8.11" fill="#f7acb1" opacity="0.7"/>
<circle cx="1160.5" cy="574.3" r="4.68" fill="#d3767d"/>
<g fill="#d97a18"><path d="M163,178 L172,168.5 L181,166.5 L187,171 L189,178 Z"/></g>
<g filter="url(#bMag)" fill="url(#hh)">
<path d="M171.82,81.28 C173.46,80.16 176.89,81.7 178.32,83.57 C179.76,85.44 178.66,91.73 180.42,92.49 C182.17,93.26 185.52,89.55 188.85,88.16 C192.18,86.78 197.22,83.99 200.39,84.19 C203.56,84.38 205.41,86.81 207.89,89.35 C210.36,91.88 211.9,97.73 215.23,99.4 C218.57,101.08 225.2,98.14 227.88,99.38 C230.57,100.61 230.78,103.8 231.35,106.81 C231.92,109.82 231.78,113.62 231.31,117.42 C230.84,121.23 229.84,126.03 228.51,129.62 C227.17,133.21 225.99,136.04 223.3,138.94 C220.61,141.85 216.11,144.71 212.37,147.03 C208.63,149.35 203.73,150.02 200.88,152.86 C198.03,155.7 197.95,161.34 195.26,164.08 C192.57,166.81 188.72,168.17 184.75,169.26 C180.78,170.36 175.36,171.01 171.43,170.62 C167.5,170.23 163.38,168.96 161.18,166.92 C158.99,164.89 160.81,160.01 158.27,158.41 C155.73,156.81 147.51,158.59 145.92,157.3 C144.34,156.01 146.7,152.87 148.75,150.66 C150.81,148.44 155.44,146.64 158.27,143.99 C161.1,141.34 164.97,138.24 165.76,134.77 C166.55,131.3 162.99,126.95 163,123.17 C163.01,119.39 165.57,115.79 165.8,112.1 C166.03,108.4 163.95,104.62 164.39,100.98 C164.83,97.34 167.22,93.55 168.46,90.26 C169.7,86.98 170.17,82.39 171.82,81.28Z" fill="#fff" fill-opacity="0.2"/>
<circle cx="200.2" cy="149.3" r="6.3"/>
<circle cx="185.7" cy="168.7" r="5.7"/>
<circle cx="186.1" cy="101.7" r="5.7"/>
<circle cx="223.1" cy="98.1" r="3.0"/>
<circle cx="169.5" cy="170.5" r="4.7"/>
<circle cx="205.3" cy="97.7" r="6.7"/>
<circle cx="225.1" cy="106.7" r="5.3"/>
<circle cx="205.3" cy="110.5" r="5.1"/>
<circle cx="218.2" cy="124.2" r="5.2"/>
<circle cx="187.2" cy="145.8" r="4.5"/>
<circle cx="229.6" cy="111.1" r="5.3"/>
<circle cx="191.2" cy="152.6" r="4.7"/>
<circle cx="174.3" cy="136.7" r="6.6"/>
<circle cx="174.2" cy="166.9" r="5.7"/>
<circle cx="171.7" cy="108.5" r="4.8"/>
<circle cx="180.2" cy="100.8" r="5.8"/>
<circle cx="182.9" cy="92.3" r="5.4"/>
<circle cx="170.0" cy="121.6" r="6.8"/>
<circle cx="184.6" cy="124.9" r="6.2"/>
<circle cx="200.6" cy="126.0" r="5.2"/>
<circle cx="176.1" cy="153.6" r="6.3"/>
<circle cx="206.8" cy="141.9" r="6.2"/>
<circle cx="176.3" cy="145.8" r="5.1"/>
<circle cx="193.2" cy="102.1" r="6.0"/>
<circle cx="185.5" cy="156.5" r="6.0"/>
<circle cx="216.3" cy="111.4" r="5.9"/>
<circle cx="175.1" cy="159.1" r="6.5"/>
<circle cx="158.2" cy="158.5" r="5.7"/>
<circle cx="210.1" cy="94.5" r="6.3"/>
<circle cx="196.3" cy="142.0" r="5.4"/>
<circle cx="164.8" cy="164.9" r="4.4"/>
<circle cx="218.2" cy="118.3" r="6.4"/>
<circle cx="197.7" cy="132.2" r="6.7"/>
<circle cx="199.5" cy="91.5" r="5.9"/>
<circle cx="224.9" cy="114.1" r="5.4"/>
<circle cx="163.7" cy="106.0" r="3.6"/>
<circle cx="177.8" cy="170.4" r="4.9"/>
<circle cx="188.6" cy="117.9" r="5.2"/>
<circle cx="200.1" cy="120.6" r="5.1"/>
<circle cx="186.6" cy="140.0" r="5.8"/>
<circle cx="170.6" cy="129.3" r="5.2"/>
<circle cx="169.3" cy="153.1" r="6.6"/>
<circle cx="193.4" cy="125.9" r="5.2"/>
<circle cx="164.1" cy="156.8" r="6.3"/>
<circle cx="177.8" cy="84.9" r="4.5"/>
<circle cx="200.0" cy="103.3" r="5.7"/>
<circle cx="204.3" cy="86.7" r="4.7"/>
<circle cx="187.1" cy="109.1" r="6.3"/>
<circle cx="200.4" cy="112.1" r="5.0"/>
<circle cx="224.7" cy="124.3" r="6.2"/>
<circle cx="224.7" cy="137.6" r="4.7"/>
<circle cx="169.3" cy="100.6" r="5.6"/>
<circle cx="204.9" cy="123.4" r="6.7"/>
<circle cx="169.7" cy="142.9" r="6.2"/>
<circle cx="180.4" cy="107.4" r="4.5"/>
<circle cx="179.9" cy="129.1" r="4.6"/>
<circle cx="171.8" cy="88.4" r="5.7"/>
<circle cx="148.8" cy="151.5" r="5.7"/>
<circle cx="196.7" cy="157.5" r="6.1"/>
<circle cx="158.7" cy="146.2" r="5.5"/>
<circle cx="183.5" cy="151.8" r="6.6"/>
<circle cx="175.3" cy="101.9" r="6.8"/>
<circle cx="196.9" cy="95.7" r="5.3"/>
<circle cx="172.1" cy="80.6" r="3.2"/>
<circle cx="178.1" cy="123.8" r="6.1"/>
<circle cx="204.6" cy="129.6" r="6.3"/>
<circle cx="212.2" cy="142.4" r="6.7"/>
<circle cx="178.8" cy="95.1" r="6.0"/>
<circle cx="209.9" cy="118.1" r="5.4"/>
<circle cx="191.5" cy="165.0" r="5.1"/>
<circle cx="168.7" cy="136.2" r="6.7"/>
<circle cx="228.1" cy="100.0" r="5.1"/>
<circle cx="205.5" cy="149.5" r="4.6"/>
<circle cx="195.9" cy="106.5" r="5.2"/>
<circle cx="156.5" cy="153.1" r="5.4"/>
<circle cx="162.8" cy="118.5" r="3.6"/>
<circle cx="186.8" cy="133.9" r="6.7"/>
<circle cx="165.1" cy="132.7" r="4.9"/>
<circle cx="170.7" cy="94.0" r="6.6"/>
<circle cx="210.6" cy="128.8" r="5.3"/>
<circle cx="211.1" cy="103.2" r="6.4"/>
<circle cx="183.3" cy="164.3" r="4.8"/>
<circle cx="146.9" cy="157.3" r="4.1"/>
<circle cx="225.7" cy="131.4" r="6.0"/>
<circle cx="200.8" cy="139.6" r="6.7"/>
<circle cx="220.6" cy="134.0" r="4.5"/>
<circle cx="191.6" cy="91.4" r="4.5"/>
<circle cx="181.5" cy="117.9" r="6.7"/>
<circle cx="212.5" cy="148.0" r="4.2"/>
<circle cx="170.5" cy="148.1" r="5.3"/>
<circle cx="163.1" cy="142.0" r="5.8"/>
<circle cx="190.6" cy="85.9" r="3.1"/>
<circle cx="189.5" cy="159.3" r="5.8"/>
<circle cx="165.3" cy="126.0" r="5.8"/>
<circle cx="215.4" cy="99.2" r="5.5"/>
<circle cx="194.2" cy="114.9" r="5.8"/>
<circle cx="165.7" cy="113.4" r="6.0"/>
<circle cx="215.6" cy="106.4" r="4.8"/>
<circle cx="211.1" cy="111.3" r="5.5"/>
<circle cx="194.4" cy="136.2" r="6.0"/>
<circle cx="188.2" cy="128.4" r="6.1"/>
<circle cx="213.3" cy="123.0" r="6.7"/>
<circle cx="175.0" cy="117.7" r="5.1"/>
<circle cx="230.3" cy="125.9" r="4.3"/>
<circle cx="205.5" cy="103.5" r="6.2"/>
<circle cx="188.6" cy="97.0" r="5.5"/>
<circle cx="219.8" cy="139.7" r="5.2"/>
<circle cx="164.3" cy="151.4" r="6.3"/>
<circle cx="170.8" cy="115.1" r="6.2"/>
<circle cx="165.5" cy="97.0" r="5.1"/>
<circle cx="213.9" cy="136.7" r="6.2"/>
<circle cx="232.0" cy="117.2" r="4.6"/>
<circle cx="169.0" cy="161.3" r="6.2"/>
<circle cx="181.5" cy="145.2" r="5.9"/>
<circle cx="195.4" cy="88.2" r="5.1"/>
<circle cx="194.0" cy="147.9" r="5.4"/>
<circle cx="198.3" cy="83.8" r="3.6"/>
<circle cx="208.4" cy="136.2" r="5.7"/>
<circle cx="231.8" cy="104.4" r="3.1"/>
<circle cx="180.2" cy="134.0" r="5.7"/>
<circle cx="176.8" cy="111.9" r="4.4"/>
<circle cx="205.1" cy="92.2" r="5.3"/>
<circle cx="180.3" cy="159.1" r="5.5"/>
<circle cx="180.4" cy="139.5" r="6.5"/>
<circle cx="220.0" cy="102.6" r="6.1"/>
<circle cx="204.5" cy="118.1" r="5.5"/>
<circle cx="191.6" cy="143.5" r="6.8"/>
<circle cx="196.9" cy="163.4" r="3.6"/>
<circle cx="151.8" cy="158.7" r="3.0"/>
<circle cx="159.9" cy="166.5" r="3.4"/>
<circle cx="153.5" cy="146.0" r="3.8"/>
<circle cx="217.1" cy="144.9" r="4.0"/>
<circle cx="224.3" cy="119.2" r="5.0"/>
<circle cx="203.7" cy="135.0" r="6.1"/>
<circle cx="216.2" cy="129.3" r="6.8"/>
<circle cx="166.1" cy="91.6" r="3.0"/>
<circle cx="209.7" cy="89.4" r="3.3"/>
<circle cx="183.1" cy="112.0" r="6.0"/>
<circle cx="191.9" cy="131.7" r="6.4"/>
<circle cx="186.0" cy="88.3" r="3.0"/>
<circle cx="178.3" cy="164.2" r="4.6"/>
<circle cx="196.2" cy="152.4" r="5.4"/>
<circle cx="195.2" cy="121.2" r="6.5"/>
<circle cx="176.7" cy="90.2" r="5.9"/>
<circle cx="201.1" cy="154.5" r="4.0"/>
<circle cx="221.4" cy="129.0" r="5.8"/>
<circle cx="202.5" cy="144.9" r="5.9"/>
<circle cx="165.7" cy="146.5" r="6.0"/>
<circle cx="221.4" cy="110.1" r="6.7"/>
<circle cx="162.5" cy="136.9" r="3.5"/>
</g>
<path d="M171.82,81.28 C173.46,80.16 176.89,81.7 178.32,83.57 C179.76,85.44 178.66,91.73 180.42,92.49 C182.17,93.26 185.52,89.55 188.85,88.16 C192.18,86.78 197.22,83.99 200.39,84.19 C203.56,84.38 205.41,86.81 207.89,89.35 C210.36,91.88 211.9,97.73 215.23,99.4 C218.57,101.08 225.2,98.14 227.88,99.38 C230.57,100.61 230.78,103.8 231.35,106.81 C231.92,109.82 231.78,113.62 231.31,117.42 C230.84,121.23 229.84,126.03 228.51,129.62 C227.17,133.21 225.99,136.04 223.3,138.94 C220.61,141.85 216.11,144.71 212.37,147.03 C208.63,149.35 203.73,150.02 200.88,152.86 C198.03,155.7 197.95,161.34 195.26,164.08 C192.57,166.81 188.72,168.17 184.75,169.26 C180.78,170.36 175.36,171.01 171.43,170.62 C167.5,170.23 163.38,168.96 161.18,166.92 C158.99,164.89 160.81,160.01 158.27,158.41 C155.73,156.81 147.51,158.59 145.92,157.3 C144.34,156.01 146.7,152.87 148.75,150.66 C150.81,148.44 155.44,146.64 158.27,143.99 C161.1,141.34 164.97,138.24 165.76,134.77 C166.55,131.3 162.99,126.95 163,123.17 C163.01,119.39 165.57,115.79 165.8,112.1 C166.03,108.4 163.95,104.62 164.39,100.98 C164.83,97.34 167.22,93.55 168.46,90.26 C169.7,86.98 170.17,82.39 171.82,81.28Z" fill="url(#shMag)" filter="url(#soft2)"/>
<g filter="url(#bBlue)" fill="url(#hh)">
<path d="M127.89,185.38 C128.46,183.79 130.35,183.02 132.77,182 C135.18,180.99 139.43,180.43 142.37,179.3 C145.31,178.16 147.06,175.49 150.42,175.18 C153.78,174.88 158.61,176.78 162.53,177.48 C166.45,178.18 169.62,179.32 173.94,179.4 C178.26,179.48 183.59,179.4 188.44,177.94 C193.29,176.48 199.28,173.9 203.02,170.63 C206.77,167.36 207.95,159.7 210.9,158.32 C213.85,156.94 217.75,160.1 220.73,162.34 C223.7,164.59 225.95,168.3 228.75,171.8 C231.54,175.29 234.18,180.94 237.49,183.32 C240.8,185.7 245.9,183.82 248.61,186.06 C251.32,188.29 251.99,193.09 253.78,196.74 C255.57,200.38 257.28,203.74 259.37,207.91 C261.45,212.08 264.46,216.7 266.3,221.75 C268.14,226.81 269.5,233.28 270.42,238.27 C271.34,243.25 272.19,248.21 271.83,251.68 C271.48,255.14 270.51,257.64 268.3,259.08 C266.08,260.52 261.44,261.62 258.55,260.3 C255.66,258.98 252.91,254.51 250.96,251.16 C249.02,247.81 248.38,243.31 246.87,240.18 C245.37,237.05 244.8,233.46 241.92,232.37 C239.04,231.29 233.1,232.95 229.59,233.65 C226.09,234.35 223.81,235.1 220.9,236.56 C217.99,238.02 214.96,239.82 212.15,242.39 C209.33,244.97 206.35,250.21 204.01,252.01 C201.66,253.82 200.65,253.95 198.05,253.22 C195.45,252.49 192.03,248.58 188.41,247.65 C184.78,246.73 180.23,246.26 176.29,247.68 C172.35,249.11 167.95,254.14 164.78,256.22 C161.61,258.31 159.51,260.16 157.27,260.2 C155.03,260.25 153.03,258.5 151.35,256.49 C149.67,254.48 149.37,250.52 147.19,248.13 C145.02,245.74 141.23,243.64 138.29,242.16 C135.35,240.68 132.88,239.96 129.55,239.24 C126.22,238.52 121.96,238.5 118.3,237.83 C114.65,237.16 110.45,236.68 107.62,235.22 C104.79,233.77 102.13,231.36 101.32,229.1 C100.5,226.84 101.65,224.66 102.73,221.68 C103.81,218.7 105.17,213.41 107.8,211.25 C110.44,209.08 114.72,210.2 118.52,208.71 C122.33,207.23 128.82,205.19 130.63,202.33 C132.43,199.46 129.83,194.34 129.38,191.52 C128.92,188.7 127.33,186.97 127.89,185.38Z" fill="#fff" fill-opacity="0.2"/>
<circle cx="205.1" cy="249.7" r="4.5"/>
<circle cx="248.2" cy="235.2" r="6.5"/>
<circle cx="144.4" cy="214.4" r="6.3"/>
<circle cx="224.6" cy="205.2" r="5.2"/>
<circle cx="110.5" cy="218.7" r="6.2"/>
<circle cx="201.6" cy="170.9" r="4.9"/>
<circle cx="236.5" cy="203.9" r="5.7"/>
<circle cx="238.5" cy="187.9" r="4.9"/>
<circle cx="201.6" cy="203.7" r="6.4"/>
<circle cx="143.0" cy="224.8" r="5.5"/>
<circle cx="144.1" cy="202.1" r="5.7"/>
<circle cx="229.8" cy="176.9" r="6.0"/>
<circle cx="205.3" cy="193.2" r="6.0"/>
<circle cx="190.7" cy="229.5" r="4.7"/>
<circle cx="200.4" cy="197.9" r="6.2"/>
<circle cx="226.0" cy="221.8" r="5.4"/>
<circle cx="158.3" cy="202.7" r="5.0"/>
<circle cx="134.0" cy="216.0" r="6.3"/>
<circle cx="153.8" cy="209.3" r="5.7"/>
<circle cx="129.9" cy="190.3" r="4.5"/>
<circle cx="178.1" cy="209.4" r="5.5"/>
<circle cx="176.5" cy="225.4" r="6.6"/>
<circle cx="167.3" cy="213.4" r="4.6"/>
<circle cx="132.6" cy="206.3" r="6.4"/>
<circle cx="221.1" cy="211.3" r="4.9"/>
<circle cx="106.8" cy="210.2" r="3.1"/>
<circle cx="151.6" cy="200.4" r="5.5"/>
<circle cx="128.7" cy="227.0" r="4.9"/>
<circle cx="138.1" cy="181.6" r="6.3"/>
<circle cx="215.1" cy="210.1" r="5.4"/>
<circle cx="253.3" cy="212.0" r="5.0"/>
<circle cx="260.8" cy="222.1" r="4.6"/>
<circle cx="148.1" cy="228.3" r="6.4"/>
<circle cx="186.4" cy="238.0" r="5.2"/>
<circle cx="209.4" cy="245.6" r="5.7"/>
<circle cx="126.8" cy="206.2" r="6.0"/>
<circle cx="217.9" cy="187.3" r="5.1"/>
<circle cx="129.2" cy="220.3" r="4.4"/>
<circle cx="237.2" cy="232.6" r="5.5"/>
<circle cx="254.9" cy="203.8" r="6.8"/>
<circle cx="192.2" cy="200.8" r="5.7"/>
<circle cx="249.7" cy="219.9" r="6.5"/>
<circle cx="269.7" cy="246.1" r="4.7"/>
<circle cx="157.4" cy="256.5" r="5.0"/>
<circle cx="118.0" cy="237.3" r="4.6"/>
<circle cx="195.3" cy="188.1" r="4.5"/>
<circle cx="208.8" cy="182.5" r="6.5"/>
<circle cx="245.3" cy="205.3" r="6.0"/>
<circle cx="207.6" cy="240.5" r="5.9"/>
<circle cx="171.9" cy="239.0" r="6.4"/>
<circle cx="221.6" cy="227.6" r="5.2"/>
<circle cx="206.5" cy="166.0" r="5.8"/>
<circle cx="174.9" cy="233.9" r="4.6"/>
<circle cx="212.5" cy="236.6" r="6.7"/>
<circle cx="203.5" cy="225.6" r="5.8"/>
<circle cx="162.8" cy="218.1" r="6.6"/>
<circle cx="136.4" cy="199.0" r="6.7"/>
<circle cx="244.8" cy="238.9" r="3.8"/>
<circle cx="237.8" cy="182.4" r="4.3"/>
<circle cx="164.7" cy="257.0" r="4.5"/>
<circle cx="146.5" cy="177.1" r="5.5"/>
<circle cx="224.1" cy="191.3" r="6.8"/>
<circle cx="266.6" cy="255.9" r="5.5"/>
<circle cx="162.6" cy="206.2" r="5.1"/>
<circle cx="219.0" cy="194.0" r="6.4"/>
<circle cx="261.5" cy="250.4" r="6.5"/>
<circle cx="266.7" cy="225.4" r="6.1"/>
<circle cx="221.0" cy="183.3" r="6.5"/>
<circle cx="127.5" cy="236.8" r="5.7"/>
<circle cx="156.1" cy="192.4" r="4.9"/>
<circle cx="206.9" cy="221.0" r="5.7"/>
<circle cx="180.0" cy="215.6" r="6.4"/>
<circle cx="132.7" cy="235.7" r="5.0"/>
<circle cx="179.7" cy="194.3" r="5.3"/>
<circle cx="254.8" cy="237.2" r="4.7"/>
<circle cx="148.2" cy="223.3" r="6.8"/>
<circle cx="240.3" cy="197.0" r="4.7"/>
<circle cx="245.6" cy="199.2" r="5.4"/>
<circle cx="213.4" cy="185.3" r="4.8"/>
<circle cx="187.5" cy="249.3" r="3.0"/>
<circle cx="226.6" cy="180.9" r="5.2"/>
<circle cx="192.0" cy="184.0" r="5.1"/>
<circle cx="159.7" cy="250.6" r="6.5"/>
<circle cx="139.0" cy="190.4" r="4.4"/>
<circle cx="144.4" cy="183.0" r="5.4"/>
<circle cx="192.3" cy="192.1" r="5.3"/>
<circle cx="170.4" cy="245.5" r="6.7"/>
<circle cx="150.8" cy="251.9" r="5.5"/>
<circle cx="209.5" cy="170.7" r="6.6"/>
<circle cx="253.9" cy="243.0" r="6.7"/>
<circle cx="134.9" cy="224.7" r="4.6"/>
<circle cx="230.3" cy="211.5" r="6.3"/>
<circle cx="221.7" cy="167.3" r="6.1"/>
<circle cx="235.3" cy="198.8" r="4.7"/>
<circle cx="160.1" cy="183.2" r="5.3"/>
<circle cx="122.7" cy="222.7" r="4.8"/>
<circle cx="208.5" cy="205.2" r="5.0"/>
<circle cx="118.2" cy="225.3" r="5.9"/>
<circle cx="183.4" cy="227.6" r="6.5"/>
<circle cx="209.6" cy="215.4" r="5.1"/>
<circle cx="238.8" cy="209.6" r="5.2"/>
<circle cx="209.6" cy="196.4" r="5.4"/>
<circle cx="260.3" cy="256.4" r="5.4"/>
<circle cx="198.8" cy="176.6" r="6.1"/>
<circle cx="162.1" cy="175.7" r="3.1"/>
<circle cx="230.1" cy="193.0" r="6.7"/>
<circle cx="120.7" cy="231.2" r="5.9"/>
<circle cx="193.3" cy="224.8" r="5.6"/>
<circle cx="160.5" cy="237.9" r="5.3"/>
<circle cx="138.1" cy="209.2" r="5.4"/>
<circle cx="224.5" cy="197.2" r="5.3"/>
<circle cx="232.5" cy="181.8" r="5.1"/>
<circle cx="212.1" cy="159.9" r="4.8"/>
<circle cx="195.7" cy="242.6" r="5.3"/>
<circle cx="172.2" cy="206.6" r="4.6"/>
<circle cx="212.9" cy="174.9" r="6.6"/>
<circle cx="153.9" cy="214.6" r="6.3"/>
<circle cx="229.4" cy="217.1" r="5.3"/>
<circle cx="254.5" cy="197.3" r="5.0"/>
<circle cx="147.6" cy="193.1" r="5.3"/>
<circle cx="133.3" cy="184.1" r="6.6"/>
<circle cx="230.6" cy="231.6" r="4.7"/>
<circle cx="164.9" cy="225.5" r="5.7"/>
<circle cx="210.2" cy="230.4" r="5.2"/>
<circle cx="238.9" cy="221.7" r="5.6"/>
<circle cx="194.0" cy="233.2" r="5.7"/>
<circle cx="149.6" cy="233.9" r="4.6"/>
<circle cx="219.0" cy="201.3" r="6.7"/>
<circle cx="213.8" cy="192.6" r="6.1"/>
<circle cx="262.3" cy="240.3" r="4.7"/>
<circle cx="218.2" cy="232.7" r="6.7"/>
<circle cx="143.3" cy="232.9" r="4.5"/>
<circle cx="212.6" cy="220.6" r="5.5"/>
<circle cx="243.7" cy="188.2" r="4.7"/>
<circle cx="259.8" cy="204.9" r="3.0"/>
<circle cx="193.4" cy="213.0" r="4.4"/>
<circle cx="157.6" cy="244.6" r="5.2"/>
<circle cx="139.3" cy="221.1" r="4.6"/>
<circle cx="157.4" cy="230.1" r="5.5"/>
<circle cx="152.8" cy="246.9" r="4.7"/>
<circle cx="173.1" cy="197.9" r="6.7"/>
<circle cx="139.9" cy="239.1" r="6.4"/>
<circle cx="228.2" cy="186.1" r="6.4"/>
<circle cx="163.5" cy="241.9" r="5.1"/>
<circle cx="186.1" cy="179.8" r="4.7"/>
<circle cx="152.0" cy="239.0" r="5.4"/>
<circle cx="143.7" cy="242.6" r="5.2"/>
<circle cx="241.7" cy="216.1" r="6.3"/>
<circle cx="106.0" cy="227.5" r="6.7"/>
<circle cx="257.3" cy="260.3" r="3.6"/>
<circle cx="202.6" cy="181.4" r="5.2"/>
<circle cx="154.6" cy="184.9" r="5.7"/>
<circle cx="269.7" cy="240.6" r="6.4"/>
<circle cx="198.2" cy="218.4" r="4.7"/>
<circle cx="168.8" cy="189.0" r="6.0"/>
<circle cx="162.0" cy="199.0" r="4.9"/>
<circle cx="256.2" cy="217.1" r="4.8"/>
<circle cx="221.4" cy="238.0" r="3.4"/>
<circle cx="121.2" cy="207.8" r="5.2"/>
<circle cx="178.9" cy="242.5" r="6.1"/>
<circle cx="162.3" cy="232.2" r="4.8"/>
<circle cx="151.8" cy="174.0" r="3.3"/>
<circle cx="234.2" cy="215.6" r="5.6"/>
<circle cx="262.5" cy="261.0" r="3.3"/>
<circle cx="204.3" cy="210.5" r="6.2"/>
<circle cx="113.4" cy="231.4" r="5.7"/>
<circle cx="120.5" cy="217.9" r="6.7"/>
<circle cx="166.6" cy="178.1" r="5.8"/>
<circle cx="200.3" cy="230.6" r="6.8"/>
<circle cx="191.0" cy="218.6" r="5.6"/>
<circle cx="178.1" cy="201.6" r="6.6"/>
<circle cx="104.6" cy="217.3" r="5.1"/>
<circle cx="208.6" cy="187.7" r="4.7"/>
<circle cx="202.0" cy="243.9" r="5.5"/>
<circle cx="194.0" cy="207.0" r="6.5"/>
<circle cx="146.7" cy="247.4" r="4.6"/>
<circle cx="133.6" cy="194.9" r="6.5"/>
<circle cx="247.2" cy="243.3" r="4.4"/>
<circle cx="154.0" cy="223.3" r="6.6"/>
<circle cx="200.2" cy="248.8" r="5.5"/>
<circle cx="185.0" cy="198.7" r="5.5"/>
<circle cx="215.6" cy="228.4" r="6.6"/>
<circle cx="177.4" cy="184.5" r="5.8"/>
<circle cx="173.7" cy="192.5" r="6.3"/>
<circle cx="133.1" cy="241.7" r="3.8"/>
<circle cx="143.2" cy="209.5" r="6.3"/>
<circle cx="109.1" cy="236.9" r="3.6"/>
<circle cx="167.8" cy="194.9" r="6.1"/>
<circle cx="129.9" cy="201.0" r="4.0"/>
<circle cx="200.6" cy="190.5" r="4.6"/>
<circle cx="250.7" cy="248.7" r="5.7"/>
<circle cx="255.6" cy="222.4" r="5.4"/>
<circle cx="263.9" cy="214.8" r="4.2"/>
<circle cx="175.0" cy="218.8" r="5.3"/>
<circle cx="214.0" cy="202.8" r="6.7"/>
<circle cx="159.3" cy="210.2" r="4.7"/>
<circle cx="166.4" cy="235.1" r="5.8"/>
<circle cx="134.2" cy="230.5" r="5.7"/>
<circle cx="112.7" cy="213.5" r="5.9"/>
<circle cx="245.5" cy="226.6" r="5.6"/>
<circle cx="268.2" cy="234.4" r="5.7"/>
<circle cx="258.4" cy="226.8" r="6.3"/>
<circle cx="188.3" cy="189.1" r="5.8"/>
<circle cx="216.6" cy="164.4" r="4.8"/>
<circle cx="171.7" cy="184.0" r="6.4"/>
<circle cx="199.1" cy="184.9" r="5.0"/>
<circle cx="203.8" cy="234.3" r="5.6"/>
<circle cx="129.2" cy="211.1" r="5.4"/>
<circle cx="100.6" cy="228.7" r="4.0"/>
<circle cx="185.5" cy="204.7" r="5.1"/>
<circle cx="263.0" cy="233.2" r="5.6"/>
<circle cx="164.7" cy="185.1" r="6.1"/>
<circle cx="228.6" cy="202.2" r="6.6"/>
<circle cx="193.5" cy="177.9" r="4.5"/>
<circle cx="186.0" cy="211.5" r="5.1"/>
<circle cx="235.9" cy="226.4" r="5.0"/>
<circle cx="177.2" cy="178.5" r="4.8"/>
<circle cx="218.2" cy="179.2" r="5.3"/>
<circle cx="163.8" cy="190.5" r="6.3"/>
<circle cx="195.3" cy="247.6" r="6.4"/>
<circle cx="184.5" cy="193.0" r="5.6"/>
<circle cx="176.4" cy="249.4" r="3.2"/>
<circle cx="255.1" cy="231.4" r="6.0"/>
<circle cx="252.1" cy="254.1" r="3.9"/>
<circle cx="222.3" cy="216.9" r="6.3"/>
<circle cx="198.3" cy="210.5" r="5.4"/>
<circle cx="207.2" cy="175.8" r="4.7"/>
<circle cx="164.6" cy="252.0" r="5.9"/>
<circle cx="242.5" cy="230.7" r="6.6"/>
<circle cx="149.3" cy="187.4" r="4.7"/>
<circle cx="218.6" cy="222.6" r="4.7"/>
<circle cx="236.7" cy="193.3" r="5.1"/>
<circle cx="123.9" cy="212.9" r="6.2"/>
<circle cx="167.7" cy="203.5" r="5.7"/>
<circle cx="155.0" cy="234.5" r="5.4"/>
<circle cx="115.5" cy="219.1" r="6.6"/>
<circle cx="212.5" cy="241.5" r="6.0"/>
<circle cx="203.5" cy="216.7" r="6.7"/>
<circle cx="255.7" cy="247.8" r="4.9"/>
<circle cx="168.2" cy="220.5" r="6.7"/>
<circle cx="185.5" cy="223.1" r="4.5"/>
<circle cx="246.4" cy="214.5" r="5.1"/>
<circle cx="185.0" cy="217.7" r="6.2"/>
<circle cx="137.6" cy="234.5" r="6.4"/>
<circle cx="183.9" cy="186.9" r="6.0"/>
<circle cx="228.8" cy="226.0" r="6.4"/>
<circle cx="200.3" cy="239.2" r="6.7"/>
<circle cx="170.4" cy="227.5" r="6.1"/>
<circle cx="217.5" cy="170.2" r="4.4"/>
<circle cx="142.5" cy="194.8" r="6.7"/>
<circle cx="250.2" cy="188.9" r="5.1"/>
<circle cx="186.4" cy="243.6" r="4.4"/>
<circle cx="250.2" cy="228.3" r="6.6"/>
<circle cx="272.1" cy="253.6" r="3.7"/>
<circle cx="245.8" cy="193.7" r="5.3"/>
<circle cx="180.3" cy="232.7" r="5.7"/>
<circle cx="232.9" cy="188.8" r="6.1"/>
<circle cx="198.1" cy="253.5" r="5.1"/>
<circle cx="152.1" cy="257.9" r="4.1"/>
<circle cx="224.4" cy="233.0" r="6.3"/>
<circle cx="181.8" cy="247.7" r="5.5"/>
<circle cx="148.9" cy="211.8" r="5.0"/>
<circle cx="233.5" cy="220.7" r="6.0"/>
<circle cx="263.6" cy="245.7" r="5.3"/>
<circle cx="117.8" cy="213.1" r="4.8"/>
<circle cx="122.6" cy="240.1" r="3.0"/>
<circle cx="104.6" cy="222.6" r="5.8"/>
<circle cx="156.4" cy="178.7" r="6.3"/>
<circle cx="225.7" cy="174.1" r="6.6"/>
<circle cx="149.3" cy="206.0" r="5.4"/>
<circle cx="172.3" cy="213.4" r="4.7"/>
<circle cx="190.7" cy="240.8" r="6.6"/>
<circle cx="221.2" cy="161.4" r="3.9"/>
<circle cx="112.1" cy="224.9" r="5.3"/>
<circle cx="144.3" cy="188.6" r="6.3"/>
<circle cx="180.6" cy="221.1" r="6.1"/>
<circle cx="127.7" cy="185.1" r="4.5"/>
<circle cx="139.1" cy="203.5" r="5.1"/>
<circle cx="243.8" cy="220.6" r="6.5"/>
<circle cx="266.7" cy="219.8" r="3.8"/>
<circle cx="258.7" cy="211.3" r="6.7"/>
<circle cx="171.5" cy="250.5" r="6.6"/>
<circle cx="195.0" cy="173.0" r="3.3"/>
<circle cx="250.2" cy="206.5" r="5.0"/>
<circle cx="114.5" cy="208.2" r="3.3"/>
<circle cx="226.8" cy="169.3" r="5.3"/>
<circle cx="164.4" cy="246.9" r="5.0"/>
<circle cx="151.1" cy="179.7" r="4.9"/>
<circle cx="158.9" cy="222.2" r="5.8"/>
<circle cx="179.3" cy="189.1" r="6.0"/>
<circle cx="148.9" cy="218.1" r="6.3"/>
<circle cx="139.6" cy="228.4" r="6.2"/>
<circle cx="215.9" cy="216.4" r="5.7"/>
<circle cx="171.6" cy="178.1" r="4.3"/>
<circle cx="146.2" cy="238.0" r="5.0"/>
<circle cx="104.2" cy="232.6" r="4.5"/>
<circle cx="198.4" cy="225.0" r="5.3"/>
<circle cx="156.1" cy="197.8" r="6.1"/>
<circle cx="185.4" cy="232.2" r="5.4"/>
<circle cx="138.1" cy="244.1" r="3.0"/>
<circle cx="159.3" cy="188.5" r="4.7"/>
<circle cx="197.3" cy="194.1" r="5.5"/>
<circle cx="192.0" cy="251.4" r="3.2"/>
<circle cx="267.4" cy="250.5" r="4.8"/>
<circle cx="209.4" cy="210.3" r="5.5"/>
<circle cx="206.4" cy="200.2" r="5.1"/>
<circle cx="210.0" cy="225.4" r="6.0"/>
<circle cx="250.4" cy="200.1" r="5.0"/>
<circle cx="125.8" cy="232.2" r="5.7"/>
<circle cx="231.6" cy="206.1" r="5.9"/>
<circle cx="157.3" cy="261.7" r="3.0"/>
<circle cx="247.4" cy="184.7" r="3.7"/>
<circle cx="215.6" cy="197.7" r="6.1"/>
<circle cx="196.8" cy="202.8" r="4.4"/>
<circle cx="220.8" cy="174.3" r="5.3"/>
<circle cx="211.7" cy="165.2" r="5.0"/>
<circle cx="218.1" cy="206.2" r="5.5"/>
<circle cx="139.1" cy="214.3" r="5.3"/>
<circle cx="241.1" cy="202.2" r="5.9"/>
</g>
<path d="M142.3,133.6 C146,134 148.6,135.5 149.8,138.5 C151,142 148,145.5 149,148 C150,150.5 155,148.5 160,145.5" fill="none" stroke="#17c217" stroke-width="1.2" stroke-linecap="round"/>
<path d="M209.6,128.6 C207.5,132 205.5,134.5 204.6,137 C203.6,139.5 201.6,141 201,144.5" fill="none" stroke="#17c217" stroke-width="1.1" stroke-linecap="round"/>
<path d="M188.5,176.2 C195,173 201,169.5 206.2,166.4 C205.6,164.8 205.4,163.6 205.2,162.6" fill="none" stroke="#17c217" stroke-width="1.3" stroke-linecap="round" stroke-linejoin="round"/>
<line x1="167" y1="160.2" x2="173.7" y2="153.4" stroke="#0f9a10" stroke-width="5" stroke-linecap="round"/>
<line x1="178.5" y1="169.2" x2="185.2" y2="162.4" stroke="#0f9a10" stroke-width="5" stroke-linecap="round"/>
<line x1="162.2" y1="142.4" x2="166" y2="159.2" stroke="#12b012" stroke-width="7.4" stroke-linecap="butt"/>
<line x1="161.7" y1="142.4" x2="165.5" y2="159.2" stroke="#25e325" stroke-width="5.6" stroke-linecap="butt"/>
<line x1="173.7" y1="151.4" x2="177.5" y2="168.2" stroke="#12b012" stroke-width="7.4" stroke-linecap="butt"/>
<line x1="173.2" y1="151.4" x2="177" y2="168.2" stroke="#25e325" stroke-width="5.6" stroke-linecap="butt"/>
<line x1="185.2" y1="160.4" x2="189" y2="177.2" stroke="#12b012" stroke-width="7.4" stroke-linecap="butt"/>
<line x1="184.7" y1="160.4" x2="188.5" y2="177.2" stroke="#25e325" stroke-width="5.6" stroke-linecap="butt"/>
<path d="M207.8,163.6 L203.2,157.6" fill="none" stroke="#0f9a10" stroke-width="4.4" stroke-linecap="round"/>
<path d="M201.6,147.2 L209,148.6 L203.4,157.4" fill="none" stroke="#12b012" stroke-width="6" stroke-linecap="round" stroke-linejoin="round"/>
<path d="M201.6,147.2 L208.8,148.4 L203.6,157" fill="none" stroke="#25e325" stroke-width="4.4" stroke-linecap="round" stroke-linejoin="round"/>
<g filter="url(#bMag)" fill="url(#hh)">
<path d="M130.98,408.07 C132.53,406.63 135.82,408.79 139.47,409.77 C143.12,410.74 149.4,414.91 152.89,413.92 C156.38,412.93 157.49,406.25 160.43,403.83 C163.36,401.41 167.62,399.44 170.5,399.4 C173.38,399.36 176.03,401.22 177.73,403.58 C179.43,405.94 178.21,411.37 180.7,413.57 C183.2,415.77 188.75,416.08 192.71,416.77 C196.67,417.47 202.36,416.18 204.48,417.74 C206.6,419.3 206.2,423.08 205.42,426.13 C204.64,429.19 200.04,432.52 199.81,436.07 C199.57,439.61 203.95,444.02 204,447.38 C204.05,450.74 202.6,453.4 200.13,456.23 C197.66,459.06 192.7,461.54 189.2,464.35 C185.69,467.16 181.46,469.77 179.1,473.07 C176.74,476.36 177.41,481.43 175.01,484.13 C172.61,486.82 168.73,488.62 164.7,489.23 C160.67,489.84 155.5,487.34 150.84,487.81 C146.17,488.27 141.24,491.07 136.71,492.03 C132.18,492.98 126.61,494.24 123.66,493.54 C120.71,492.85 118.84,490.37 118.99,487.86 C119.15,485.34 123.88,481.66 124.58,478.46 C125.28,475.27 122.47,472.25 123.18,468.68 C123.88,465.12 129.05,460.73 128.79,457.06 C128.54,453.4 123.28,449.88 121.64,446.7 C120,443.53 118.02,440.8 118.95,438.01 C119.88,435.22 125.34,433.23 127.21,429.95 C129.08,426.68 129.53,422.01 130.16,418.37 C130.79,414.72 129.43,409.5 130.98,408.07Z" fill="#fff" fill-opacity="0.2"/>
<circle cx="151.7" cy="417.3" r="5.3"/>
<circle cx="134.6" cy="459.2" r="5.8"/>
<circle cx="170.2" cy="472.1" r="5.2"/>
<circle cx="176.2" cy="435.8" r="5.0"/>
<circle cx="175.2" cy="418.1" r="4.6"/>
<circle cx="154.7" cy="430.6" r="6.3"/>
<circle cx="139.8" cy="446.7" r="6.1"/>
<circle cx="147.5" cy="468.6" r="5.5"/>
<circle cx="166.2" cy="409.4" r="4.6"/>
<circle cx="139.5" cy="484.2" r="6.6"/>
<circle cx="127.4" cy="491.2" r="6.2"/>
<circle cx="155.0" cy="424.2" r="4.9"/>
<circle cx="196.0" cy="435.3" r="6.6"/>
<circle cx="136.3" cy="413.1" r="5.0"/>
<circle cx="194.7" cy="447.8" r="4.6"/>
<circle cx="159.9" cy="440.8" r="5.4"/>
<circle cx="161.4" cy="484.5" r="5.1"/>
<circle cx="130.0" cy="468.3" r="5.6"/>
<circle cx="139.6" cy="421.5" r="5.8"/>
<circle cx="140.7" cy="432.3" r="4.9"/>
<circle cx="144.2" cy="419.3" r="4.4"/>
<circle cx="133.5" cy="451.8" r="5.1"/>
<circle cx="160.0" cy="430.7" r="4.9"/>
<circle cx="193.1" cy="418.4" r="4.8"/>
<circle cx="194.3" cy="455.9" r="5.1"/>
<circle cx="159.3" cy="410.4" r="5.2"/>
<circle cx="174.2" cy="478.3" r="5.7"/>
<circle cx="143.8" cy="441.4" r="6.2"/>
<circle cx="203.7" cy="426.4" r="6.4"/>
<circle cx="142.1" cy="469.6" r="6.4"/>
<circle cx="141.2" cy="459.0" r="4.9"/>
<circle cx="138.3" cy="440.1" r="5.2"/>
<circle cx="173.6" cy="425.7" r="5.9"/>
<circle cx="130.6" cy="415.0" r="5.0"/>
<circle cx="182.7" cy="444.3" r="6.2"/>
<circle cx="169.3" cy="438.2" r="5.1"/>
<circle cx="199.4" cy="417.4" r="5.3"/>
<circle cx="170.4" cy="446.3" r="5.8"/>
<circle cx="154.8" cy="462.8" r="5.6"/>
<circle cx="186.1" cy="437.4" r="6.4"/>
<circle cx="188.6" cy="425.0" r="5.9"/>
<circle cx="158.8" cy="468.5" r="6.1"/>
<circle cx="119.0" cy="489.0" r="3.7"/>
<circle cx="172.3" cy="413.6" r="5.2"/>
<circle cx="162.2" cy="446.7" r="6.3"/>
<circle cx="199.7" cy="422.6" r="4.5"/>
<circle cx="134.3" cy="474.8" r="5.6"/>
<circle cx="165.5" cy="488.0" r="4.8"/>
<circle cx="122.4" cy="440.1" r="5.4"/>
<circle cx="156.9" cy="474.0" r="6.4"/>
<circle cx="167.3" cy="404.2" r="5.5"/>
<circle cx="182.2" cy="426.9" r="4.4"/>
<circle cx="171.9" cy="401.5" r="4.5"/>
<circle cx="167.1" cy="426.4" r="4.8"/>
<circle cx="161.1" cy="416.4" r="6.5"/>
<circle cx="186.3" cy="466.7" r="6.0"/>
<circle cx="146.6" cy="488.3" r="6.3"/>
<circle cx="172.8" cy="461.2" r="6.5"/>
<circle cx="133.0" cy="490.2" r="4.8"/>
<circle cx="162.2" cy="472.9" r="5.3"/>
<circle cx="202.7" cy="442.2" r="4.4"/>
<circle cx="123.2" cy="483.1" r="6.4"/>
<circle cx="177.0" cy="457.1" r="5.1"/>
<circle cx="140.2" cy="492.5" r="3.5"/>
<circle cx="160.5" cy="424.1" r="5.1"/>
<circle cx="127.9" cy="479.1" r="5.9"/>
<circle cx="179.0" cy="462.3" r="6.0"/>
<circle cx="133.7" cy="426.5" r="6.5"/>
<circle cx="142.2" cy="426.4" r="6.1"/>
<circle cx="161.1" cy="402.6" r="4.1"/>
<circle cx="170.2" cy="452.0" r="6.2"/>
<circle cx="201.8" cy="435.5" r="3.0"/>
<circle cx="144.5" cy="450.7" r="4.7"/>
<circle cx="153.3" cy="441.1" r="6.5"/>
<circle cx="150.3" cy="482.1" r="5.0"/>
<circle cx="186.9" cy="416.4" r="6.5"/>
<circle cx="175.3" cy="473.5" r="4.7"/>
<circle cx="180.3" cy="413.6" r="5.3"/>
<circle cx="130.1" cy="409.4" r="3.2"/>
<circle cx="188.1" cy="443.6" r="6.2"/>
<circle cx="128.0" cy="458.7" r="5.0"/>
<circle cx="196.9" cy="429.0" r="6.4"/>
<circle cx="150.3" cy="452.2" r="5.0"/>
<circle cx="185.4" cy="452.5" r="6.3"/>
<circle cx="129.5" cy="446.4" r="5.9"/>
<circle cx="159.3" cy="459.8" r="4.5"/>
<circle cx="167.3" cy="457.2" r="6.5"/>
<circle cx="156.0" cy="486.5" r="6.8"/>
<circle cx="166.6" cy="414.4" r="6.6"/>
<circle cx="148.1" cy="475.2" r="5.0"/>
<circle cx="164.5" cy="437.0" r="5.5"/>
<circle cx="125.6" cy="452.7" r="4.8"/>
<circle cx="142.7" cy="478.7" r="4.6"/>
<circle cx="177.6" cy="450.6" r="6.3"/>
<circle cx="176.0" cy="468.3" r="5.0"/>
<circle cx="186.6" cy="461.7" r="6.6"/>
<circle cx="135.2" cy="418.6" r="4.7"/>
<circle cx="129.4" cy="438.2" r="5.3"/>
<circle cx="200.8" cy="452.5" r="4.5"/>
<circle cx="152.4" cy="467.7" r="4.7"/>
<circle cx="177.1" cy="445.6" r="4.9"/>
<circle cx="171.9" cy="486.2" r="4.7"/>
<circle cx="149.5" cy="435.7" r="6.3"/>
<circle cx="139.2" cy="474.8" r="4.9"/>
<circle cx="154.5" cy="479.1" r="4.6"/>
<circle cx="165.7" cy="420.8" r="4.7"/>
<circle cx="149.3" cy="430.5" r="6.7"/>
<circle cx="145.2" cy="410.9" r="4.2"/>
<circle cx="191.2" cy="452.0" r="5.9"/>
<circle cx="123.3" cy="494.3" r="3.9"/>
<circle cx="125.1" cy="435.0" r="6.4"/>
<circle cx="172.5" cy="430.9" r="5.7"/>
<circle cx="140.8" cy="464.5" r="6.5"/>
<circle cx="133.2" cy="464.0" r="5.6"/>
<circle cx="164.2" cy="468.4" r="5.1"/>
<circle cx="178.2" cy="440.5" r="5.1"/>
<circle cx="162.1" cy="452.7" r="5.8"/>
<circle cx="190.6" cy="432.5" r="6.1"/>
<circle cx="181.3" cy="469.5" r="5.6"/>
<circle cx="176.9" cy="406.2" r="5.9"/>
<circle cx="196.3" cy="461.0" r="3.2"/>
<circle cx="129.1" cy="421.8" r="4.9"/>
<circle cx="135.1" cy="433.8" r="4.4"/>
<circle cx="127.5" cy="474.0" r="5.4"/>
<circle cx="155.5" cy="454.6" r="5.8"/>
<circle cx="126.5" cy="464.0" r="5.2"/>
<circle cx="163.0" cy="478.8" r="5.9"/>
<circle cx="195.7" cy="442.7" r="5.1"/>
<circle cx="132.1" cy="483.0" r="5.0"/>
<circle cx="150.0" cy="460.3" r="6.2"/>
<circle cx="184.5" cy="420.8" r="6.3"/>
<circle cx="167.2" cy="432.4" r="5.1"/>
<circle cx="155.1" cy="447.1" r="6.1"/>
<circle cx="181.9" cy="456.7" r="5.8"/>
<circle cx="139.0" cy="454.4" r="4.7"/>
<circle cx="170.7" cy="419.9" r="6.2"/>
<circle cx="193.8" cy="425.1" r="5.3"/>
<circle cx="119.8" cy="444.5" r="3.8"/>
<circle cx="123.4" cy="467.9" r="5.2"/>
<circle cx="148.4" cy="446.0" r="5.1"/>
<circle cx="134.6" cy="443.9" r="6.3"/>
<circle cx="127.9" cy="426.9" r="4.6"/>
<circle cx="122.6" cy="475.1" r="3.1"/>
<circle cx="135.9" cy="468.1" r="4.5"/>
<circle cx="130.0" cy="431.6" r="4.7"/>
<circle cx="168.6" cy="482.0" r="4.9"/>
<circle cx="149.2" cy="425.3" r="6.4"/>
<circle cx="169.1" cy="466.8" r="4.8"/>
<circle cx="146.2" cy="463.9" r="5.2"/>
<circle cx="146.9" cy="455.8" r="4.9"/>
<circle cx="192.4" cy="464.1" r="3.0"/>
<circle cx="160.8" cy="489.8" r="4.1"/>
<circle cx="166.8" cy="442.5" r="6.5"/>
<circle cx="180.0" cy="475.0" r="3.2"/>
<circle cx="205.1" cy="418.9" r="4.1"/>
<circle cx="163.5" cy="462.8" r="4.5"/>
<circle cx="181.2" cy="433.4" r="6.7"/>
<circle cx="204.0" cy="448.5" r="4.7"/>
<circle cx="150.2" cy="411.9" r="3.0"/>
<circle cx="188.6" cy="456.7" r="6.6"/>
<circle cx="179.2" cy="421.9" r="6.0"/>
<circle cx="141.2" cy="413.8" r="6.5"/>
<circle cx="118.7" cy="436.7" r="3.3"/>
<circle cx="157.4" cy="435.5" r="5.3"/>
<circle cx="124.6" cy="445.8" r="6.6"/>
<circle cx="140.4" cy="408.3" r="3.1"/>
<circle cx="128.3" cy="486.2" r="6.2"/>
<circle cx="171.7" cy="408.2" r="5.0"/>
<circle cx="177.6" cy="429.0" r="5.0"/>
<circle cx="191.6" cy="438.5" r="4.7"/>
<circle cx="143.8" cy="436.4" r="6.4"/>
<circle cx="144.9" cy="483.5" r="6.3"/>
<circle cx="176.0" cy="483.5" r="4.3"/>
<circle cx="155.1" cy="413.4" r="4.8"/>
<circle cx="135.3" cy="408.0" r="3.5"/>
<circle cx="136.0" cy="479.5" r="6.3"/>
<circle cx="151.8" cy="489.5" r="3.1"/>
<circle cx="185.7" cy="431.1" r="6.7"/>
<circle cx="168.1" cy="476.8" r="4.4"/>
<circle cx="199.9" cy="457.6" r="4.1"/>
<circle cx="156.4" cy="419.0" r="5.6"/>
<circle cx="173.0" cy="442.1" r="6.3"/>
</g>
<path d="M130.98,408.07 C132.53,406.63 135.82,408.79 139.47,409.77 C143.12,410.74 149.4,414.91 152.89,413.92 C156.38,412.93 157.49,406.25 160.43,403.83 C163.36,401.41 167.62,399.44 170.5,399.4 C173.38,399.36 176.03,401.22 177.73,403.58 C179.43,405.94 178.21,411.37 180.7,413.57 C183.2,415.77 188.75,416.08 192.71,416.77 C196.67,417.47 202.36,416.18 204.48,417.74 C206.6,419.3 206.2,423.08 205.42,426.13 C204.64,429.19 200.04,432.52 199.81,436.07 C199.57,439.61 203.95,444.02 204,447.38 C204.05,450.74 202.6,453.4 200.13,456.23 C197.66,459.06 192.7,461.54 189.2,464.35 C185.69,467.16 181.46,469.77 179.1,473.07 C176.74,476.36 177.41,481.43 175.01,484.13 C172.61,486.82 168.73,488.62 164.7,489.23 C160.67,489.84 155.5,487.34 150.84,487.81 C146.17,488.27 141.24,491.07 136.71,492.03 C132.18,492.98 126.61,494.24 123.66,493.54 C120.71,492.85 118.84,490.37 118.99,487.86 C119.15,485.34 123.88,481.66 124.58,478.46 C125.28,475.27 122.47,472.25 123.18,468.68 C123.88,465.12 129.05,460.73 128.79,457.06 C128.54,453.4 123.28,449.88 121.64,446.7 C120,443.53 118.02,440.8 118.95,438.01 C119.88,435.22 125.34,433.23 127.21,429.95 C129.08,426.68 129.53,422.01 130.16,418.37 C130.79,414.72 129.43,409.5 130.98,408.07Z" fill="url(#shMag)" filter="url(#soft2)"/>
<g filter="url(#bBlue)" fill="url(#hh)">
<path d="M130.83,499.17 C132.43,498.55 136.1,500.95 139.39,502.15 C142.68,503.34 145.78,505.17 150.57,506.34 C155.36,507.51 163.19,509.94 168.11,509.17 C173.04,508.4 177.2,504.36 180.12,501.74 C183.03,499.12 182.51,495.71 185.6,493.45 C188.69,491.19 194.28,488.39 198.68,488.2 C203.08,488.01 208.45,490.94 212.02,492.29 C215.59,493.65 217.33,494.47 220.11,496.33 C222.9,498.19 225.46,502.05 228.74,503.46 C232.02,504.87 236.88,503.03 239.79,504.78 C242.7,506.53 244.46,510.64 246.2,513.97 C247.94,517.3 249.34,520.64 250.24,524.76 C251.15,528.89 250.67,533.96 251.63,538.71 C252.59,543.45 253.86,549.36 256.03,553.22 C258.2,557.09 262.1,559.43 264.63,561.89 C267.16,564.36 270.74,565.84 271.22,568.03 C271.69,570.23 269.88,573.24 267.49,575.05 C265.09,576.86 260.38,577.58 256.84,578.9 C253.29,580.23 249.74,583 246.2,583 C242.66,583 239.24,580.53 235.62,578.93 C232.01,577.32 228.21,575.21 224.52,573.37 C220.83,571.52 217.31,570.22 213.48,567.86 C209.65,565.5 205.13,559.87 201.53,559.21 C197.93,558.54 194.39,561.48 191.87,563.86 C189.36,566.25 189.06,571.51 186.43,573.53 C183.8,575.55 179.72,575.82 176.1,576 C172.48,576.19 168.21,573.93 164.71,574.63 C161.21,575.33 158.2,579.95 155.09,580.2 C151.98,580.46 149.38,577.72 146.05,576.14 C142.71,574.55 138.48,572.91 135.09,570.67 C131.7,568.43 127.93,565.76 125.71,562.69 C123.5,559.61 122.21,555.84 121.79,552.22 C121.37,548.59 123.93,544.79 123.18,540.93 C122.43,537.06 119.85,532.33 117.28,529.04 C114.71,525.75 108.93,523.65 107.75,521.19 C106.56,518.73 108.01,516.06 110.19,514.27 C112.37,512.49 117.56,511.87 120.83,510.47 C124.09,509.07 128.11,507.77 129.78,505.88 C131.45,504 129.23,499.79 130.83,499.17Z" fill="#fff" fill-opacity="0.2"/>
<circle cx="145.5" cy="575.1" r="4.8"/>
<circle cx="113.6" cy="527.9" r="3.1"/>
<circle cx="224.1" cy="512.9" r="6.7"/>
<circle cx="138.2" cy="541.1" r="5.3"/>
<circle cx="235.3" cy="557.0" r="6.3"/>
<circle cx="171.1" cy="564.8" r="6.6"/>
<circle cx="232.0" cy="535.8" r="5.3"/>
<circle cx="169.7" cy="521.2" r="4.9"/>
<circle cx="266.0" cy="572.7" r="5.4"/>
<circle cx="135.9" cy="556.5" r="6.1"/>
<circle cx="237.5" cy="580.7" r="4.1"/>
<circle cx="173.2" cy="539.2" r="5.5"/>
<circle cx="218.3" cy="495.8" r="6.3"/>
<circle cx="120.5" cy="517.6" r="4.8"/>
<circle cx="136.0" cy="565.4" r="6.3"/>
<circle cx="137.6" cy="503.6" r="6.1"/>
<circle cx="177.7" cy="549.0" r="5.6"/>
<circle cx="118.0" cy="510.2" r="3.8"/>
<circle cx="231.3" cy="570.0" r="6.3"/>
<circle cx="252.7" cy="535.8" r="3.6"/>
<circle cx="186.2" cy="505.9" r="4.9"/>
<circle cx="214.1" cy="518.9" r="5.7"/>
<circle cx="128.8" cy="563.7" r="5.0"/>
<circle cx="252.7" cy="581.9" r="3.5"/>
<circle cx="244.9" cy="548.4" r="6.4"/>
<circle cx="198.9" cy="552.9" r="4.6"/>
<circle cx="243.0" cy="513.3" r="6.4"/>
<circle cx="156.1" cy="535.5" r="6.0"/>
<circle cx="153.8" cy="508.5" r="4.5"/>
<circle cx="190.1" cy="567.1" r="4.7"/>
<circle cx="132.7" cy="535.9" r="6.6"/>
<circle cx="208.3" cy="489.7" r="3.4"/>
<circle cx="161.0" cy="569.7" r="4.9"/>
<circle cx="161.9" cy="543.5" r="4.7"/>
<circle cx="224.2" cy="573.5" r="5.1"/>
<circle cx="143.6" cy="502.1" r="3.4"/>
<circle cx="131.5" cy="559.3" r="5.0"/>
<circle cx="176.3" cy="518.4" r="4.5"/>
<circle cx="223.8" cy="534.6" r="5.7"/>
<circle cx="184.0" cy="500.6" r="6.5"/>
<circle cx="136.7" cy="517.0" r="5.7"/>
<circle cx="190.9" cy="543.4" r="5.2"/>
<circle cx="203.0" cy="495.1" r="4.5"/>
<circle cx="231.7" cy="502.8" r="3.9"/>
<circle cx="263.6" cy="560.8" r="5.7"/>
<circle cx="240.9" cy="566.2" r="6.4"/>
<circle cx="141.0" cy="570.0" r="5.1"/>
<circle cx="234.5" cy="513.6" r="5.1"/>
<circle cx="180.2" cy="532.9" r="4.6"/>
<circle cx="164.0" cy="563.4" r="5.1"/>
<circle cx="152.5" cy="544.7" r="5.0"/>
<circle cx="184.5" cy="568.1" r="4.6"/>
<circle cx="243.6" cy="531.6" r="5.9"/>
<circle cx="223.9" cy="556.0" r="6.5"/>
<circle cx="220.7" cy="500.8" r="6.6"/>
<circle cx="163.9" cy="527.8" r="6.0"/>
<circle cx="150.5" cy="504.8" r="3.5"/>
<circle cx="145.0" cy="536.0" r="5.7"/>
<circle cx="242.1" cy="538.1" r="5.8"/>
<circle cx="153.1" cy="514.0" r="4.5"/>
<circle cx="186.4" cy="552.8" r="6.0"/>
<circle cx="240.0" cy="524.5" r="6.3"/>
<circle cx="209.5" cy="562.7" r="5.4"/>
<circle cx="197.1" cy="495.4" r="4.9"/>
<circle cx="162.6" cy="509.9" r="5.3"/>
<circle cx="168.0" cy="570.0" r="6.2"/>
<circle cx="250.6" cy="547.6" r="6.8"/>
<circle cx="257.1" cy="559.1" r="5.2"/>
<circle cx="204.4" cy="510.7" r="6.1"/>
<circle cx="233.8" cy="520.4" r="5.7"/>
<circle cx="235.1" cy="563.5" r="4.5"/>
<circle cx="144.7" cy="528.4" r="6.8"/>
<circle cx="230.4" cy="554.3" r="4.9"/>
<circle cx="170.7" cy="510.8" r="5.8"/>
<circle cx="178.7" cy="566.1" r="5.1"/>
<circle cx="213.6" cy="533.8" r="5.7"/>
<circle cx="249.6" cy="530.1" r="6.2"/>
<circle cx="237.1" cy="570.5" r="5.4"/>
<circle cx="160.5" cy="518.8" r="5.2"/>
<circle cx="155.9" cy="525.6" r="4.7"/>
<circle cx="192.4" cy="492.2" r="5.9"/>
<circle cx="214.8" cy="512.6" r="6.7"/>
<circle cx="159.3" cy="530.0" r="6.3"/>
<circle cx="182.8" cy="562.1" r="6.1"/>
<circle cx="162.4" cy="548.8" r="5.3"/>
<circle cx="193.4" cy="550.5" r="5.8"/>
<circle cx="123.0" cy="532.9" r="6.7"/>
<circle cx="152.6" cy="558.4" r="6.1"/>
<circle cx="212.0" cy="544.1" r="5.5"/>
<circle cx="132.3" cy="528.1" r="5.3"/>
<circle cx="182.4" cy="510.4" r="4.8"/>
<circle cx="211.0" cy="503.2" r="6.3"/>
<circle cx="186.8" cy="529.5" r="4.8"/>
<circle cx="200.8" cy="502.5" r="6.5"/>
<circle cx="239.5" cy="552.7" r="6.2"/>
<circle cx="246.8" cy="561.5" r="6.6"/>
<circle cx="132.6" cy="501.3" r="6.3"/>
<circle cx="196.6" cy="521.5" r="5.3"/>
<circle cx="165.2" cy="554.0" r="6.3"/>
<circle cx="227.3" cy="521.8" r="5.7"/>
<circle cx="132.2" cy="514.4" r="6.2"/>
<circle cx="125.6" cy="522.7" r="6.3"/>
<circle cx="255.7" cy="553.1" r="6.2"/>
<circle cx="172.7" cy="554.2" r="4.6"/>
<circle cx="210.4" cy="529.9" r="4.6"/>
<circle cx="216.7" cy="563.9" r="5.9"/>
<circle cx="148.6" cy="521.1" r="4.5"/>
<circle cx="250.7" cy="558.5" r="4.5"/>
<circle cx="161.7" cy="558.3" r="5.8"/>
<circle cx="133.8" cy="543.7" r="5.1"/>
<circle cx="200.1" cy="525.1" r="6.4"/>
<circle cx="191.4" cy="527.5" r="6.2"/>
<circle cx="247.2" cy="519.1" r="5.1"/>
<circle cx="178.6" cy="541.1" r="5.3"/>
<circle cx="177.2" cy="557.0" r="5.5"/>
<circle cx="207.8" cy="534.3" r="4.8"/>
<circle cx="208.8" cy="517.4" r="4.9"/>
<circle cx="179.9" cy="506.0" r="5.4"/>
<circle cx="152.1" cy="577.8" r="4.7"/>
<circle cx="224.0" cy="507.0" r="5.2"/>
<circle cx="220.4" cy="528.0" r="6.3"/>
<circle cx="135.7" cy="550.1" r="5.6"/>
<circle cx="146.4" cy="559.4" r="4.8"/>
<circle cx="177.1" cy="527.9" r="5.0"/>
<circle cx="111.5" cy="512.9" r="4.0"/>
<circle cx="242.3" cy="576.3" r="5.4"/>
<circle cx="162.3" cy="535.4" r="5.4"/>
<circle cx="252.4" cy="541.0" r="4.8"/>
<circle cx="210.7" cy="494.7" r="5.8"/>
<circle cx="213.4" cy="568.7" r="4.6"/>
<circle cx="125.2" cy="506.5" r="3.0"/>
<circle cx="199.8" cy="544.0" r="5.2"/>
<circle cx="193.5" cy="559.5" r="5.9"/>
<circle cx="203.3" cy="540.3" r="6.0"/>
<circle cx="155.4" cy="564.6" r="5.7"/>
<circle cx="226.6" cy="562.2" r="5.5"/>
<circle cx="240.4" cy="518.1" r="6.7"/>
<circle cx="213.4" cy="550.4" r="6.6"/>
<circle cx="219.0" cy="546.4" r="6.1"/>
<circle cx="195.4" cy="515.5" r="5.8"/>
<circle cx="222.6" cy="550.8" r="5.3"/>
<circle cx="222.4" cy="540.8" r="5.4"/>
<circle cx="128.0" cy="539.9" r="6.0"/>
<circle cx="175.0" cy="577.3" r="3.3"/>
<circle cx="244.4" cy="580.8" r="6.7"/>
<circle cx="144.3" cy="565.0" r="6.1"/>
<circle cx="164.3" cy="574.1" r="5.2"/>
<circle cx="168.2" cy="549.7" r="4.9"/>
<circle cx="150.2" cy="565.2" r="5.3"/>
<circle cx="237.4" cy="529.5" r="5.6"/>
<circle cx="158.6" cy="575.3" r="5.8"/>
<circle cx="194.1" cy="505.8" r="6.8"/>
<circle cx="168.4" cy="534.8" r="5.1"/>
<circle cx="232.8" cy="508.5" r="5.5"/>
<circle cx="142.9" cy="544.4" r="5.6"/>
<circle cx="271.0" cy="566.1" r="3.0"/>
<circle cx="244.8" cy="542.3" r="6.1"/>
<circle cx="229.3" cy="530.8" r="4.9"/>
<circle cx="259.2" cy="566.8" r="4.4"/>
<circle cx="233.7" cy="574.4" r="6.4"/>
<circle cx="251.8" cy="571.2" r="4.5"/>
<circle cx="204.8" cy="561.1" r="4.9"/>
<circle cx="214.1" cy="524.5" r="4.9"/>
<circle cx="220.0" cy="569.7" r="5.4"/>
<circle cx="133.8" cy="521.6" r="5.8"/>
<circle cx="134.7" cy="508.2" r="5.9"/>
<circle cx="129.6" cy="551.5" r="5.0"/>
<circle cx="122.5" cy="513.0" r="6.3"/>
<circle cx="241.4" cy="507.8" r="4.6"/>
<circle cx="208.4" cy="548.4" r="5.3"/>
<circle cx="150.8" cy="530.2" r="4.5"/>
<circle cx="216.6" cy="556.6" r="4.9"/>
<circle cx="187.1" cy="513.2" r="5.3"/>
<circle cx="189.1" cy="538.1" r="4.6"/>
<circle cx="170.4" cy="545.3" r="5.0"/>
<circle cx="191.0" cy="501.9" r="5.2"/>
<circle cx="142.0" cy="518.8" r="4.7"/>
<circle cx="139.1" cy="511.9" r="5.7"/>
<circle cx="198.5" cy="488.4" r="5.1"/>
<circle cx="230.3" cy="545.1" r="6.7"/>
<circle cx="257.8" cy="577.8" r="6.7"/>
<circle cx="199.4" cy="507.3" r="6.0"/>
<circle cx="120.4" cy="523.5" r="5.5"/>
<circle cx="122.9" cy="551.6" r="4.4"/>
<circle cx="220.8" cy="560.7" r="6.1"/>
<circle cx="222.0" cy="522.9" r="4.4"/>
<circle cx="203.8" cy="531.2" r="5.6"/>
<circle cx="170.0" cy="529.4" r="5.7"/>
<circle cx="216.6" cy="538.6" r="5.7"/>
<circle cx="210.7" cy="555.2" r="5.6"/>
<circle cx="114.2" cy="521.2" r="5.0"/>
<circle cx="216.6" cy="505.6" r="5.0"/>
<circle cx="191.5" cy="510.6" r="6.2"/>
<circle cx="125.8" cy="528.8" r="4.7"/>
<circle cx="182.5" cy="519.6" r="6.7"/>
<circle cx="196.5" cy="531.3" r="6.1"/>
<circle cx="221.2" cy="517.3" r="6.5"/>
<circle cx="152.5" cy="572.8" r="6.6"/>
<circle cx="154.0" cy="550.5" r="6.4"/>
<circle cx="121.8" cy="545.3" r="4.3"/>
<circle cx="173.8" cy="524.0" r="6.1"/>
<circle cx="183.4" cy="538.0" r="6.7"/>
<circle cx="188.3" cy="495.3" r="4.4"/>
<circle cx="248.3" cy="576.0" r="6.4"/>
<circle cx="189.8" cy="518.6" r="5.6"/>
<circle cx="175.1" cy="504.4" r="5.0"/>
<circle cx="147.0" cy="510.4" r="6.3"/>
<circle cx="140.5" cy="549.1" r="5.0"/>
<circle cx="136.2" cy="532.4" r="4.4"/>
<circle cx="206.2" cy="522.5" r="4.6"/>
<circle cx="208.3" cy="540.7" r="4.6"/>
<circle cx="130.9" cy="568.7" r="3.7"/>
<circle cx="141.8" cy="553.9" r="4.9"/>
<circle cx="225.8" cy="499.1" r="3.3"/>
<circle cx="124.3" cy="557.3" r="5.2"/>
<circle cx="229.0" cy="577.0" r="3.9"/>
<circle cx="231.1" cy="526.1" r="4.6"/>
<circle cx="244.2" cy="554.3" r="6.3"/>
<circle cx="182.2" cy="573.9" r="4.5"/>
<circle cx="167.2" cy="539.8" r="5.0"/>
<circle cx="239.2" cy="546.6" r="4.5"/>
<circle cx="253.8" cy="563.5" r="6.2"/>
<circle cx="245.7" cy="570.0" r="6.6"/>
<circle cx="150.9" cy="537.0" r="4.6"/>
<circle cx="236.5" cy="540.0" r="5.3"/>
<circle cx="203.1" cy="547.7" r="5.6"/>
<circle cx="229.9" cy="515.5" r="5.0"/>
<circle cx="199.0" cy="560.3" r="5.1"/>
<circle cx="252.0" cy="525.2" r="3.1"/>
<circle cx="127.4" cy="511.3" r="5.2"/>
<circle cx="187.2" cy="523.6" r="4.9"/>
<circle cx="182.2" cy="527.8" r="5.6"/>
<circle cx="141.2" cy="523.9" r="6.2"/>
<circle cx="167.1" cy="515.8" r="4.7"/>
<circle cx="148.8" cy="548.6" r="5.6"/>
<circle cx="184.4" cy="545.9" r="6.5"/>
<circle cx="195.3" cy="541.0" r="4.6"/>
<circle cx="108.3" cy="518.9" r="4.6"/>
<circle cx="119.0" cy="535.9" r="3.1"/>
<circle cx="265.4" cy="567.7" r="6.8"/>
<circle cx="122.4" cy="540.4" r="4.8"/>
<circle cx="167.9" cy="558.4" r="6.2"/>
<circle cx="188.6" cy="572.0" r="3.6"/>
<circle cx="174.6" cy="569.3" r="4.6"/>
<circle cx="188.5" cy="558.8" r="6.1"/>
<circle cx="201.2" cy="535.8" r="5.7"/>
<circle cx="257.0" cy="572.2" r="6.0"/>
<circle cx="237.1" cy="534.7" r="6.7"/>
<circle cx="227.8" cy="549.6" r="4.5"/>
<circle cx="127.6" cy="517.7" r="6.4"/>
<circle cx="228.1" cy="539.8" r="6.6"/>
<circle cx="241.1" cy="559.0" r="4.9"/>
<circle cx="238.2" cy="503.4" r="3.4"/>
<circle cx="136.8" cy="572.9" r="3.8"/>
<circle cx="203.7" cy="555.5" r="5.2"/>
<circle cx="157.6" cy="580.5" r="3.0"/>
<circle cx="246.9" cy="537.1" r="4.6"/>
<circle cx="146.3" cy="516.1" r="5.4"/>
<circle cx="157.9" cy="512.1" r="6.0"/>
<circle cx="148.9" cy="554.0" r="6.8"/>
<circle cx="233.8" cy="549.8" r="6.2"/>
<circle cx="174.1" cy="533.6" r="4.5"/>
<circle cx="140.5" cy="561.9" r="5.0"/>
<circle cx="218.5" cy="533.7" r="6.3"/>
<circle cx="250.1" cy="553.6" r="6.3"/>
<circle cx="246.2" cy="525.1" r="5.2"/>
<circle cx="177.3" cy="510.2" r="4.4"/>
<circle cx="200.3" cy="518.2" r="6.1"/>
<circle cx="195.8" cy="500.7" r="6.3"/>
<circle cx="224.9" cy="545.4" r="4.7"/>
<circle cx="193.8" cy="536.2" r="5.9"/>
<circle cx="118.0" cy="530.4" r="4.6"/>
<circle cx="166.9" cy="507.5" r="3.1"/>
<circle cx="195.1" cy="545.9" r="6.5"/>
<circle cx="169.8" cy="575.5" r="5.2"/>
<circle cx="182.1" cy="556.5" r="5.8"/>
<circle cx="204.9" cy="499.8" r="5.3"/>
<circle cx="226.0" cy="568.7" r="5.0"/>
<circle cx="148.3" cy="541.8" r="6.5"/>
<circle cx="175.5" cy="562.3" r="6.0"/>
<circle cx="128.5" cy="545.8" r="6.8"/>
<circle cx="206.4" cy="505.5" r="5.0"/>
<circle cx="263.3" cy="577.4" r="4.3"/>
<circle cx="180.3" cy="515.2" r="5.7"/>
<circle cx="159.9" cy="553.4" r="4.7"/>
<circle cx="159.0" cy="506.5" r="3.8"/>
<circle cx="231.3" cy="560.1" r="4.9"/>
<circle cx="215.4" cy="500.9" r="5.9"/>
<circle cx="154.7" cy="519.9" r="5.4"/>
<circle cx="115.4" cy="516.1" r="4.8"/>
<circle cx="209.5" cy="511.2" r="6.6"/>
<circle cx="159.3" cy="539.3" r="5.3"/>
<circle cx="127.9" cy="534.9" r="5.9"/>
<circle cx="139.8" cy="535.8" r="5.3"/>
<circle cx="255.5" cy="547.5" r="3.8"/>
<circle cx="142.2" cy="507.3" r="5.5"/>
<circle cx="182.7" cy="495.4" r="3.5"/>
<circle cx="249.6" cy="566.4" r="6.0"/>
<circle cx="147.5" cy="569.4" r="4.5"/>
<circle cx="199.4" cy="512.2" r="5.8"/>
<circle cx="109.8" cy="523.7" r="4.0"/>
<circle cx="219.9" cy="509.8" r="5.1"/>
<circle cx="225.8" cy="526.7" r="5.8"/>
<circle cx="161.2" cy="523.7" r="6.6"/>
<circle cx="157.7" cy="547.2" r="5.3"/>
</g>
<g filter="url(#bOr)" fill="url(#hh)">
<path d="M143.08,499.32 C143.35,497.99 143.9,495.38 145.13,494.26 C146.36,493.13 148.03,492.76 150.46,492.57 C152.89,492.37 156.58,492.77 159.69,493.08 C162.8,493.4 166.49,493.84 169.13,494.48 C171.77,495.11 174.41,495.92 175.55,496.9 C176.69,497.88 176.36,499.09 175.97,500.36 C175.57,501.62 174.91,503.48 173.18,504.49 C171.44,505.5 168.38,506.11 165.58,506.43 C162.77,506.75 159.24,506.72 156.34,506.42 C153.43,506.12 150.28,505.32 148.14,504.62 C146,503.91 144.37,503.08 143.52,502.2 C142.68,501.32 142.82,500.64 143.08,499.32Z" fill="#fff" fill-opacity="0.2"/>
<circle cx="148.1" cy="495.0" r="4.8"/>
<circle cx="174.7" cy="501.0" r="3.9"/>
<circle cx="169.1" cy="504.5" r="4.8"/>
<circle cx="145.1" cy="500.6" r="5.0"/>
<circle cx="166.5" cy="498.4" r="5.0"/>
<circle cx="158.1" cy="497.5" r="4.8"/>
<circle cx="158.6" cy="492.2" r="4.4"/>
<circle cx="172.5" cy="495.7" r="3.9"/>
<circle cx="163.4" cy="505.0" r="4.6"/>
<circle cx="151.9" cy="492.1" r="4.9"/>
<circle cx="156.9" cy="503.4" r="5.2"/>
<circle cx="147.9" cy="505.3" r="4.6"/>
<circle cx="149.2" cy="499.8" r="4.2"/>
<circle cx="151.8" cy="503.6" r="3.9"/>
<circle cx="163.3" cy="493.4" r="4.1"/>
<circle cx="156.5" cy="507.8" r="3.5"/>
<circle cx="161.5" cy="501.2" r="5.5"/>
<circle cx="143.4" cy="494.6" r="3.0"/>
<circle cx="153.2" cy="497.1" r="4.9"/>
<circle cx="168.6" cy="492.7" r="3.1"/>
<circle cx="173.6" cy="506.0" r="3.0"/>
<circle cx="170.5" cy="500.1" r="5.4"/>
<circle cx="176.8" cy="496.2" r="3.0"/>
<circle cx="166.6" cy="508.0" r="3.0"/>
</g>
<g filter="url(#bOr)" fill="url(#hh)">
<path d="M190.09,492.25 C190,491.66 190.61,491.01 191.82,490.51 C193.02,490.02 195.19,489.42 197.32,489.28 C199.45,489.14 202.35,489.38 204.57,489.67 C206.8,489.96 209.19,490.53 210.69,491.01 C212.19,491.49 213.13,492.16 213.58,492.53 C214.02,492.91 214.34,493.04 213.35,493.27 C212.35,493.5 209.97,493.74 207.59,493.93 C205.21,494.12 201.59,494.38 199.06,494.4 C196.52,494.42 193.88,494.39 192.39,494.03 C190.89,493.67 190.18,492.83 190.09,492.25Z" fill="#fff" fill-opacity="0.2"/>
<circle cx="204.7" cy="495.8" r="3.0"/>
<circle cx="197.8" cy="494.5" r="3.9"/>
<circle cx="202.7" cy="491.1" r="4.5"/>
<circle cx="194.3" cy="490.5" r="4.4"/>
<circle cx="211.1" cy="494.3" r="4.0"/>
<circle cx="200.1" cy="487.7" r="3.0"/>
<circle cx="206.0" cy="488.2" r="3.0"/>
<circle cx="193.6" cy="495.6" r="3.1"/>
<circle cx="190.0" cy="491.8" r="4.0"/>
<circle cx="210.0" cy="490.1" r="4.5"/>
<circle cx="214.5" cy="491.8" r="3.0"/>
</g>
<path d="M146.8,558 L149,551" fill="none" stroke="#16c2c4" stroke-width="1.1"/>
<path d="M153.36,550.97 L146.33,543.24 L156.74,541.38 L149.7,533.65 L160.1,531.79 L153.05,524.06 L163.42,522.21 L156.35,514.47 L166.7,512.62 L159.6,504.88 L169.92,503.03 L162.79,495.29 L173.09,493.44 L165.94,485.71 L176.22,483.85 L169.05,476.12 L179.31,474.26 L172.14,466.53" fill="none" stroke="#12b4b6" stroke-width="5.2" stroke-linecap="round" stroke-linejoin="round"/>
<path d="M153.36,550.97 L146.33,543.24 L156.74,541.38 L149.7,533.65 L160.1,531.79 L153.05,524.06 L163.42,522.21 L156.35,514.47 L166.7,512.62 L159.6,504.88 L169.92,503.03 L162.79,495.29 L173.09,493.44 L165.94,485.71 L176.22,483.85 L169.05,476.12 L179.31,474.26 L172.14,466.53" fill="none" stroke="#22e6e6" stroke-width="4.2" stroke-linecap="round" stroke-linejoin="round"/>
<path d="M175.5,468 C172,462 168,452 171,447.5 C174.5,443 180,449 182,454 C186,450.5 192,449.5 196,451 C199,452 200,453.5 201.4,454.4" fill="none" stroke="#16c2c4" stroke-width="1.4" stroke-linecap="round"/>
<polygon points="200,451.6 222,459.5 223.2,457 229,465 219.2,466.8 220.4,464.4 198.4,456.6" fill="#22e6e6" stroke="#12b4b6" stroke-width="0.7" stroke-linejoin="round"/>
<path d="M227,464.5 C233,465.5 238.5,464 240,458.5 C241.5,453 238,450 233.6,451" fill="none" stroke="#16c2c4" stroke-width="1.3" stroke-linecap="round"/>
<g>
<path d="M97.5,178.5 C106,180.5 112.5,184.5 111.6,188.5 C110.5,194 104,196 97,194.5 C90,193 85,190.6 79,190.4 C75,190.3 71.5,190.3 68.7,191" fill="none" stroke="#e0a09d" stroke-width="2.1" stroke-linecap="round"/>
<path d="M97.5,178.5 C106,180.5 112.5,184.5 111.6,188.5 C110.5,194 104,196 97,194.5 C90,193 85,190.6 79,190.4 C75,190.3 71.5,190.3 68.7,191" fill="none" stroke="#efc4c1" stroke-width="0.7" stroke-linecap="round"/>
<path d="M78.8,183.6 L93.8,183.2 L94,187 L86,187.6 L80,186.2 Z" fill="#e8aaa8"/>
<path d="M53,181.5 L57.2,182.2 L52,186 L44.5,186.3 L44.2,185.2 L50,184.2 Z" fill="#e8aaa8"/>
<path d="M34.7,167.3 C38,164 45,160 50.2,157.8 C51,156 53.5,155.6 54.6,157.2 C55.5,159 58,160.8 62.8,161.2 C68,160.4 72,160.2 76.5,160.4 C82,160.6 86,162.6 90,166 C94,169.4 98,173 98.6,176.5 C98.8,179.5 96,181.8 92.2,182.6 C86,183.8 80,181.8 75.4,182 C70,182.2 66,184.6 62.8,184.3 C60.5,184 59,183.2 58.6,182.8 C56,181.5 54,180.5 52.7,178.6 C51.5,176.5 50,174.4 48.5,173.6 C46,172.5 43,172.5 40.1,171.9 C38,171.2 36,170.2 35.1,168.9 Z" fill="#ebe8e5" stroke="#dcd7d1" stroke-width="0.5"/>
<path d="M98.6,176.5 C98.8,179.5 96,181.8 92.2,182.6 C86,183.8 80,181.8 75.4,182 C70,182.2 66,184.6 62.8,184.3 C60.5,184 59.5,183.4 59.2,182 C64,181 68,179 73,177.8 C79,176.6 85,178 88.5,175 C90.5,173 91,169.5 90.5,166.5 C94,169.4 98,173 98.6,176.5Z" fill="#d3cdc6"/>
<ellipse cx="55.6" cy="164" rx="3.3" ry="3.6" fill="#e9b0ae"/>
<circle cx="34.9" cy="167.4" r="0.9" fill="#e9b0ae"/>
<circle cx="44.5" cy="165.6" r="1.1" fill="#9c1f2b"/>
</g>
<g>
<path d="M46,466 L50.8,467 L50.6,490 L49.6,503 C49,505.5 46.6,505.8 46,503.5 L44.8,492 L44.6,478 Z" fill="#4a4a4d"/>
<path d="M78,466 L73.2,467 L73.4,490 L74.4,503 C75,505.5 77.4,505.8 78,503.5 L79.2,492 L79.4,478 Z" fill="#4a4a4d"/>
<rect x="58.2" y="446" width="6.4" height="8" fill="#4a4a4d"/>
<ellipse cx="61.8" cy="441.2" rx="7" ry="9" fill="#4a4a4d"/>
<path d="M51.5,549.5 L56.6,550.5 L55.6,556.5 L50,561 L47,560.5 L47.6,556 Z" fill="#454547"/>
<path d="M71.5,549.5 L66.4,550.5 L67.4,556.5 L72.5,560.2 L75.6,559.6 L75.2,555.6 Z" fill="#454547"/>
<path d="M50,493 L74,493 L74.6,510 L73.4,551.5 L67,551.5 L63.4,508 L62,505 L60.5,551.5 L51.2,551.5 L49.8,515 Z" fill="#4d5e6f"/>
<path d="M56.5,451.6 C59,453.4 64,453.4 66.5,451.6 L74.5,454.2 C77.5,455.5 78.8,458 79,461 L79.4,468.4 L73.6,469.2 L73.6,494.4 C66,495.8 58,495.8 50.3,494.4 L50.3,469.2 L44.6,468.4 L45,461 C45.2,458 46.5,455.5 49.5,454.2 Z" fill="#d4dbea"/>
<path d="M50.3,494.4 C58,495.8 66,495.8 73.6,494.4 L73.6,488 C66,489.5 58,486 50.3,489 Z" fill="#c3cce0" opacity="0.6"/>
</g>
</svg>
</body></html>
